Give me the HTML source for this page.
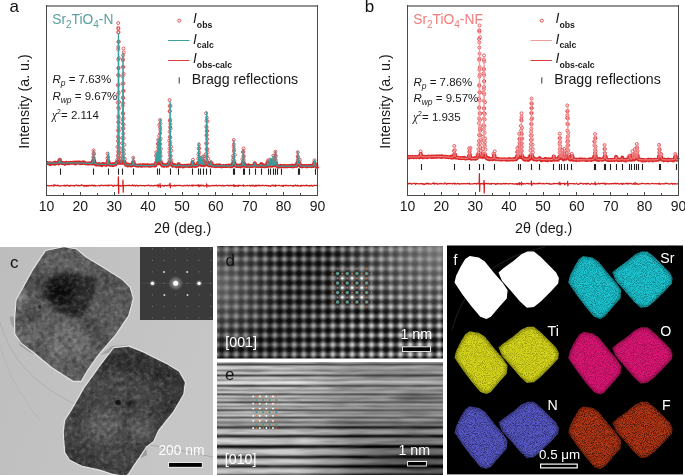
<!DOCTYPE html>
<html><head><meta charset="utf-8"><style>html,body{margin:0;padding:0;background:#fff;}svg{display:block;will-change:transform;}</style></head>
<body><svg width="685" height="475" viewBox="0 0 685 475" font-family="Liberation Sans">
<rect width="685" height="475" fill="#fff"/>
<path d="M46.5,162.98 47.11,163.08 47.72,162.92 48.33,163.44 48.94,163.38 49.55,163.19 50.16,164.08 50.77,163.44 51.38,163.59 51.99,163.32 52.6,163.41 53.21,163.54 53.82,163.03 54.43,162.8 55.04,163.84 55.65,162.73 56.26,162.82 56.87,163.13 57.48,162.99 58.09,163.16 58.69,163.44 58.9,163.05 59,162.03 59.1,162.22 59.2,162.06 59.3,161.36 59.41,160.03 59.51,160.03 59.61,160.54 59.71,160.21 59.81,160.04 59.91,159.8 60.02,160.91 60.12,162.13 60.22,161.75 60.32,162.68 60.42,162.65 60.52,162.45 61.13,162.61 61.74,163.2 62.35,163.07 62.96,162.89 63.57,163.17 64.18,163.22 64.79,163.84 65.4,163.02 66.01,162.82 66.62,162.71 67.23,163.15 67.84,163.23 68.45,162.91 69.06,163.24 69.67,162.97 70.28,162.84 70.89,162.75 71.5,162.9 72.11,162.94 72.72,162.75 73.33,162.53 73.94,162.52 74.55,163.18 75.16,162.65 75.77,163.37 76.38,162.41 76.99,162.79 77.6,162.73 78.21,162.43 78.82,162.3 79.43,162.58 80.04,163.21 80.65,162.6 81.26,162.98 81.87,163.02 82.48,163.11 83.08,162.25 83.69,162.78 84.3,162.39 84.91,163.17 85.52,163.29 86.13,163.44 86.74,163.37 87.35,163.55 87.96,163.54 88.57,163.4 89.18,163.58 89.79,163.09 90.4,163.44 91.01,163.07 91.62,163.16 92.13,163.27 92.23,163.59 92.33,163.06 92.43,163.23 92.54,162.95 92.64,163.19 92.74,162.77 92.84,162.03 92.94,161.87 93.04,160.81 93.15,160.69 93.25,161.25 93.35,160.75 93.45,160.56 93.55,160.11 93.65,160.31 93.76,161.05 93.86,159.79 93.96,161.09 94.06,160.45 94.16,160.7 94.26,162.21 94.37,161.93 94.47,162.61 94.57,162.73 94.67,163.08 94.77,163.61 94.87,163.92 94.98,162.93 95.28,163.28 95.89,164.54 96.5,164.12 97.11,164.58 97.72,164.62 98.33,164.14 98.94,163.93 99.55,164.49 100.16,164.4 100.77,164.79 101.38,164.5 101.99,165.15 102.6,163.95 103.21,163.96 103.82,164.35 104.43,164.18 105.04,164.57 105.65,164.31 106.26,164.87 106.66,164.41 106.76,164.46 106.87,164.11 106.97,164.2 107.07,164 107.17,163.71 107.27,163.9 107.37,162.93 107.47,162.92 107.58,162.1 107.68,162.2 107.78,161.75 107.88,161.31 107.98,161.8 108.08,161.96 108.19,162 108.29,162.13 108.39,162.11 108.49,162.03 108.59,162.3 108.69,161.89 108.8,163.06 108.9,163.51 109,163.91 109.1,164.15 109.2,164.05 109.3,164.18 109.41,164.34 109.51,163.71 109.61,164.55 109.71,164.77 109.81,164.46 109.91,164.43 110.52,164.59 111.13,165.04 111.74,164.56 112.35,165.02 112.96,164.25 113.17,164.49 113.27,165.13 113.37,164.49 113.47,164.21 113.57,164.72 113.67,164.48 113.78,164.59 113.88,164.76 113.98,164.43 114.08,164.7 114.18,164.46 114.28,164.54 114.39,164.42 114.49,164.07 114.59,164.19 114.69,164.22 114.79,164.62 114.89,164.11 115,164.02 115.1,164.33 115.2,164.46 115.3,164.22 115.4,164.04 115.5,163.62 115.6,164.15 115.71,164.27 115.81,163.78 115.91,163.84 116.01,163.42 116.11,163.36 116.21,163.47 116.32,163.23 116.42,163.26 116.52,162.97 116.62,162.54 116.72,162.23 116.82,162.35 116.93,161.83 117.03,162.34 117.13,162.08 117.23,161.78 117.33,161.91 117.43,162.08 117.54,162.94 117.64,162.16 117.74,161.82 117.84,162.49 117.94,161.89 118.04,161.8 118.15,162.32 118.25,162.51 118.35,162.82 118.45,162.33 118.55,161.99 118.65,162.24 118.76,162.64 118.86,162.72 118.96,161.99 119.06,162.75 119.16,162.18 119.26,161.89 119.37,162.45 119.47,162.29 119.57,161.81 119.67,161.96 119.77,162.27 119.87,162.39 119.97,161.92 120.08,162.6 120.18,162 120.28,161.98 120.38,162.48 120.48,162.64 120.58,162.2 120.69,162.3 120.79,162.5 120.89,162.73 120.99,162.23 121.09,162.24 121.19,162.1 121.3,161.78 121.4,162.49 121.5,162.17 121.6,162.59 121.7,162.15 121.8,162.7 121.91,162.37 122.01,162.61 122.11,161.92 122.21,162.1 122.31,162.14 122.41,162.87 122.52,162.44 122.62,162.16 122.72,161.64 122.82,162.02 122.92,162.72 123.02,162.17 123.13,162.5 123.23,161.82 123.33,162.44 123.43,162.64 123.53,162.46 123.63,162.03 123.73,162 123.84,162.51 123.94,162.01 124.04,161.9 124.14,162.38 124.24,162 124.34,161.99 124.45,162.28 124.55,162.3 124.65,162.02 124.75,162.75 124.85,163.37 124.95,163.44 125.06,163.73 125.16,163.88 125.26,163.75 125.36,163.93 125.46,163.67 125.56,163.79 125.67,163.92 125.77,163.88 125.87,164.9 125.97,164.77 126.07,163.96 126.17,164.68 126.28,164.56 126.38,164.71 126.48,164.74 126.58,164.94 126.68,164.34 126.78,164.44 126.89,164.63 126.99,165.06 127.09,164.82 127.19,164.82 127.29,164.79 127.39,165.12 127.5,165.02 127.6,165.35 127.7,165.52 127.8,165.16 127.9,164.72 128,164.63 128.21,164.99 128.82,165.15 129.43,165.15 130.04,165.26 130.65,165.19 131.26,165.56 131.86,165.04 131.97,165.39 132.07,165.03 132.17,164.8 132.27,164.84 132.37,164.51 132.47,164.49 132.58,163.43 132.68,163.51 132.78,162.88 132.88,162.81 132.98,162.26 133.08,162.15 133.19,162.84 133.29,162.06 133.39,162.45 133.49,162.38 133.59,162.56 133.69,163.22 133.8,164.15 133.9,163.68 134,164.47 134.1,164.15 134.2,164.68 134.3,164.51 134.41,164.95 134.91,165.05 135.52,165.38 136.13,165.51 136.74,165.4 137.35,165.6 137.96,165.74 138.57,165.38 139.18,165.43 139.79,165.22 140.4,165.18 141.01,165.67 141.62,165.94 142.23,165.53 142.84,165.04 143.45,165.27 144.06,165.57 144.67,165.54 145.28,165.24 145.89,165.56 146.5,165.55 147.11,165.1 147.72,165.23 148.33,165.7 148.94,165.25 149.55,165.46 150.16,165.88 150.77,165.76 151.38,165.71 151.99,165.12 152.6,165.24 153.21,165.42 153.82,165.35 154.43,165.49 154.53,165.46 154.63,165.53 154.73,165.62 154.83,165.12 154.93,164.81 155.04,165.33 155.14,165.06 155.24,165 155.34,164.72 155.44,164.72 155.54,165.35 155.65,163.93 155.75,164.45 155.85,163.96 155.95,163.48 156.05,162.55 156.15,162.7 156.25,162.56 156.36,162.62 156.46,162.57 156.56,163.2 156.66,163.02 156.76,162.88 156.86,162.84 156.97,162.54 157.07,162.27 157.17,162.81 157.27,162.43 157.37,162.54 157.47,162.43 157.58,162.57 157.68,162.55 157.78,163.1 157.88,163.15 157.98,162.71 158.08,162.88 158.19,162.7 158.29,162.8 158.39,162.58 158.49,162.83 158.59,162.24 158.69,161.97 158.8,163.27 158.9,162.76 159,162.72 159.1,162.88 159.2,162.77 159.3,162.96 159.41,162.39 159.51,162.53 159.61,163.11 159.71,162.8 159.81,162.51 159.91,162.32 160.02,163.26 160.12,163.04 160.22,162.9 160.32,162.29 160.42,162.54 160.52,162.38 160.62,162.15 160.73,162.55 160.83,162.6 160.93,163.36 161.03,162.32 161.13,163.03 161.23,163.3 161.34,163.77 161.44,163.89 161.54,164.37 161.64,164.23 161.74,164.77 161.84,164.77 161.95,164.37 162.05,164.69 162.15,165.38 162.25,165.43 162.35,164.71 162.45,165.13 162.56,165.57 162.66,165.27 162.76,164.96 162.86,165.38 162.96,165.27 163.06,164.74 163.17,165.41 163.27,165.34 163.37,165.5 163.47,165.87 163.57,165.89 163.67,165.83 164.18,165.91 164.79,165.15 165.4,165.12 166.01,165.53 166.42,165.37 166.52,165.5 166.62,165.21 166.72,165.51 166.82,165.8 166.93,165.26 167.03,165.25 167.13,165.09 167.23,164.6 167.33,165.12 167.43,165.09 167.54,165.19 167.64,164.86 167.74,165.44 167.84,165.28 167.94,165.47 168.04,164.01 168.15,164.56 168.25,164.84 168.35,164.65 168.45,164.5 168.55,164.2 168.65,164.33 168.75,163.66 168.86,163.41 168.96,163.84 169.06,162.74 169.16,163.12 169.26,162.87 169.36,163.07 169.47,162.84 169.57,163.12 169.67,163.19 169.77,162.79 169.87,162.68 169.97,162.65 170.08,162.57 170.18,163.29 170.28,163.39 170.38,162.28 170.48,162.6 170.58,162.88 170.69,163.11 170.79,162.48 170.89,162.67 170.99,162.88 171.09,163.1 171.19,162.57 171.3,163.28 171.4,163.12 171.5,164 171.6,163.79 171.7,164.09 171.8,164.62 171.91,164.66 172.01,164.89 172.11,164.73 172.21,164.79 172.31,165.33 172.41,165.6 172.51,165.22 172.62,165.28 172.72,164.97 172.82,165.8 172.92,165.17 173.02,165.44 173.12,165.76 173.23,164.53 173.33,165.3 173.43,165.01 173.94,165.38 174.55,165.59 175.16,165.2 175.77,166.02 176.38,166.41 176.99,165.61 177.6,165.67 178.1,165.89 178.21,165.3 178.31,164.59 178.41,164.81 178.51,164.2 178.61,164.67 178.71,164.19 178.82,165.09 178.92,164.56 179.02,165.14 179.12,164.75 179.43,166.43 180.04,165.77 180.64,165.69 181.25,165.93 181.86,165.86 182.47,165.97 183.08,166.53 183.69,166.33 184.3,165.71 184.91,165.95 185.52,165.82 186.13,166 186.74,165.54 187.35,165.74 187.96,165.38 188.57,166.01 189.18,165.64 189.79,166.19 190.4,165.85 191.01,165.3 191.62,166.01 191.72,164.75 191.82,166.05 191.93,165.38 192.03,164.87 192.13,164.19 192.23,163.32 192.33,162.92 192.43,162.73 192.54,162.99 192.64,162.19 192.74,163.07 192.84,163.33 192.94,164.2 193.04,164.55 193.14,164.61 193.25,165.32 193.35,165.3 193.45,165.39 194.06,165.71 194.67,165.99 195.28,166.12 195.89,165.32 196.5,165.65 196.8,164.92 196.9,165.13 197.01,165.1 197.11,165.32 197.21,165.33 197.31,165.38 197.41,165.22 197.51,165.09 197.62,164.6 197.72,165.03 197.82,164.42 197.92,164.69 198.02,164.09 198.12,164.33 198.23,162.63 198.33,163.09 198.43,163.28 198.53,162.8 198.63,162.85 198.73,163.47 198.84,163.25 198.94,163.06 199.04,162.79 199.14,162.8 199.24,162.47 199.34,163.47 199.45,162.98 199.55,163.16 199.65,163.39 199.75,163.65 199.85,163.77 199.95,164.46 200.06,163.56 200.16,164.49 200.26,164.07 200.36,163.5 200.46,163.19 200.56,163.33 200.67,162.78 200.77,163.08 200.87,162.88 200.97,162.96 201.07,163.25 201.17,162.87 201.27,162.69 201.38,162.91 201.48,163.53 201.58,164.22 201.68,164.53 201.78,165.04 201.88,164.65 201.99,164.57 202.09,164.53 202.19,164.86 202.29,164.78 202.39,164.06 202.49,164.81 202.6,163.7 202.7,162.53 202.8,162.44 202.9,163.05 203,163.03 203.1,162.62 203.21,162.96 203.31,162.95 203.41,162.91 203.51,163.34 203.61,162.56 203.71,163.08 203.82,163.45 203.92,164.31 204.02,164.6 204.12,165.36 204.22,164.48 204.32,164.88 204.43,164.78 204.53,164.85 204.63,164.59 204.73,164.4 204.83,164.51 204.93,164.39 205.03,164.83 205.14,164.36 205.24,164.7 205.34,163.79 205.44,163.27 205.54,163.34 205.64,163 205.75,163.6 205.85,162.62 205.95,163.22 206.05,162.86 206.15,162.77 206.25,163.26 206.36,162.78 206.46,163.55 206.56,163.18 206.66,163.23 206.76,162.92 206.86,163.11 206.97,163.29 207.07,162.76 207.17,162.97 207.27,162.72 207.37,162.89 207.47,163.04 207.58,162.41 207.68,162.99 207.78,162.86 207.88,163.75 207.98,163.49 208.08,164.01 208.19,164.27 208.29,164.87 208.39,164.68 208.49,165.28 208.59,165.18 208.69,164.72 208.8,164.67 208.9,165.07 209,165.38 209.1,165.18 209.2,164.96 209.3,165.45 209.4,165.24 209.51,165.09 209.61,165.43 209.71,165.31 209.81,164.88 209.91,165.32 210.01,165.47 210.12,165.06 210.22,164.8 210.32,165.35 210.42,165.3 210.52,164.63 210.62,164.29 210.73,163.31 210.83,162.96 210.93,162.52 211.03,162.84 211.13,163.01 211.23,162.75 211.34,162.9 211.44,162.97 211.54,164 211.64,164.16 211.74,164.38 211.84,164.88 211.95,165.07 212.05,165.55 212.15,165.87 212.25,165.17 212.35,165.62 212.96,165.87 213.57,165.7 214.18,165.77 214.79,165.59 215.4,166.22 216.01,166.06 216.62,165.56 217.23,165.96 217.84,165.5 218.45,166.02 219.06,166.18 219.67,165.33 220.28,165.81 220.89,165.85 221.5,166.57 222.11,166.11 222.72,166.14 223.33,165.9 223.94,165.99 224.55,166.15 225.16,166 225.77,166.13 226.38,165.91 226.99,165.58 227.6,166.03 228.21,165.96 228.82,165.49 229.42,165.6 230.03,165.71 230.64,166.26 231.25,165.93 231.86,166.07 231.97,164.87 232.07,165.6 232.17,165.89 232.27,165.22 232.37,165.4 232.47,164.88 232.58,165.14 232.68,164.84 232.78,164.2 232.88,164.67 232.98,163.9 233.08,163.28 233.19,162.53 233.29,163.29 233.39,162.86 233.49,163.27 233.59,162.71 233.69,163.41 233.79,162.95 233.9,163.07 234,162.9 234.1,162.55 234.2,162.99 234.3,163.41 234.4,163.43 234.51,162.95 234.61,163.84 234.71,164.04 234.81,164.13 234.91,164.72 235.01,164.97 235.12,165.42 235.22,164.58 235.32,165.69 235.42,165.67 235.52,165.67 235.62,165.13 235.73,165.13 235.83,165.94 236.13,165.64 236.74,166.14 237.35,165.54 237.96,166.12 238.57,166.1 239.18,165.54 239.79,165.84 240.4,166.43 241.01,165.6 241.62,166.01 241.72,165.63 241.82,165.29 241.92,165.35 242.03,165.12 242.13,165.86 242.23,164.73 242.33,164.66 242.43,164.77 242.53,164.65 242.64,163.3 242.74,162.81 242.84,163 242.94,162.97 243.04,163.08 243.14,162.88 243.25,163.06 243.35,163.29 243.45,162.72 243.55,162.59 243.65,162.84 243.75,163.11 243.86,163.86 243.96,163.64 244.06,164.33 244.16,163.77 244.26,164.39 244.36,165.34 244.47,165.12 244.57,165.19 244.67,165.73 244.77,165.92 244.87,165.79 244.97,165.72 245.28,165.23 245.89,165.82 246.5,166.2 247.11,165.91 247.72,165.55 248.33,165.28 248.94,165.91 249.55,166.19 250.16,165.8 250.77,165.97 251.38,166.16 251.99,165.87 252.6,165.98 253.21,165.8 253.81,165.67 254.22,165.67 254.32,165.44 254.42,164.82 254.53,163.95 254.63,163.92 254.73,163.52 254.83,163.31 254.93,163.49 255.03,163.8 255.14,164.31 255.24,165.06 255.34,165.46 255.44,165.72 255.64,165.54 256.25,165.43 256.86,166.13 257.47,166.14 258.08,166.13 258.69,166.2 259.3,165.58 259.91,165.81 260.52,166.04 260.73,165.46 260.83,165.33 260.93,165.5 261.03,164.91 261.13,164.17 261.23,164.17 261.34,163.92 261.44,164.56 261.54,164.42 261.64,164.69 261.74,165.92 261.84,165.97 262.35,165.7 262.96,166.16 263.57,165.32 264.18,166.05 264.79,166.36 265.4,166.22 266.01,165.98 266.62,165.73 266.72,165.75 266.82,166.21 266.92,165.31 267.03,165.28 267.13,165.05 267.23,163.96 267.33,163.82 267.43,162.56 267.53,163.06 267.64,162.99 267.74,163.1 267.84,162.74 267.94,163.01 268.04,163.21 268.14,163.67 268.25,164.84 268.35,164.43 268.45,165.23 268.55,165.91 268.65,165.24 268.75,165.59 268.86,165.49 268.96,165.44 269.06,165.79 269.16,165.19 269.26,165.7 269.36,165.08 269.47,165.33 269.57,165.51 269.67,164.88 269.77,164.7 269.87,164.76 269.97,163.24 270.07,163.21 270.18,163.32 270.28,163.3 270.38,163.12 270.48,163.04 270.58,163.19 270.68,163.23 270.79,163.52 270.89,163.52 270.99,164.52 271.09,165.36 271.19,164.59 271.29,165.18 271.4,165.27 271.5,165.36 271.6,165.85 271.7,165.36 271.8,165.49 271.9,165.9 272.01,164.73 272.11,164.91 272.21,164.82 272.31,164.98 272.41,164.8 272.51,163.85 272.62,163.66 272.72,163.6 272.82,162.89 272.92,162.96 273.02,162.82 273.12,163.31 273.23,162.99 273.33,163.4 273.43,163.46 273.53,163.13 273.63,162.91 273.73,163.24 273.84,164.6 273.94,164.95 274.04,164.97 274.14,164.78 274.24,165.37 274.34,165.01 274.44,165.15 274.55,165.06 274.65,164.89 274.75,164.41 274.85,163.07 274.95,163.24 275.05,163.1 275.16,162.97 275.26,162.86 275.36,162.84 275.46,162.99 275.56,163.04 275.66,163.14 275.77,162.56 275.87,162.86 275.97,163.33 276.07,163.45 276.17,163.87 276.27,164.41 276.38,165.47 276.48,164.84 276.58,165.62 276.68,165.68 276.78,165.63 276.88,165.91 276.99,165.86 277.09,165.66 277.6,166.09 278.2,166.71 278.81,166.07 279.42,166.34 280.03,166.63 280.64,165.8 281.25,166.08 281.86,165.81 282.47,166.14 283.08,165.95 283.69,166.46 284.3,166.03 284.91,166.32 285.52,166.17 286.13,166.25 286.74,165.85 287.35,166.41 287.96,166.09 288.57,166.06 289.18,165.88 289.79,166.26 290.4,165.97 291.01,165.89 291.62,166.1 292.23,165.43 292.84,166.44 293.45,165.94 294.06,166.35 294.67,165.67 295.28,165.37 295.89,165.59 296.29,165.84 296.4,166.05 296.5,166.02 296.6,165.86 296.7,165.2 296.8,165.13 296.9,165.22 297.01,165.06 297.11,164.13 297.21,163.42 297.31,162.75 297.41,163.51 297.51,162.87 297.62,163.24 297.72,163.17 297.82,163.29 297.92,162.69 298.02,163.17 298.12,163.42 298.23,163.33 298.33,163.04 298.43,163.38 298.53,163.32 298.63,163.35 298.73,163.24 298.83,163.83 298.94,163.01 299.04,162.7 299.14,163.36 299.24,163.39 299.34,163.31 299.44,163.12 299.55,163.46 299.65,164.39 299.75,164.95 299.85,164.37 299.95,165.03 300.05,165.55 300.16,164.95 300.26,166.21 300.36,165.98 300.77,165.66 301.38,165.7 301.99,166.4 302.59,165.99 303.2,166.19 303.81,165.8 304.42,165.79 305.03,165.99 305.64,166.14 306.25,166.38 306.86,165.98 307.47,166.37 308.08,166 308.69,165.88 309.3,166.01 309.91,165.99 310.52,165.76 311.13,165.56 311.74,166.26 312.35,166.14 312.96,166.21 313.57,165.24 313.67,165.46 313.77,164.92 313.88,165.34 313.98,164.85 314.08,163.68 314.18,163.59 314.28,162.73 314.38,163.12 314.49,163.23 314.59,163.34 314.69,163.2 314.79,163.39 314.89,164.19 314.99,164.69 315.09,165.6 315.2,165.38 315.3,165.9 315.4,165.96 316.01,165.7 316.62,165.97 317.23,166.75 317.5,166.15" fill="none" stroke="#d92424" stroke-width="3.8" stroke-linejoin="round"/>
<path d="M58.14,160.5a1.5,1.5 0 1,0 3.0,0a1.5,1.5 0 1,0 -3.0,0M91.4,161.07a1.5,1.5 0 1,0 3.0,0a1.5,1.5 0 1,0 -3.0,0M91.85,156.93a1.5,1.5 0 1,0 3.0,0a1.5,1.5 0 1,0 -3.0,0M91.96,153.67a1.5,1.5 0 1,0 3.0,0a1.5,1.5 0 1,0 -3.0,0M92.06,150.45a1.5,1.5 0 1,0 3.0,0a1.5,1.5 0 1,0 -3.0,0M92.71,153.8a1.5,1.5 0 1,0 3.0,0a1.5,1.5 0 1,0 -3.0,0M92.19,158.1a1.5,1.5 0 1,0 3.0,0a1.5,1.5 0 1,0 -3.0,0M106.61,161.95a1.5,1.5 0 1,0 3.0,0a1.5,1.5 0 1,0 -3.0,0M105.9,158.25a1.5,1.5 0 1,0 3.0,0a1.5,1.5 0 1,0 -3.0,0M106.08,153.59a1.5,1.5 0 1,0 3.0,0a1.5,1.5 0 1,0 -3.0,0M106.71,156.89a1.5,1.5 0 1,0 3.0,0a1.5,1.5 0 1,0 -3.0,0M106.79,160.17a1.5,1.5 0 1,0 3.0,0a1.5,1.5 0 1,0 -3.0,0M115.45,162.99a1.5,1.5 0 1,0 3.0,0a1.5,1.5 0 1,0 -3.0,0M115.69,159.7a1.5,1.5 0 1,0 3.0,0a1.5,1.5 0 1,0 -3.0,0M116.26,155.68a1.5,1.5 0 1,0 3.0,0a1.5,1.5 0 1,0 -3.0,0M116.49,151.7a1.5,1.5 0 1,0 3.0,0a1.5,1.5 0 1,0 -3.0,0M115.88,146.93a1.5,1.5 0 1,0 3.0,0a1.5,1.5 0 1,0 -3.0,0M116.45,140.91a1.5,1.5 0 1,0 3.0,0a1.5,1.5 0 1,0 -3.0,0M116.44,136.65a1.5,1.5 0 1,0 3.0,0a1.5,1.5 0 1,0 -3.0,0M116.35,130.44a1.5,1.5 0 1,0 3.0,0a1.5,1.5 0 1,0 -3.0,0M116.74,121.98a1.5,1.5 0 1,0 3.0,0a1.5,1.5 0 1,0 -3.0,0M116.8,116.26a1.5,1.5 0 1,0 3.0,0a1.5,1.5 0 1,0 -3.0,0M116.62,107.73a1.5,1.5 0 1,0 3.0,0a1.5,1.5 0 1,0 -3.0,0M116.1,102.66a1.5,1.5 0 1,0 3.0,0a1.5,1.5 0 1,0 -3.0,0M115.98,94.62a1.5,1.5 0 1,0 3.0,0a1.5,1.5 0 1,0 -3.0,0M116.21,85.26a1.5,1.5 0 1,0 3.0,0a1.5,1.5 0 1,0 -3.0,0M116.57,74.89a1.5,1.5 0 1,0 3.0,0a1.5,1.5 0 1,0 -3.0,0M116.97,68.05a1.5,1.5 0 1,0 3.0,0a1.5,1.5 0 1,0 -3.0,0M116.67,59.51a1.5,1.5 0 1,0 3.0,0a1.5,1.5 0 1,0 -3.0,0M116.65,49.26a1.5,1.5 0 1,0 3.0,0a1.5,1.5 0 1,0 -3.0,0M116.8,41.92a1.5,1.5 0 1,0 3.0,0a1.5,1.5 0 1,0 -3.0,0M116.8,32.19a1.5,1.5 0 1,0 3.0,0a1.5,1.5 0 1,0 -3.0,0M116.77,27.84a1.5,1.5 0 1,0 3.0,0a1.5,1.5 0 1,0 -3.0,0M116.76,23.07a1.5,1.5 0 1,0 3.0,0a1.5,1.5 0 1,0 -3.0,0M116.95,28.81a1.5,1.5 0 1,0 3.0,0a1.5,1.5 0 1,0 -3.0,0M116.91,32.22a1.5,1.5 0 1,0 3.0,0a1.5,1.5 0 1,0 -3.0,0M117.36,41.64a1.5,1.5 0 1,0 3.0,0a1.5,1.5 0 1,0 -3.0,0M116.82,46.94a1.5,1.5 0 1,0 3.0,0a1.5,1.5 0 1,0 -3.0,0M117.32,58.18a1.5,1.5 0 1,0 3.0,0a1.5,1.5 0 1,0 -3.0,0M117,68.04a1.5,1.5 0 1,0 3.0,0a1.5,1.5 0 1,0 -3.0,0M117.43,75.54a1.5,1.5 0 1,0 3.0,0a1.5,1.5 0 1,0 -3.0,0M116.98,84.83a1.5,1.5 0 1,0 3.0,0a1.5,1.5 0 1,0 -3.0,0M117.31,92.67a1.5,1.5 0 1,0 3.0,0a1.5,1.5 0 1,0 -3.0,0M117.63,102.04a1.5,1.5 0 1,0 3.0,0a1.5,1.5 0 1,0 -3.0,0M117.62,108.52a1.5,1.5 0 1,0 3.0,0a1.5,1.5 0 1,0 -3.0,0M117.17,117.87a1.5,1.5 0 1,0 3.0,0a1.5,1.5 0 1,0 -3.0,0M117.27,122.69a1.5,1.5 0 1,0 3.0,0a1.5,1.5 0 1,0 -3.0,0M117.14,127.15a1.5,1.5 0 1,0 3.0,0a1.5,1.5 0 1,0 -3.0,0M117.41,130.74a1.5,1.5 0 1,0 3.0,0a1.5,1.5 0 1,0 -3.0,0M117.09,137.93a1.5,1.5 0 1,0 3.0,0a1.5,1.5 0 1,0 -3.0,0M117.37,143.02a1.5,1.5 0 1,0 3.0,0a1.5,1.5 0 1,0 -3.0,0M117.61,147.48a1.5,1.5 0 1,0 3.0,0a1.5,1.5 0 1,0 -3.0,0M117.75,152.08a1.5,1.5 0 1,0 3.0,0a1.5,1.5 0 1,0 -3.0,0M117,156.05a1.5,1.5 0 1,0 3.0,0a1.5,1.5 0 1,0 -3.0,0M118.48,158.58a1.5,1.5 0 1,0 3.0,0a1.5,1.5 0 1,0 -3.0,0M118.91,161.95a1.5,1.5 0 1,0 3.0,0a1.5,1.5 0 1,0 -3.0,0M120.17,161.48a1.5,1.5 0 1,0 3.0,0a1.5,1.5 0 1,0 -3.0,0M120.65,157.31a1.5,1.5 0 1,0 3.0,0a1.5,1.5 0 1,0 -3.0,0M120.47,153.57a1.5,1.5 0 1,0 3.0,0a1.5,1.5 0 1,0 -3.0,0M120.78,149.02a1.5,1.5 0 1,0 3.0,0a1.5,1.5 0 1,0 -3.0,0M120.8,143.32a1.5,1.5 0 1,0 3.0,0a1.5,1.5 0 1,0 -3.0,0M120.68,137.9a1.5,1.5 0 1,0 3.0,0a1.5,1.5 0 1,0 -3.0,0M121.07,128.64a1.5,1.5 0 1,0 3.0,0a1.5,1.5 0 1,0 -3.0,0M121.33,123.78a1.5,1.5 0 1,0 3.0,0a1.5,1.5 0 1,0 -3.0,0M120.99,119.86a1.5,1.5 0 1,0 3.0,0a1.5,1.5 0 1,0 -3.0,0M121.2,112.91a1.5,1.5 0 1,0 3.0,0a1.5,1.5 0 1,0 -3.0,0M121.22,105.64a1.5,1.5 0 1,0 3.0,0a1.5,1.5 0 1,0 -3.0,0M121.34,97.5a1.5,1.5 0 1,0 3.0,0a1.5,1.5 0 1,0 -3.0,0M121.73,90.67a1.5,1.5 0 1,0 3.0,0a1.5,1.5 0 1,0 -3.0,0M121,83.69a1.5,1.5 0 1,0 3.0,0a1.5,1.5 0 1,0 -3.0,0M121.14,76.28a1.5,1.5 0 1,0 3.0,0a1.5,1.5 0 1,0 -3.0,0M121.38,66.96a1.5,1.5 0 1,0 3.0,0a1.5,1.5 0 1,0 -3.0,0M121.32,60.31a1.5,1.5 0 1,0 3.0,0a1.5,1.5 0 1,0 -3.0,0M121.55,55.49a1.5,1.5 0 1,0 3.0,0a1.5,1.5 0 1,0 -3.0,0M121.98,48.46a1.5,1.5 0 1,0 3.0,0a1.5,1.5 0 1,0 -3.0,0M122.26,52.4a1.5,1.5 0 1,0 3.0,0a1.5,1.5 0 1,0 -3.0,0M121.41,59.28a1.5,1.5 0 1,0 3.0,0a1.5,1.5 0 1,0 -3.0,0M121.83,66.93a1.5,1.5 0 1,0 3.0,0a1.5,1.5 0 1,0 -3.0,0M122.08,73.76a1.5,1.5 0 1,0 3.0,0a1.5,1.5 0 1,0 -3.0,0M122.05,83.57a1.5,1.5 0 1,0 3.0,0a1.5,1.5 0 1,0 -3.0,0M121.91,91.01a1.5,1.5 0 1,0 3.0,0a1.5,1.5 0 1,0 -3.0,0M121.67,98.06a1.5,1.5 0 1,0 3.0,0a1.5,1.5 0 1,0 -3.0,0M121.64,103.2a1.5,1.5 0 1,0 3.0,0a1.5,1.5 0 1,0 -3.0,0M121.64,113.87a1.5,1.5 0 1,0 3.0,0a1.5,1.5 0 1,0 -3.0,0M122.03,118.21a1.5,1.5 0 1,0 3.0,0a1.5,1.5 0 1,0 -3.0,0M122.15,124.73a1.5,1.5 0 1,0 3.0,0a1.5,1.5 0 1,0 -3.0,0M121.95,128.53a1.5,1.5 0 1,0 3.0,0a1.5,1.5 0 1,0 -3.0,0M121.88,133.65a1.5,1.5 0 1,0 3.0,0a1.5,1.5 0 1,0 -3.0,0M122.16,138.19a1.5,1.5 0 1,0 3.0,0a1.5,1.5 0 1,0 -3.0,0M122.89,144.71a1.5,1.5 0 1,0 3.0,0a1.5,1.5 0 1,0 -3.0,0M122.32,150.09a1.5,1.5 0 1,0 3.0,0a1.5,1.5 0 1,0 -3.0,0M122.45,153.94a1.5,1.5 0 1,0 3.0,0a1.5,1.5 0 1,0 -3.0,0M122.04,157.57a1.5,1.5 0 1,0 3.0,0a1.5,1.5 0 1,0 -3.0,0M123.33,159.1a1.5,1.5 0 1,0 3.0,0a1.5,1.5 0 1,0 -3.0,0M122.91,162.58a1.5,1.5 0 1,0 3.0,0a1.5,1.5 0 1,0 -3.0,0M130.69,163.64a1.5,1.5 0 1,0 3.0,0a1.5,1.5 0 1,0 -3.0,0M131.91,162.55a1.5,1.5 0 1,0 3.0,0a1.5,1.5 0 1,0 -3.0,0M131.69,157.74a1.5,1.5 0 1,0 3.0,0a1.5,1.5 0 1,0 -3.0,0M132.15,161.54a1.5,1.5 0 1,0 3.0,0a1.5,1.5 0 1,0 -3.0,0M154.81,163.01a1.5,1.5 0 1,0 3.0,0a1.5,1.5 0 1,0 -3.0,0M155.16,159a1.5,1.5 0 1,0 3.0,0a1.5,1.5 0 1,0 -3.0,0M154.49,155.6a1.5,1.5 0 1,0 3.0,0a1.5,1.5 0 1,0 -3.0,0M154.79,152.15a1.5,1.5 0 1,0 3.0,0a1.5,1.5 0 1,0 -3.0,0M155.12,155.74a1.5,1.5 0 1,0 3.0,0a1.5,1.5 0 1,0 -3.0,0M155.57,159.99a1.5,1.5 0 1,0 3.0,0a1.5,1.5 0 1,0 -3.0,0M156.31,156.66a1.5,1.5 0 1,0 3.0,0a1.5,1.5 0 1,0 -3.0,0M156.43,152.6a1.5,1.5 0 1,0 3.0,0a1.5,1.5 0 1,0 -3.0,0M156.55,147.43a1.5,1.5 0 1,0 3.0,0a1.5,1.5 0 1,0 -3.0,0M156.4,143.75a1.5,1.5 0 1,0 3.0,0a1.5,1.5 0 1,0 -3.0,0M156.8,139.82a1.5,1.5 0 1,0 3.0,0a1.5,1.5 0 1,0 -3.0,0M156.68,144.04a1.5,1.5 0 1,0 3.0,0a1.5,1.5 0 1,0 -3.0,0M157.21,149.27a1.5,1.5 0 1,0 3.0,0a1.5,1.5 0 1,0 -3.0,0M157.1,153.16a1.5,1.5 0 1,0 3.0,0a1.5,1.5 0 1,0 -3.0,0M157.44,157.53a1.5,1.5 0 1,0 3.0,0a1.5,1.5 0 1,0 -3.0,0M157.44,160.82a1.5,1.5 0 1,0 3.0,0a1.5,1.5 0 1,0 -3.0,0M157.97,156.4a1.5,1.5 0 1,0 3.0,0a1.5,1.5 0 1,0 -3.0,0M157.91,152.42a1.5,1.5 0 1,0 3.0,0a1.5,1.5 0 1,0 -3.0,0M157.91,147.44a1.5,1.5 0 1,0 3.0,0a1.5,1.5 0 1,0 -3.0,0M158.01,143.98a1.5,1.5 0 1,0 3.0,0a1.5,1.5 0 1,0 -3.0,0M158.17,140.37a1.5,1.5 0 1,0 3.0,0a1.5,1.5 0 1,0 -3.0,0M157.63,135.79a1.5,1.5 0 1,0 3.0,0a1.5,1.5 0 1,0 -3.0,0M158.83,129.7a1.5,1.5 0 1,0 3.0,0a1.5,1.5 0 1,0 -3.0,0M157.83,125.05a1.5,1.5 0 1,0 3.0,0a1.5,1.5 0 1,0 -3.0,0M158.65,120a1.5,1.5 0 1,0 3.0,0a1.5,1.5 0 1,0 -3.0,0M158.94,123.35a1.5,1.5 0 1,0 3.0,0a1.5,1.5 0 1,0 -3.0,0M158.6,127.44a1.5,1.5 0 1,0 3.0,0a1.5,1.5 0 1,0 -3.0,0M158.74,132.98a1.5,1.5 0 1,0 3.0,0a1.5,1.5 0 1,0 -3.0,0M159.19,138.61a1.5,1.5 0 1,0 3.0,0a1.5,1.5 0 1,0 -3.0,0M158.83,144.05a1.5,1.5 0 1,0 3.0,0a1.5,1.5 0 1,0 -3.0,0M159.3,149.03a1.5,1.5 0 1,0 3.0,0a1.5,1.5 0 1,0 -3.0,0M158.87,152.44a1.5,1.5 0 1,0 3.0,0a1.5,1.5 0 1,0 -3.0,0M159.17,155.98a1.5,1.5 0 1,0 3.0,0a1.5,1.5 0 1,0 -3.0,0M159.15,161.06a1.5,1.5 0 1,0 3.0,0a1.5,1.5 0 1,0 -3.0,0M167.51,163.74a1.5,1.5 0 1,0 3.0,0a1.5,1.5 0 1,0 -3.0,0M167.9,159.81a1.5,1.5 0 1,0 3.0,0a1.5,1.5 0 1,0 -3.0,0M168.5,155.57a1.5,1.5 0 1,0 3.0,0a1.5,1.5 0 1,0 -3.0,0M167.96,152.2a1.5,1.5 0 1,0 3.0,0a1.5,1.5 0 1,0 -3.0,0M168.01,148.56a1.5,1.5 0 1,0 3.0,0a1.5,1.5 0 1,0 -3.0,0M168.33,144.72a1.5,1.5 0 1,0 3.0,0a1.5,1.5 0 1,0 -3.0,0M167.74,140.56a1.5,1.5 0 1,0 3.0,0a1.5,1.5 0 1,0 -3.0,0M168.29,136.71a1.5,1.5 0 1,0 3.0,0a1.5,1.5 0 1,0 -3.0,0M168.15,131.71a1.5,1.5 0 1,0 3.0,0a1.5,1.5 0 1,0 -3.0,0M168.66,127.14a1.5,1.5 0 1,0 3.0,0a1.5,1.5 0 1,0 -3.0,0M168.67,119.81a1.5,1.5 0 1,0 3.0,0a1.5,1.5 0 1,0 -3.0,0M168.13,111.09a1.5,1.5 0 1,0 3.0,0a1.5,1.5 0 1,0 -3.0,0M168.13,106.05a1.5,1.5 0 1,0 3.0,0a1.5,1.5 0 1,0 -3.0,0M168.09,100.06a1.5,1.5 0 1,0 3.0,0a1.5,1.5 0 1,0 -3.0,0M169.01,105.75a1.5,1.5 0 1,0 3.0,0a1.5,1.5 0 1,0 -3.0,0M168.3,111.3a1.5,1.5 0 1,0 3.0,0a1.5,1.5 0 1,0 -3.0,0M168.38,120.86a1.5,1.5 0 1,0 3.0,0a1.5,1.5 0 1,0 -3.0,0M168.9,124.08a1.5,1.5 0 1,0 3.0,0a1.5,1.5 0 1,0 -3.0,0M169.07,128.4a1.5,1.5 0 1,0 3.0,0a1.5,1.5 0 1,0 -3.0,0M168.83,137.37a1.5,1.5 0 1,0 3.0,0a1.5,1.5 0 1,0 -3.0,0M168.88,142.38a1.5,1.5 0 1,0 3.0,0a1.5,1.5 0 1,0 -3.0,0M169.49,146.82a1.5,1.5 0 1,0 3.0,0a1.5,1.5 0 1,0 -3.0,0M169.82,150.45a1.5,1.5 0 1,0 3.0,0a1.5,1.5 0 1,0 -3.0,0M169.27,155.91a1.5,1.5 0 1,0 3.0,0a1.5,1.5 0 1,0 -3.0,0M169.56,159.71a1.5,1.5 0 1,0 3.0,0a1.5,1.5 0 1,0 -3.0,0M169.52,163.09a1.5,1.5 0 1,0 3.0,0a1.5,1.5 0 1,0 -3.0,0M191.33,163.22a1.5,1.5 0 1,0 3.0,0a1.5,1.5 0 1,0 -3.0,0M191.5,159.73a1.5,1.5 0 1,0 3.0,0a1.5,1.5 0 1,0 -3.0,0M191.68,163.61a1.5,1.5 0 1,0 3.0,0a1.5,1.5 0 1,0 -3.0,0M196.49,163.29a1.5,1.5 0 1,0 3.0,0a1.5,1.5 0 1,0 -3.0,0M196.69,158.53a1.5,1.5 0 1,0 3.0,0a1.5,1.5 0 1,0 -3.0,0M196.93,154.38a1.5,1.5 0 1,0 3.0,0a1.5,1.5 0 1,0 -3.0,0M197.11,148.45a1.5,1.5 0 1,0 3.0,0a1.5,1.5 0 1,0 -3.0,0M197.41,144.62a1.5,1.5 0 1,0 3.0,0a1.5,1.5 0 1,0 -3.0,0M197.81,148.31a1.5,1.5 0 1,0 3.0,0a1.5,1.5 0 1,0 -3.0,0M197.7,152.52a1.5,1.5 0 1,0 3.0,0a1.5,1.5 0 1,0 -3.0,0M198.12,157.12a1.5,1.5 0 1,0 3.0,0a1.5,1.5 0 1,0 -3.0,0M198.16,161.37a1.5,1.5 0 1,0 3.0,0a1.5,1.5 0 1,0 -3.0,0M199.51,161.96a1.5,1.5 0 1,0 3.0,0a1.5,1.5 0 1,0 -3.0,0M198.95,158.04a1.5,1.5 0 1,0 3.0,0a1.5,1.5 0 1,0 -3.0,0M200.29,162.38a1.5,1.5 0 1,0 3.0,0a1.5,1.5 0 1,0 -3.0,0M201.57,160.22a1.5,1.5 0 1,0 3.0,0a1.5,1.5 0 1,0 -3.0,0M201.75,156.48a1.5,1.5 0 1,0 3.0,0a1.5,1.5 0 1,0 -3.0,0M201.81,161.44a1.5,1.5 0 1,0 3.0,0a1.5,1.5 0 1,0 -3.0,0M204.26,162.52a1.5,1.5 0 1,0 3.0,0a1.5,1.5 0 1,0 -3.0,0M203.91,158.78a1.5,1.5 0 1,0 3.0,0a1.5,1.5 0 1,0 -3.0,0M204.2,154.3a1.5,1.5 0 1,0 3.0,0a1.5,1.5 0 1,0 -3.0,0M205.03,149.15a1.5,1.5 0 1,0 3.0,0a1.5,1.5 0 1,0 -3.0,0M204.55,143.5a1.5,1.5 0 1,0 3.0,0a1.5,1.5 0 1,0 -3.0,0M204.85,135.82a1.5,1.5 0 1,0 3.0,0a1.5,1.5 0 1,0 -3.0,0M205.23,131.1a1.5,1.5 0 1,0 3.0,0a1.5,1.5 0 1,0 -3.0,0M204.86,126.26a1.5,1.5 0 1,0 3.0,0a1.5,1.5 0 1,0 -3.0,0M204.92,120.78a1.5,1.5 0 1,0 3.0,0a1.5,1.5 0 1,0 -3.0,0M204.55,113.18a1.5,1.5 0 1,0 3.0,0a1.5,1.5 0 1,0 -3.0,0M205.32,117.7a1.5,1.5 0 1,0 3.0,0a1.5,1.5 0 1,0 -3.0,0M206.01,121.37a1.5,1.5 0 1,0 3.0,0a1.5,1.5 0 1,0 -3.0,0M205.14,127.69a1.5,1.5 0 1,0 3.0,0a1.5,1.5 0 1,0 -3.0,0M205.54,131.03a1.5,1.5 0 1,0 3.0,0a1.5,1.5 0 1,0 -3.0,0M205.25,134.79a1.5,1.5 0 1,0 3.0,0a1.5,1.5 0 1,0 -3.0,0M205.6,139.22a1.5,1.5 0 1,0 3.0,0a1.5,1.5 0 1,0 -3.0,0M205.59,143.23a1.5,1.5 0 1,0 3.0,0a1.5,1.5 0 1,0 -3.0,0M205.85,149.15a1.5,1.5 0 1,0 3.0,0a1.5,1.5 0 1,0 -3.0,0M206.09,152.42a1.5,1.5 0 1,0 3.0,0a1.5,1.5 0 1,0 -3.0,0M205.51,156.36a1.5,1.5 0 1,0 3.0,0a1.5,1.5 0 1,0 -3.0,0M206.78,158.72a1.5,1.5 0 1,0 3.0,0a1.5,1.5 0 1,0 -3.0,0M206.18,162.45a1.5,1.5 0 1,0 3.0,0a1.5,1.5 0 1,0 -3.0,0M209.56,162.79a1.5,1.5 0 1,0 3.0,0a1.5,1.5 0 1,0 -3.0,0M231.66,163.39a1.5,1.5 0 1,0 3.0,0a1.5,1.5 0 1,0 -3.0,0M231.53,159.78a1.5,1.5 0 1,0 3.0,0a1.5,1.5 0 1,0 -3.0,0M231.65,155.89a1.5,1.5 0 1,0 3.0,0a1.5,1.5 0 1,0 -3.0,0M232.34,151.22a1.5,1.5 0 1,0 3.0,0a1.5,1.5 0 1,0 -3.0,0M232.17,146.63a1.5,1.5 0 1,0 3.0,0a1.5,1.5 0 1,0 -3.0,0M232.23,139.94a1.5,1.5 0 1,0 3.0,0a1.5,1.5 0 1,0 -3.0,0M232.33,144.25a1.5,1.5 0 1,0 3.0,0a1.5,1.5 0 1,0 -3.0,0M232.64,149.49a1.5,1.5 0 1,0 3.0,0a1.5,1.5 0 1,0 -3.0,0M233.32,154.88a1.5,1.5 0 1,0 3.0,0a1.5,1.5 0 1,0 -3.0,0M232.04,157.59a1.5,1.5 0 1,0 3.0,0a1.5,1.5 0 1,0 -3.0,0M232.94,160.84a1.5,1.5 0 1,0 3.0,0a1.5,1.5 0 1,0 -3.0,0M232.98,164.24a1.5,1.5 0 1,0 3.0,0a1.5,1.5 0 1,0 -3.0,0M241.16,163.02a1.5,1.5 0 1,0 3.0,0a1.5,1.5 0 1,0 -3.0,0M240.86,159.2a1.5,1.5 0 1,0 3.0,0a1.5,1.5 0 1,0 -3.0,0M242.03,155.77a1.5,1.5 0 1,0 3.0,0a1.5,1.5 0 1,0 -3.0,0M241.38,152.04a1.5,1.5 0 1,0 3.0,0a1.5,1.5 0 1,0 -3.0,0M242.07,148.38a1.5,1.5 0 1,0 3.0,0a1.5,1.5 0 1,0 -3.0,0M241.95,151.86a1.5,1.5 0 1,0 3.0,0a1.5,1.5 0 1,0 -3.0,0M242.25,156.85a1.5,1.5 0 1,0 3.0,0a1.5,1.5 0 1,0 -3.0,0M242.21,160.13a1.5,1.5 0 1,0 3.0,0a1.5,1.5 0 1,0 -3.0,0M242.8,163.63a1.5,1.5 0 1,0 3.0,0a1.5,1.5 0 1,0 -3.0,0M253.51,164.17a1.5,1.5 0 1,0 3.0,0a1.5,1.5 0 1,0 -3.0,0M265.69,163.72a1.5,1.5 0 1,0 3.0,0a1.5,1.5 0 1,0 -3.0,0M266.46,160.45a1.5,1.5 0 1,0 3.0,0a1.5,1.5 0 1,0 -3.0,0M266.76,163.77a1.5,1.5 0 1,0 3.0,0a1.5,1.5 0 1,0 -3.0,0M268.06,163.57a1.5,1.5 0 1,0 3.0,0a1.5,1.5 0 1,0 -3.0,0M268.59,159.91a1.5,1.5 0 1,0 3.0,0a1.5,1.5 0 1,0 -3.0,0M269.22,163.46a1.5,1.5 0 1,0 3.0,0a1.5,1.5 0 1,0 -3.0,0M271.16,163.79a1.5,1.5 0 1,0 3.0,0a1.5,1.5 0 1,0 -3.0,0M271.02,159.72a1.5,1.5 0 1,0 3.0,0a1.5,1.5 0 1,0 -3.0,0M271.79,155.59a1.5,1.5 0 1,0 3.0,0a1.5,1.5 0 1,0 -3.0,0M272.48,160.17a1.5,1.5 0 1,0 3.0,0a1.5,1.5 0 1,0 -3.0,0M272.06,163.9a1.5,1.5 0 1,0 3.0,0a1.5,1.5 0 1,0 -3.0,0M273.4,162.34a1.5,1.5 0 1,0 3.0,0a1.5,1.5 0 1,0 -3.0,0M273.43,158.69a1.5,1.5 0 1,0 3.0,0a1.5,1.5 0 1,0 -3.0,0M273.98,155.07a1.5,1.5 0 1,0 3.0,0a1.5,1.5 0 1,0 -3.0,0M273.88,151.74a1.5,1.5 0 1,0 3.0,0a1.5,1.5 0 1,0 -3.0,0M274.27,156.64a1.5,1.5 0 1,0 3.0,0a1.5,1.5 0 1,0 -3.0,0M274.45,160.32a1.5,1.5 0 1,0 3.0,0a1.5,1.5 0 1,0 -3.0,0M274.42,163.82a1.5,1.5 0 1,0 3.0,0a1.5,1.5 0 1,0 -3.0,0M295.89,163.59a1.5,1.5 0 1,0 3.0,0a1.5,1.5 0 1,0 -3.0,0M296.14,160.07a1.5,1.5 0 1,0 3.0,0a1.5,1.5 0 1,0 -3.0,0M296.17,156.21a1.5,1.5 0 1,0 3.0,0a1.5,1.5 0 1,0 -3.0,0M296.25,152.33a1.5,1.5 0 1,0 3.0,0a1.5,1.5 0 1,0 -3.0,0M296.43,157.16a1.5,1.5 0 1,0 3.0,0a1.5,1.5 0 1,0 -3.0,0M296.98,161.62a1.5,1.5 0 1,0 3.0,0a1.5,1.5 0 1,0 -3.0,0M298.35,159.9a1.5,1.5 0 1,0 3.0,0a1.5,1.5 0 1,0 -3.0,0M297.84,164.24a1.5,1.5 0 1,0 3.0,0a1.5,1.5 0 1,0 -3.0,0M313.01,163.68a1.5,1.5 0 1,0 3.0,0a1.5,1.5 0 1,0 -3.0,0M313,160.3a1.5,1.5 0 1,0 3.0,0a1.5,1.5 0 1,0 -3.0,0" fill="none" stroke="#e0393d" stroke-width="0.8"/>
<path d="M46.5,163.09 49.51,163.18 52.53,163.23 55.54,163.23 58.56,163.02 58.97,162.72 59.1,162.4 59.2,162 59.27,161.63 59.34,161.18 59.41,160.64 59.47,160.04 59.51,159.74 59.58,159.18 59.64,158.76 59.85,159.17 59.91,159.73 59.95,160.03 59.98,160.33 60.05,160.9 60.12,161.4 60.19,161.81 60.25,162.14 60.35,162.48 60.52,162.78 61.47,163.08 64.49,163.08 67.5,162.99 70.52,162.9 73.53,162.83 76.55,162.81 79.56,162.84 82.58,162.94 85.59,163.09 88.61,163.28 91.62,163.35 92.43,163.04 92.67,162.72 92.81,162.33 92.87,162.02 92.94,161.57 93.01,160.96 93.04,160.57 93.08,160.13 93.11,159.63 93.15,159.06 93.18,158.42 93.21,157.72 93.25,156.96 93.28,156.14 93.32,155.29 93.35,154.41 93.38,153.53 93.42,152.67 93.45,151.89 93.48,151.21 93.52,150.68 93.55,150.35 93.65,150.69 93.69,151.23 93.72,151.91 93.76,152.7 93.79,153.56 93.82,154.45 93.86,155.33 93.89,156.2 93.92,157.02 93.96,157.78 93.99,158.49 94.03,159.13 94.06,159.71 94.09,160.22 94.13,160.67 94.16,161.06 94.2,161.4 94.26,161.93 94.33,162.32 94.43,162.71 94.57,163.02 94.84,163.34 95.42,163.65 96.94,163.95 99.95,164.25 102.97,164.45 105.98,164.5 107,164.17 107.27,163.81 107.41,163.4 107.47,163.06 107.54,162.59 107.61,161.95 107.64,161.56 107.68,161.11 107.71,160.6 107.75,160.03 107.78,159.41 107.81,158.73 107.85,158.01 107.88,157.24 107.92,156.46 107.95,155.68 107.98,154.92 108.02,154.22 108.05,153.61 108.08,153.14 108.15,152.74 108.22,153.15 108.25,153.62 108.29,154.22 108.32,154.93 108.36,155.69 108.39,156.48 108.42,157.26 108.46,158.03 108.49,158.75 108.53,159.43 108.56,160.06 108.59,160.63 108.63,161.14 108.66,161.59 108.69,161.99 108.73,162.34 108.8,162.89 108.86,163.29 108.97,163.69 109.1,164 109.37,164.3 110.15,164.6 113.17,164.67 114.89,164.37 115.54,164.07 115.94,163.75 116.21,163.43 116.42,163.11 116.59,162.77 116.72,162.42 116.82,162.11 116.93,161.73 117.03,161.28 117.1,160.93 117.16,160.53 117.23,160.06 117.3,159.52 117.33,159.21 117.37,158.88 117.4,158.51 117.43,158.1 117.47,157.64 117.5,157.13 117.54,156.55 117.57,155.89 117.6,155.13 117.64,154.24 117.67,153.2 117.71,151.99 117.74,150.55 117.77,148.85 117.81,146.85 117.84,144.48 117.87,141.7 117.91,138.46 117.94,134.7 117.98,130.37 118.01,125.43 118.04,119.87 118.08,113.66 118.11,106.83 118.15,99.41 118.18,91.48 118.21,83.15 118.25,74.57 118.28,65.99 118.31,57.69 118.35,50.02 118.38,43.4 118.42,38.27 118.45,35 118.48,33.88 118.52,34.99 118.55,38.25 118.59,43.38 118.62,49.99 118.65,57.65 118.69,65.94 118.72,74.52 118.76,83.08 118.79,91.41 118.82,99.33 118.86,106.74 118.89,113.56 118.92,119.76 118.96,125.31 118.99,130.24 119.03,134.56 119.06,138.31 119.09,141.55 119.13,144.32 119.16,146.67 119.2,148.67 119.23,150.36 119.26,151.78 119.3,152.99 119.33,154.02 119.37,154.89 119.4,155.64 119.43,156.3 119.47,156.86 119.5,157.36 119.53,157.81 119.57,158.21 119.6,158.56 119.64,158.89 119.7,159.45 119.77,159.93 119.84,160.33 119.91,160.68 120.01,161.11 120.11,161.45 120.25,161.8 120.42,162.11 121.43,161.78 121.57,161.4 121.67,161.02 121.74,160.71 121.8,160.35 121.87,159.91 121.94,159.4 121.97,159.09 122.01,158.76 122.04,158.38 122.08,157.96 122.11,157.48 122.14,156.93 122.18,156.29 122.21,155.54 122.24,154.67 122.28,153.64 122.31,152.43 122.35,150.99 122.38,149.29 122.41,147.28 122.45,144.91 122.48,142.15 122.52,138.94 122.55,135.25 122.58,131.05 122.62,126.3 122.65,121.01 122.68,115.18 122.72,108.84 122.75,102.07 122.79,94.96 122.82,87.64 122.85,80.31 122.89,73.22 122.92,66.68 122.96,61.03 122.99,56.65 123.02,53.87 123.06,52.92 123.09,53.88 123.13,56.68 123.16,61.07 123.19,66.73 123.23,73.29 123.26,80.39 123.29,87.73 123.33,95.06 123.36,102.19 123.4,108.97 123.43,115.32 123.46,121.16 123.5,126.47 123.53,131.23 123.57,135.45 123.6,139.15 123.63,142.37 123.67,145.15 123.7,147.53 123.73,149.55 123.77,151.27 123.8,152.72 123.84,153.95 123.87,155 123.9,155.88 123.94,156.64 123.97,157.3 124.01,157.87 124.04,158.36 124.07,158.8 124.11,159.2 124.14,159.55 124.18,159.87 124.24,160.42 124.31,160.89 124.38,161.29 124.45,161.64 124.51,161.95 124.62,162.34 124.72,162.66 124.85,163.02 125.02,163.37 125.23,163.69 125.5,164.01 125.87,164.32 126.48,164.63 127.63,164.94 130.65,165.18 132.2,164.87 132.44,164.54 132.54,164.23 132.61,163.92 132.68,163.49 132.75,162.93 132.78,162.59 132.81,162.21 132.85,161.79 132.88,161.34 132.92,160.86 132.95,160.35 132.98,159.83 133.02,159.31 133.05,158.8 133.08,158.33 133.12,157.93 133.15,157.62 133.32,157.94 133.36,158.34 133.39,158.81 133.42,159.32 133.46,159.84 133.49,160.37 133.52,160.88 133.56,161.36 133.59,161.82 133.63,162.24 133.66,162.61 133.69,162.96 133.73,163.26 133.8,163.75 133.86,164.12 133.97,164.5 134.13,164.83 134.57,165.13 137.59,165.42 140.6,165.49 143.62,165.52 146.63,165.55 149.65,165.55 152.66,165.48 154.8,165.18 155.34,164.88 155.61,164.55 155.75,164.25 155.85,163.88 155.92,163.51 155.98,163.02 156.02,162.71 156.05,162.35 156.09,161.94 156.12,161.47 156.15,160.94 156.19,160.36 156.22,159.72 156.25,159.02 156.29,158.27 156.32,157.49 156.36,156.68 156.39,155.87 156.42,155.09 156.46,154.36 156.49,153.73 156.53,153.23 156.56,152.9 156.7,153.53 156.73,154.1 156.76,154.76 156.8,155.47 156.83,156.21 156.86,156.94 156.9,157.65 156.93,158.31 156.97,158.92 157,159.48 157.03,159.97 157.07,160.39 157.1,160.74 157.17,161.25 157.44,160.71 157.47,160.31 157.51,159.82 157.54,159.23 157.58,158.52 157.61,157.7 157.64,156.75 157.68,155.67 157.71,154.46 157.75,153.13 157.78,151.67 157.81,150.11 157.85,148.46 157.88,146.77 157.91,145.07 157.95,143.42 157.98,141.9 158.02,140.59 158.05,139.56 158.08,138.91 158.19,139.53 158.22,140.53 158.25,141.83 158.29,143.33 158.32,144.96 158.36,146.64 158.39,148.32 158.42,149.95 158.46,151.49 158.49,152.93 158.52,154.25 158.56,155.45 158.59,156.51 158.63,157.45 158.66,158.26 158.69,158.96 158.73,159.55 158.76,160.04 158.8,160.44 158.83,160.77 158.9,161.24 159,161.58 159.24,161.18 159.3,160.73 159.34,160.43 159.37,160.06 159.41,159.6 159.44,159.05 159.47,158.39 159.51,157.6 159.54,156.67 159.57,155.56 159.61,154.28 159.64,152.79 159.68,151.09 159.71,149.16 159.74,147.01 159.78,144.64 159.81,142.06 159.85,139.29 159.88,136.39 159.91,133.4 159.95,130.41 159.98,127.51 160.02,124.84 160.05,122.53 160.08,120.74 160.12,119.61 160.15,119.23 160.18,119.64 160.22,120.8 160.25,122.61 160.29,124.95 160.32,127.65 160.35,130.57 160.39,133.6 160.42,136.61 160.46,139.55 160.49,142.34 160.52,144.96 160.56,147.36 160.59,149.55 160.62,151.51 160.66,153.25 160.69,154.77 160.73,156.1 160.76,157.25 160.79,158.23 160.83,159.06 160.86,159.77 160.9,160.37 160.93,160.88 160.96,161.31 161,161.68 161.03,162 161.1,162.51 161.17,162.9 161.23,163.21 161.34,163.57 161.47,163.94 161.64,164.27 161.88,164.59 162.25,164.91 162.96,165.21 165.98,165.41 167.57,165.1 168.08,164.79 168.38,164.46 168.59,164.13 168.75,163.75 168.86,163.44 168.96,163.06 169.03,162.75 169.09,162.37 169.16,161.9 169.23,161.3 169.26,160.93 169.3,160.5 169.33,159.99 169.36,159.4 169.4,158.7 169.43,157.87 169.47,156.89 169.5,155.74 169.53,154.39 169.57,152.8 169.6,150.97 169.64,148.85 169.67,146.44 169.7,143.73 169.74,140.7 169.77,137.36 169.8,133.74 169.84,129.87 169.87,125.8 169.91,121.61 169.94,117.42 169.97,113.36 170.01,109.62 170.04,106.39 170.08,103.89 170.11,102.29 170.14,101.74 170.18,102.29 170.21,103.89 170.25,106.39 170.28,109.63 170.31,113.37 170.35,117.43 170.38,121.62 170.41,125.8 170.45,129.87 170.48,133.75 170.52,137.37 170.55,140.71 170.58,143.74 170.62,146.46 170.65,148.87 170.69,150.98 170.72,152.82 170.75,154.4 170.79,155.76 170.82,156.91 170.86,157.89 170.89,158.72 170.92,159.42 170.96,160.02 170.99,160.52 171.02,160.95 171.06,161.33 171.09,161.65 171.16,162.18 171.23,162.6 171.3,162.95 171.4,163.36 171.5,163.69 171.63,164.03 171.8,164.36 172.04,164.68 172.38,164.98 172.99,165.29 174.62,165.59 177.63,165.66 178.14,165.31 178.31,164.92 178.44,164.54 178.92,164.93 179.05,165.26 179.29,165.57 182.3,165.81 185.32,165.83 188.33,165.83 191.35,165.63 191.76,165.3 191.89,164.96 191.99,164.53 192.06,164.13 192.13,163.63 192.2,163.04 192.23,162.72 192.26,162.4 192.3,162.07 192.33,161.75 192.4,161.21 192.47,160.88 192.6,161.2 192.67,161.75 192.7,162.06 192.74,162.39 192.77,162.72 192.81,163.04 192.84,163.34 192.91,163.88 192.98,164.33 193.04,164.68 193.14,165.05 193.31,165.38 194.03,165.69 197.04,165.43 197.51,165.13 197.79,164.79 197.96,164.42 198.06,164.06 198.12,163.72 198.19,163.25 198.26,162.6 198.29,162.18 198.33,161.69 198.36,161.12 198.4,160.46 198.43,159.69 198.46,158.83 198.5,157.85 198.53,156.75 198.56,155.55 198.6,154.25 198.63,152.85 198.67,151.38 198.7,149.88 198.73,148.37 198.77,146.91 198.8,145.56 198.84,144.39 198.87,143.48 198.9,142.91 199.01,143.46 199.04,144.36 199.07,145.51 199.11,146.85 199.14,148.3 199.17,149.8 199.21,151.3 199.24,152.75 199.28,154.14 199.31,155.43 199.34,156.62 199.38,157.7 199.41,158.67 199.45,159.52 199.48,160.27 199.51,160.92 199.55,161.48 199.58,161.95 199.61,162.35 199.65,162.69 199.72,163.2 199.78,163.55 199.89,163.89 200.36,163.5 200.43,163.07 200.5,162.48 200.53,162.12 200.56,161.71 200.6,161.26 200.63,160.77 200.67,160.24 200.7,159.68 200.73,159.1 200.77,158.52 200.8,157.96 200.83,157.45 200.87,157 200.9,156.66 201.07,157.04 201.11,157.5 201.14,158.03 201.17,158.6 201.21,159.19 201.24,159.78 201.27,160.35 201.31,160.9 201.34,161.41 201.38,161.87 201.41,162.3 201.44,162.68 201.48,163.01 201.55,163.56 201.61,163.96 201.72,164.35 201.88,164.66 202.43,164.29 202.53,163.86 202.6,163.42 202.66,162.81 202.7,162.44 202.73,162.02 202.77,161.55 202.8,161.03 202.83,160.47 202.87,159.87 202.9,159.24 202.93,158.59 202.97,157.93 203,157.3 203.04,156.72 203.07,156.21 203.1,155.82 203.17,155.49 203.24,155.82 203.27,156.21 203.31,156.72 203.34,157.3 203.38,157.93 203.41,158.58 203.44,159.23 203.48,159.87 203.51,160.47 203.54,161.03 203.58,161.55 203.61,162.02 203.65,162.44 203.68,162.81 203.71,163.14 203.78,163.66 203.85,164.04 203.95,164.41 204.12,164.71 205.17,164.39 205.34,164.09 205.48,163.75 205.58,163.42 205.68,162.97 205.75,162.58 205.81,162.07 205.85,161.76 205.88,161.4 205.92,160.98 205.95,160.48 205.98,159.89 206.02,159.19 206.05,158.37 206.09,157.4 206.12,156.26 206.15,154.92 206.19,153.37 206.22,151.59 206.25,149.56 206.29,147.27 206.32,144.72 206.36,141.9 206.39,138.85 206.42,135.58 206.46,132.15 206.49,128.62 206.53,125.08 206.56,121.66 206.59,118.5 206.63,115.78 206.66,113.67 206.69,112.32 206.73,111.86 206.76,112.32 206.8,113.67 206.83,115.79 206.86,118.51 206.9,121.67 206.93,125.1 206.97,128.63 207,132.17 207.03,135.6 207.07,138.87 207.1,141.93 207.14,144.75 207.17,147.3 207.2,149.6 207.24,151.63 207.27,153.41 207.3,154.96 207.34,156.3 207.37,157.45 207.41,158.42 207.44,159.25 207.47,159.95 207.51,160.54 207.54,161.04 207.58,161.47 207.61,161.83 207.64,162.14 207.71,162.65 207.78,163.05 207.85,163.37 207.95,163.75 208.08,164.14 208.25,164.49 208.49,164.82 208.86,165.14 210.52,164.74 210.62,164.28 210.69,163.85 210.76,163.31 210.79,163 210.83,162.67 210.86,162.33 210.9,161.97 210.93,161.61 210.96,161.27 211,160.95 211.06,160.46 211.27,160.97 211.3,161.3 211.34,161.65 211.37,162.01 211.4,162.37 211.44,162.73 211.47,163.06 211.51,163.38 211.57,163.93 211.64,164.37 211.71,164.72 211.81,165.07 211.98,165.39 212.52,165.7 215.54,165.93 218.55,165.97 221.57,165.99 224.58,165.99 227.6,165.98 230.61,165.87 232,165.56 232.44,165.23 232.68,164.89 232.81,164.58 232.91,164.23 232.98,163.91 233.05,163.46 233.12,162.84 233.15,162.44 233.19,161.97 233.22,161.42 233.25,160.78 233.29,160.03 233.32,159.18 233.35,158.2 233.39,157.09 233.42,155.86 233.46,154.51 233.49,153.04 233.52,151.46 233.56,149.81 233.59,148.11 233.63,146.4 233.66,144.76 233.69,143.24 233.73,141.92 233.76,140.91 233.79,140.26 233.9,140.91 233.93,141.92 233.96,143.24 234,144.76 234.03,146.4 234.07,148.11 234.1,149.81 234.13,151.46 234.17,153.04 234.2,154.51 234.24,155.86 234.27,157.09 234.3,158.2 234.34,159.18 234.37,160.03 234.4,160.78 234.44,161.42 234.47,161.98 234.51,162.44 234.54,162.84 234.57,163.18 234.64,163.7 234.71,164.08 234.81,164.48 234.95,164.83 235.15,165.15 235.49,165.46 236.3,165.77 239.32,165.94 241.72,165.63 242.16,165.3 242.37,164.95 242.5,164.52 242.57,164.18 242.64,163.7 242.67,163.39 242.7,163.03 242.74,162.61 242.77,162.12 242.81,161.56 242.84,160.92 242.87,160.2 242.91,159.4 242.94,158.51 242.97,157.55 243.01,156.52 243.04,155.44 243.08,154.33 243.11,153.21 243.14,152.14 243.18,151.14 243.21,150.28 243.25,149.62 243.28,149.2 243.38,149.62 243.42,150.29 243.45,151.14 243.48,152.14 243.52,153.22 243.55,154.33 243.58,155.44 243.62,156.52 243.65,157.55 243.69,158.51 243.72,159.4 243.75,160.21 243.79,160.93 243.82,161.57 243.86,162.13 243.89,162.62 243.92,163.04 243.96,163.4 243.99,163.71 244.06,164.19 244.13,164.53 244.23,164.88 244.4,165.22 244.7,165.53 245.48,165.84 248.5,166.03 251.51,166.04 254.09,165.74 254.29,165.38 254.39,165.04 254.49,164.57 254.56,164.2 254.63,163.81 254.7,163.44 254.8,163.1 254.97,163.44 255.03,163.81 255.1,164.2 255.17,164.57 255.24,164.9 255.34,165.28 255.47,165.6 255.85,165.91 258.86,166.05 260.66,165.72 260.83,165.38 260.93,165.07 261.03,164.69 261.13,164.32 261.5,164.69 261.61,165.07 261.71,165.38 261.88,165.72 262.86,166.02 265.87,165.95 266.79,165.62 266.99,165.3 267.09,164.97 267.16,164.64 267.23,164.22 267.3,163.68 267.33,163.36 267.36,163.02 267.4,162.66 267.43,162.27 267.47,161.88 267.5,161.48 267.53,161.1 267.57,160.75 267.6,160.44 267.67,160.06 267.81,160.43 267.84,160.73 267.87,161.08 267.91,161.46 267.94,161.85 267.97,162.24 268.01,162.62 268.04,162.98 268.08,163.32 268.11,163.63 268.18,164.16 268.25,164.58 268.31,164.89 268.42,165.2 268.65,165.52 269.6,165.22 269.74,164.84 269.8,164.52 269.87,164.1 269.94,163.53 269.97,163.2 270.01,162.82 270.04,162.4 270.07,161.95 270.11,161.46 270.14,160.95 270.18,160.43 270.21,159.91 270.24,159.4 270.28,158.93 270.31,158.53 270.35,158.21 270.52,158.52 270.55,158.92 270.58,159.39 270.62,159.89 270.65,160.41 270.68,160.93 270.72,161.44 270.75,161.92 270.79,162.37 270.82,162.79 270.85,163.16 270.89,163.5 270.96,164.06 271.02,164.48 271.09,164.78 271.23,165.15 271.7,165.45 272.24,165.11 272.38,164.78 272.48,164.32 272.55,163.86 272.62,163.25 272.65,162.87 272.68,162.45 272.72,161.98 272.75,161.45 272.78,160.89 272.82,160.28 272.85,159.65 272.89,158.99 272.92,158.33 272.95,157.7 272.99,157.11 273.02,156.61 273.06,156.21 273.12,155.87 273.19,156.2 273.23,156.59 273.26,157.09 273.29,157.67 273.33,158.3 273.36,158.95 273.39,159.6 273.43,160.23 273.46,160.83 273.5,161.39 273.53,161.91 273.56,162.37 273.6,162.79 273.63,163.16 273.67,163.48 273.73,164 273.8,164.37 273.9,164.72 274.14,165.03 274.61,164.69 274.72,164.36 274.78,164.02 274.85,163.54 274.89,163.23 274.92,162.87 274.95,162.44 274.99,161.96 275.02,161.4 275.05,160.77 275.09,160.06 275.12,159.29 275.16,158.44 275.19,157.54 275.22,156.59 275.26,155.61 275.29,154.64 275.33,153.69 275.36,152.82 275.39,152.06 275.43,151.48 275.46,151.11 275.56,151.49 275.6,152.08 275.63,152.84 275.66,153.73 275.7,154.68 275.73,155.66 275.77,156.65 275.8,157.6 275.83,158.51 275.87,159.37 275.9,160.15 275.94,160.86 275.97,161.5 276,162.07 276.04,162.57 276.07,163 276.1,163.37 276.14,163.69 276.21,164.19 276.27,164.56 276.38,164.92 276.55,165.26 276.85,165.58 277.63,165.88 280.64,166.07 283.66,166.1 286.67,166.11 289.69,166.11 292.7,166.09 295.72,165.91 296.5,165.61 296.8,165.29 296.97,164.94 297.07,164.58 297.14,164.21 297.21,163.71 297.24,163.39 297.28,163.01 297.31,162.58 297.34,162.08 297.38,161.51 297.41,160.87 297.45,160.16 297.48,159.37 297.51,158.52 297.55,157.6 297.58,156.64 297.62,155.66 297.65,154.67 297.68,153.71 297.72,152.83 297.75,152.06 297.78,151.47 297.82,151.09 297.92,151.43 297.95,152.01 297.99,152.75 298.02,153.62 298.06,154.55 298.09,155.52 298.12,156.49 298.16,157.42 298.19,158.31 298.23,159.13 298.26,159.89 298.29,160.57 298.33,161.17 298.36,161.7 298.39,162.14 298.43,162.52 298.46,162.82 298.53,163.24 298.8,162.83 298.87,162.31 298.9,161.99 298.94,161.66 298.97,161.31 299,160.96 299.04,160.61 299.07,160.29 299.14,159.81 299.31,160.16 299.34,160.48 299.38,160.85 299.41,161.24 299.44,161.65 299.48,162.06 299.51,162.45 299.55,162.83 299.58,163.18 299.61,163.5 299.68,164.06 299.75,164.51 299.82,164.84 299.92,165.19 300.09,165.51 300.53,165.81 303.54,166.1 306.56,166.13 309.57,166.13 312.59,166.05 313.54,165.74 313.74,165.42 313.84,165.09 313.91,164.77 313.98,164.34 314.04,163.81 314.08,163.49 314.11,163.15 314.15,162.79 314.18,162.41 314.21,162.02 314.25,161.62 314.28,161.24 314.32,160.89 314.35,160.59 314.42,160.21 314.55,160.59 314.59,160.89 314.62,161.24 314.65,161.62 314.69,162.02 314.72,162.41 314.76,162.79 314.79,163.15 314.82,163.49 314.86,163.81 314.93,164.35 314.99,164.77 315.06,165.09 315.16,165.42 315.37,165.74 316.25,166.04 317.5,166.12" fill="none" stroke="#3aa0a0" stroke-width="1.25" stroke-linejoin="round"/>
<path d="M46.5,185.55 47.01,185.23 47.52,185.52 48.02,185.79 48.53,185.86 49.04,185.39 49.55,185.92 50.06,185.76 50.56,185.7 51.07,185.88 51.58,185.45 52.09,185.32 52.6,185.8 53.11,186.05 53.61,186.07 54.12,184.54 54.63,185.67 55.14,185.45 55.65,185.13 56.15,185.59 56.66,185.59 57.17,185.84 57.68,184.98 58.19,185.23 58.69,185.46 59.2,186.09 59.71,186.06 60.22,185.91 60.73,185.95 61.24,185.5 61.74,185.65 62.25,185.72 62.76,185.59 63.27,185.37 63.78,185.89 64.28,186.02 64.79,185.12 65.3,185.59 65.81,186.26 66.32,185.38 66.82,185.41 67.33,185.39 67.84,185.1 68.35,186.1 68.86,185.97 69.37,185.65 69.87,186.36 70.38,185.14 70.89,185.62 71.4,185.71 71.91,185.45 72.41,185.66 72.92,185.68 73.43,185.46 73.94,185.9 74.45,186.08 74.95,185.39 75.46,185.51 75.97,185.34 76.48,184.91 76.99,185.38 77.5,185.53 78,186.01 78.51,185.37 79.02,185.38 79.53,185.97 80.04,185.42 80.54,185.76 81.05,185.39 81.56,184.73 82.07,185.27 82.58,185.23 83.08,185.68 83.59,185.57 84.1,186.5 84.61,185.26 85.12,185.45 85.63,185.6 86.13,186.42 86.64,185.25 87.15,186.22 87.66,185.26 88.17,185.43 88.67,186.1 89.18,185.3 89.69,185.27 90.2,185.55 90.71,185.84 91.21,185.26 91.72,185.71 92.23,185.33 92.74,185.12 93.25,185.61 93.45,185.73 93.52,185.42 93.72,185.75 93.76,185.73 93.79,186.18 94.26,185.79 94.77,185.25 95.28,186.01 95.79,185.54 96.3,185.78 96.8,185.9 97.31,185.97 97.82,185.72 98.33,185.55 98.84,185.35 99.34,185.62 99.85,186.1 100.36,185.33 100.87,185.26 101.38,185.02 101.89,185.72 102.39,185.49 102.9,185.22 103.41,185.79 103.92,185.67 104.43,185.58 104.93,185.27 105.44,185.66 105.95,185.12 106.46,185.45 106.97,185.81 107.47,185.69 107.98,185.05 108.02,185.03 108.08,185 108.29,185.69 108.36,185.85 108.49,185.48 109,185.31 109.51,185.64 110.02,185.09 110.52,185.22 111.03,185.28 111.54,185.37 112.05,185.02 112.56,185.87 113.06,186.12 113.57,186.37 114.08,185.17 114.59,185.53 115.1,185.4 115.6,185.52 116.11,185.86 116.62,185.54 117.13,185.15 117.64,185.61 118.15,185.81 118.18,184.8 118.25,183.26 118.31,179.34 118.38,176.8 118.45,178.58 118.52,183.45 118.59,190.76 118.65,193.52 118.72,191.52 118.79,189 118.86,186.62 119.16,185.8 119.67,185.68 120.18,185.37 120.69,186.18 121.19,186.15 121.7,185.68 122.21,185.94 122.72,185.64 122.79,184.57 122.85,183.48 122.92,181.15 122.99,180.11 123.06,182.65 123.13,188.09 123.19,191.91 123.23,192.27 123.26,191.81 123.33,189.29 123.4,187.11 123.46,186.38 123.73,185.85 124.24,185.49 124.75,185.41 125.26,185.85 125.77,185.36 126.28,185.72 126.78,185.7 127.29,185.33 127.8,185.53 128.31,185.62 128.82,185.35 129.32,185.15 129.83,185.54 130.34,185.5 130.85,185.8 131.36,185.6 131.86,185.71 132.37,184.87 132.88,185.2 133.39,185.97 133.9,185.78 134.41,185.13 134.91,185.51 135.42,185.99 135.93,185.21 136.44,185.08 136.95,185.53 137.45,186.06 137.96,185.67 138.47,185.76 138.98,185.91 139.49,185.46 139.99,185.6 140.5,185.32 141.01,185.67 141.52,185.63 142.03,185.67 142.54,185.49 143.04,185.81 143.55,185.39 144.06,185.76 144.57,186.03 145.08,185.46 145.58,185.7 146.09,185.29 146.6,185.47 147.11,185.82 147.62,185.3 148.12,185.39 148.63,185.04 149.14,185.32 149.65,185.85 150.16,185.89 150.67,185.8 151.17,185.26 151.68,185.53 152.19,185.85 152.7,185.79 153.21,185.68 153.71,185.9 154.22,185.3 154.73,185.71 155.24,185.75 155.75,185.3 156.25,185.41 156.46,185.63 156.53,185.33 156.73,185.64 156.76,185.99 156.8,185.97 157.27,185.54 157.78,185.83 157.88,185.57 157.95,185.38 158.02,184.36 158.08,185.12 158.22,185.95 158.29,186.83 158.36,186.57 158.42,186.48 158.8,185.87 159.3,185.59 159.81,185.66 159.91,185.35 159.98,183.95 160.05,183.67 160.12,184.34 160.25,186.9 160.32,187.47 160.39,186.6 160.46,186.66 160.83,185.61 161.34,185.77 161.84,185.75 162.35,185.43 162.86,185.3 163.37,186.18 163.88,185.64 164.38,186.13 164.89,185.27 165.4,185.41 165.91,185.36 166.42,185.91 166.93,185.58 167.43,185.34 167.94,185.85 168.45,185.3 168.96,185.1 169.47,185.34 169.87,184.87 169.94,184.15 169.97,183.8 170.01,183.1 170.08,183.33 170.14,184.17 170.21,186.4 170.28,187.78 170.35,187.78 170.41,186.78 170.48,186.08 170.99,185.39 171.5,185.52 172.01,185.84 172.51,185.91 173.02,185.99 173.53,185.63 174.04,185.91 174.55,185.1 175.06,186.04 175.56,185.88 176.07,185.33 176.58,185.63 177.09,185.68 177.6,185.47 178.1,185.42 178.61,185.38 179.12,185.57 179.63,185.46 180.14,185.28 180.64,185.71 181.15,185.76 181.66,185.67 182.17,185.75 182.68,186.17 183.19,185.79 183.69,185.56 184.2,185.39 184.71,185.68 185.22,185.9 185.73,185.36 186.23,185.75 186.74,185.36 187.25,185.12 187.76,185.43 188.27,186.04 188.77,185.61 189.28,185.23 189.79,185.7 190.3,185.76 190.81,185.72 191.32,185.23 191.82,185.86 192.33,185.25 192.84,186.21 193.35,185.09 193.86,185.32 194.36,185.49 194.87,185.21 195.38,185.54 195.89,185.25 196.4,185.25 196.9,185.72 197.41,185.05 197.92,185.82 198.43,185.56 198.73,184.65 198.8,185.09 198.87,185.19 198.94,185.06 199.07,186.82 199.14,186.47 199.21,186.15 199.45,185.89 199.95,185.3 200.46,185.77 200.9,185.11 200.97,185.46 201.17,185.94 201.48,185.21 201.99,185.59 202.49,185.36 203,185.37 203.07,185.25 203.34,185.59 203.51,185.4 204.02,186.07 204.53,186.1 205.03,185.55 205.54,185.7 206.05,185.73 206.46,184.89 206.53,184.93 206.56,184.27 206.59,183.81 206.66,184.07 206.73,184.7 206.8,185.76 206.86,187.2 206.93,187.25 207,186.48 207.07,185.85 207.58,185.38 208.08,185.39 208.59,186.09 209.1,185.64 209.61,185.84 210.12,185.89 210.62,186.07 211.13,185.56 211.64,185.62 212.15,185.71 212.66,185.24 213.16,185.42 213.67,185.97 214.18,185.81 214.69,185.55 215.2,185.43 215.71,185.73 216.21,185.09 216.72,185.3 217.23,186.12 217.74,185.72 218.25,185.65 218.75,185.4 219.26,185.55 219.77,185.34 220.28,185.72 220.79,185.7 221.29,185.58 221.8,186.07 222.31,185.8 222.82,185.17 223.33,185.82 223.84,186.18 224.34,185.61 224.85,185.98 225.36,185.73 225.87,185.39 226.38,185.43 226.88,185.48 227.39,185.19 227.9,185.59 228.41,185.37 228.92,186.1 229.42,185.63 229.93,185.26 230.44,185.21 230.95,185.98 231.46,185.58 231.97,185.23 232.47,185.42 232.98,185.67 233.49,185.58 233.63,185.75 233.69,184.9 233.76,184.54 233.83,184.53 233.96,186.62 234,186.67 234.03,186.46 234.1,186.45 234.51,185.63 235.01,185.69 235.52,186.26 236.03,185.27 236.54,185.89 237.05,185.91 237.55,185.42 238.06,186.44 238.57,185.14 239.08,185.76 239.59,185.29 240.1,185.26 240.6,185.63 241.11,185.51 241.62,185.76 242.13,185.6 242.64,185.46 243.11,185.18 243.14,184.92 243.18,185.14 243.25,185.34 243.31,185.24 243.45,186.1 243.52,186.23 243.58,185.44 243.65,185.19 244.16,185.5 244.67,185.9 245.18,186.02 245.68,185.93 246.19,185.64 246.7,185.48 247.21,185.62 247.72,185.44 248.23,185.6 248.73,185.73 249.24,185.53 249.75,185.1 250.26,186.05 250.77,186.32 251.27,185.36 251.78,185.3 252.29,185.96 252.8,185.16 253.31,185.31 253.81,185.77 254.32,186.34 254.83,185.88 255.34,185.23 255.85,186.24 256.36,185.36 256.86,185.79 257.37,185.15 257.88,185.77 258.39,185.74 258.9,185.21 259.4,185.22 259.91,185.89 260.42,185.82 260.93,185.34 261.44,185.66 261.94,185.74 262.45,185.31 262.96,185.09 263.47,185.61 263.98,185.6 264.49,185.75 264.99,185.36 265.5,185.36 266.01,185.38 266.52,185.59 267.03,185.99 267.53,185.49 268.04,185.46 268.55,186.02 269.06,185.53 269.57,185.87 270.07,186.08 270.58,186.44 271.09,185.41 271.6,185.32 272.11,185.33 272.62,185.66 272.99,185.61 273.06,184.88 273.12,185.28 273.26,185.84 273.33,185.76 273.63,185.76 274.14,186.13 274.65,185.47 275.16,185.4 275.36,184.89 275.43,184.99 275.63,186.31 275.66,185.98 275.7,186.49 275.77,185.89 276.17,185.27 276.68,185.51 277.19,185.75 277.7,185.55 278.2,185.26 278.71,185.71 279.22,185.33 279.73,185.45 280.24,185.81 280.75,185.82 281.25,185.72 281.76,185.37 282.27,186.04 282.78,185.48 283.29,186.41 283.79,185.37 284.3,185.32 284.81,185.53 285.32,185.87 285.83,185.25 286.33,185.68 286.84,185.28 287.35,185.57 287.86,185.88 288.37,185.88 288.88,185.36 289.38,185.65 289.89,185.73 290.4,185.42 290.91,185.45 291.42,185.58 291.92,185.68 292.43,185.64 292.94,186.48 293.45,185.44 293.96,185.53 294.46,185.93 294.97,185.74 295.48,184.9 295.99,185.54 296.5,185.9 297.01,185.61 297.51,185.38 297.72,185.17 297.78,185.47 297.99,186.21 298.02,185.92 298.06,185.82 298.12,185.52 298.53,185.71 299.04,185.8 299.55,185.81 300.05,186.03 300.56,185.49 301.07,186.15 301.58,185.21 302.09,185.93 302.59,185.56 303.1,185.54 303.61,185.33 304.12,185.47 304.63,185.83 305.14,185.38 305.64,185.7 306.15,185.4 306.66,185.07 307.17,185.8 307.68,185.42 308.18,185.58 308.69,186.06 309.2,186.07 309.71,185.35 310.22,185.61 310.72,185.92 311.23,185.53 311.74,185.18 312.25,185.96 312.76,186.23 313.27,185.8 313.77,185.47 314.28,185.14 314.79,185.45 315.3,185.48 315.81,185.49 316.31,185.32 316.82,185.39 317.33,185.83 317.5,185.53" fill="none" stroke="#d41f1f" stroke-width="1.2" stroke-linejoin="round"/>
<path d="M60.5,168.5V174.8M93.5,168.5V174.8M108.5,168.5V174.8M118.5,168.5V174.8M122.5,168.5V174.8M133.5,168.5V174.8M157.5,168.5V174.8M159.5,168.5V174.8M170.5,168.5V174.8M178.5,168.5V174.8M192.5,168.5V174.8M198.5,168.5V174.8M200.5,168.5V174.8M203.5,168.5V174.8M206.5,168.5V174.8M210.5,168.5V174.8M233.5,168.5V174.8M234.5,168.5V174.8M243.5,168.5V174.8M244.5,168.5V174.8M249.5,168.5V174.8M255.5,168.5V174.8M261.5,168.5V174.8M268.5,168.5V174.8M270.5,168.5V174.8M273.5,168.5V174.8M275.5,168.5V174.8M277.5,168.5V174.8M281.5,168.5V174.8M298.5,168.5V174.8M299.5,168.5V174.8M315.5,168.5V174.8" stroke="#222" stroke-width="1.1"/>
<rect x="46" y="5" width="272" height="2" fill="#939393"/>
<rect x="46" y="5" width="1" height="191" fill="#4a4a4a"/>
<rect x="317" y="5" width="1" height="191" fill="#4a4a4a"/>
<rect x="46" y="195" width="272" height="1" fill="#4a4a4a"/>
<path d="M46.5,195V192M63.5,195V193M80.5,195V192M97.5,195V193M114.5,195V192M131.5,195V193M148.5,195V192M165.5,195V193M182.5,195V192M198.5,195V193M215.5,195V192M232.5,195V193M249.5,195V192M266.5,195V193M283.5,195V192M300.5,195V193M317.5,195V192" stroke="#4a4a4a" stroke-width="1"/>
<text x="46.5" y="211" font-size="14" text-anchor="middle" fill="#1a1a1a">10</text>
<text x="80.38" y="211" font-size="14" text-anchor="middle" fill="#1a1a1a">20</text>
<text x="114.25" y="211" font-size="14" text-anchor="middle" fill="#1a1a1a">30</text>
<text x="148.12" y="211" font-size="14" text-anchor="middle" fill="#1a1a1a">40</text>
<text x="182" y="211" font-size="14" text-anchor="middle" fill="#1a1a1a">50</text>
<text x="215.88" y="211" font-size="14" text-anchor="middle" fill="#1a1a1a">60</text>
<text x="249.75" y="211" font-size="14" text-anchor="middle" fill="#1a1a1a">70</text>
<text x="283.62" y="211" font-size="14" text-anchor="middle" fill="#1a1a1a">80</text>
<text x="317.5" y="211" font-size="14" text-anchor="middle" fill="#1a1a1a">90</text>
<text x="182.7" y="232.8" font-size="14.3" text-anchor="middle" fill="#1a1a1a">2θ (deg.)</text>
<text transform="translate(28.7,101.5) rotate(-90)" font-size="14.3" text-anchor="middle" fill="#1a1a1a">Intensity (a. u.)</text>
<text x="52.2" y="24.3" font-size="13.8" fill="#5a9fa0">Sr<tspan font-size="10" dy="4">2</tspan><tspan dy="-4">TiO</tspan><tspan font-size="10" dy="4">4</tspan><tspan dy="-4">-N</tspan></text>
<text x="52.4" y="83.3" font-size="11.5" fill="#1a1a1a"><tspan font-style="italic">R</tspan><tspan font-size="8.5" dy="3" font-style="italic">p</tspan><tspan dy="-3"> = 7.63%</tspan></text>
<text x="52.4" y="99.8" font-size="11.5" fill="#1a1a1a"><tspan font-style="italic">R</tspan><tspan font-size="8.5" dy="3" font-style="italic">wp</tspan><tspan dy="-3"> = 9.67%</tspan></text>
<text x="52" y="118.7" font-size="11.5" fill="#1a1a1a"><tspan font-family="Liberation Serif" font-style="italic">χ</tspan><tspan font-size="7" dy="-5">2</tspan><tspan dy="5">= 2.114</tspan></text>
<circle cx="179.2" cy="20.7" r="1.5" fill="none" stroke="#e0393d" stroke-width="0.85"/>
<rect x="168" y="40" width="21.5" height="1" fill="#3aa0a0"/>
<rect x="168" y="60" width="21.5" height="1" fill="#dc3c3c"/>
<rect x="178.7" y="77.4" width="1" height="6.1" fill="#333"/>
<text x="193" y="23.2" font-size="13.8" fill="#1a1a1a"><tspan font-style="italic">I</tspan><tspan font-size="8.7" font-weight="bold" dy="4.8">obs</tspan></text>
<text x="193" y="43.5" font-size="13.8" fill="#1a1a1a"><tspan font-style="italic">I</tspan><tspan font-size="8.7" font-weight="bold" dy="4.8">calc</tspan></text>
<text x="193" y="63.4" font-size="13.8" fill="#1a1a1a"><tspan font-style="italic">I</tspan><tspan font-size="8.7" font-weight="bold" dy="4.8">obs-calc</tspan></text>
<text x="191.7" y="83.5" font-size="14.2" fill="#1a1a1a">Bragg reflections</text>
<path d="M407.5,156.66 408.11,156.84 408.72,157.18 409.33,157.53 409.94,156.84 410.55,156.93 411.16,157.08 411.77,157.21 412.38,156.78 412.99,157.08 413.6,157.38 414.21,157.07 414.82,156.99 415.43,156.85 416.04,157.3 416.65,157.04 417.26,156.94 417.87,156.8 418.48,156.82 419.09,157.3 419.69,157.35 420,155.87 420.1,156 420.2,155.76 420.3,154.81 420.41,155.07 420.51,154.08 420.61,154.16 420.71,154.09 420.81,154.37 420.91,153.96 421.02,154.71 421.12,155.57 421.22,155.86 421.32,156.43 421.42,156.67 421.52,156.74 422.13,156.81 422.74,157.34 423.35,156.7 423.96,157.25 424.57,156.77 425.18,156.78 425.79,156.75 426.4,157.07 427.01,157.31 427.62,156.97 428.23,156.35 428.84,156.79 429.45,156.62 430.06,156.56 430.67,156.7 431.28,156.97 431.89,156.4 432.5,157.08 433.11,156.41 433.72,156.48 434.33,156.71 434.94,156.98 435.55,156.77 436.16,156.24 436.77,156.87 437.38,156.39 437.99,156.76 438.6,156.71 439.21,156.3 439.82,156.69 440.43,156.85 441.04,156.98 441.65,156.15 442.26,156.95 442.87,156.51 443.48,156.6 444.08,156.63 444.69,157.07 445.3,156.64 445.91,156.82 446.52,156.98 447.13,156.79 447.74,157.08 448.35,157.31 448.96,157.17 449.57,157.04 450.18,156.9 450.79,157.42 451.4,156.56 452.01,157.51 452.62,157.22 453.23,156.63 453.33,156.95 453.43,157.52 453.54,157.19 453.64,157.04 453.74,156.28 453.84,156.3 453.94,155.97 454.04,154.88 454.15,154.73 454.25,154.49 454.35,154.76 454.45,154.11 454.55,154.36 454.65,154.97 454.76,154.47 454.86,155.01 454.96,154.7 455.06,154.69 455.16,155.13 455.26,156.11 455.37,156.62 455.47,156.86 455.57,156.67 455.67,157.2 455.77,157.66 455.87,157.03 456.28,157.54 456.89,157.51 457.5,157.66 458.11,157.73 458.72,158.08 459.33,158.12 459.94,158.08 460.55,157.98 461.16,158.3 461.77,158.11 462.38,157.96 462.99,157.9 463.6,158.02 464.21,157.63 464.82,158.46 465.43,158.6 466.04,158.42 466.65,158.42 467.26,158.08 467.87,158.22 468.07,158.04 468.17,158.11 468.27,158.15 468.37,157.94 468.47,157.8 468.58,157.24 468.68,157.3 468.78,157.57 468.88,156.22 468.98,155.77 469.08,155.62 469.19,155.91 469.29,155.96 469.39,155.9 469.49,155.67 469.59,155.57 469.69,155.65 469.8,156.22 469.9,155.34 470,155.75 470.1,156.98 470.2,157.6 470.3,157.77 470.41,157.7 470.51,158.38 470.61,158.29 470.71,158.13 470.81,157.58 470.91,157.98 471.02,158.4 471.12,158.82 471.52,158.42 472.13,158.51 472.74,158.29 473.35,158.52 473.96,158.32 474.47,158.58 474.57,158.54 474.67,158.57 474.78,158.48 474.88,158.41 474.98,158.42 475.08,158.28 475.18,158.41 475.28,158.82 475.39,158.3 475.49,157.92 475.59,158.28 475.69,158.34 475.79,158.08 475.89,158.39 476,158.63 476.1,158.38 476.2,157.72 476.3,158.29 476.4,158.08 476.5,158.37 476.6,157.84 476.71,157.9 476.81,157.78 476.91,158.01 477.01,157.56 477.11,157.55 477.21,157.42 477.32,157.31 477.42,157.19 477.52,156.42 477.62,156.53 477.72,156.19 477.82,155.91 477.93,156.04 478.03,155.97 478.13,155.63 478.23,156.42 478.33,156.27 478.43,155.94 478.54,155.82 478.64,156.25 478.74,156.11 478.84,155.79 478.94,156.42 479.04,155.86 479.15,155.89 479.25,156.23 479.35,156.36 479.45,155.95 479.55,155.71 479.65,155.91 479.76,156.48 479.86,156.11 479.96,156.02 480.06,156.07 480.16,156.36 480.26,156.38 480.37,155.51 480.47,155.91 480.57,156.53 480.67,155.91 480.77,156.46 480.87,156.35 480.97,156.26 481.08,156.24 481.18,155.88 481.28,156.03 481.38,155.87 481.48,156.05 481.58,156.74 481.69,156.54 481.79,156.54 481.89,156.2 481.99,156.4 482.09,156.55 482.19,156.03 482.3,156.42 482.4,156.39 482.5,155.93 482.6,156.17 482.7,155.84 482.8,156.02 482.91,155.23 483.01,156.22 483.11,155.98 483.21,156.39 483.31,156 483.41,155.58 483.52,156.5 483.62,156.46 483.72,156.19 483.82,156.46 483.92,155.72 484.02,156.42 484.13,155.89 484.23,155.92 484.33,156.75 484.43,155.92 484.53,155.95 484.63,156.63 484.73,155.49 484.84,156.34 484.94,156.57 485.04,155.83 485.14,155.86 485.24,156.27 485.34,156.31 485.45,155.61 485.55,156.14 485.65,156.4 485.75,156.37 485.85,157.3 485.95,156.78 486.06,157.64 486.16,157.41 486.26,157.47 486.36,157.83 486.46,157.37 486.56,158.2 486.67,157.67 486.77,158.41 486.87,158.36 486.97,157.76 487.07,158.33 487.17,158.19 487.28,158.68 487.38,158.2 487.48,158.62 487.58,158.73 487.68,158.49 487.78,157.95 487.89,158.64 487.99,158.75 488.09,158.75 488.19,158.51 488.29,158.63 488.39,158.48 488.5,158.11 488.6,159.28 488.7,158.8 489.21,158.74 489.82,159.28 490.43,158.97 491.04,159.21 491.65,158.88 492.26,159.33 492.86,158.78 493.07,158.5 493.17,158.87 493.27,158.4 493.37,159.1 493.47,158.31 493.58,158.45 493.68,157.89 493.78,156.78 493.88,155.99 493.98,156.32 494.08,156.04 494.19,156.75 494.29,156.95 494.39,156.97 494.49,156.41 494.59,155.69 494.69,156.98 494.8,158.26 494.9,157.98 495,158.41 495.1,158.35 495.2,158.65 495.3,158.89 495.91,159.23 496.52,158.83 497.13,158.86 497.74,158.75 498.35,159.33 498.96,159.28 499.57,159.32 500.18,159.48 500.79,159.13 501.4,159.54 502.01,159.64 502.62,159.3 503.23,159.25 503.84,159.43 504.45,159.23 505.06,159.44 505.67,159.52 506.28,159.77 506.89,159.83 507.5,159.14 508.11,159.67 508.72,159.59 509.33,159.02 509.94,159.47 510.55,159.17 511.16,159.5 511.77,159.34 512.38,159.39 512.99,159.62 513.6,159.02 514.21,159.05 514.82,159.44 515.43,159.03 515.73,158.87 515.83,158.3 515.93,159.37 516.04,159.06 516.14,158.9 516.24,158.97 516.34,158.42 516.44,159.29 516.54,158.62 516.65,158.56 516.75,158.52 516.85,158.52 516.95,157.2 517.05,156.17 517.15,156.51 517.25,156.26 517.36,156.75 517.46,156.59 517.56,156.58 517.66,156.41 517.76,156.27 517.86,156.16 517.97,156.48 518.07,156.92 518.17,155.55 518.27,156.56 518.37,156.61 518.47,157.14 518.58,156.63 518.68,156.36 518.78,156.49 518.88,157.32 518.98,156.53 519.08,156.39 519.19,156.42 519.29,156.66 519.39,156.55 519.49,157.09 519.59,156.28 519.69,156.5 519.8,156.49 519.9,156.59 520,156.41 520.1,156.19 520.2,156.53 520.3,156.55 520.41,156.32 520.51,156.53 520.61,156.68 520.71,156.92 520.81,156.48 520.91,156.9 521.02,156.48 521.12,156.8 521.22,156.23 521.32,155.8 521.42,156.69 521.52,157.06 521.62,156.66 521.73,156.43 521.83,156.31 521.93,156.43 522.03,156.43 522.13,156.75 522.23,156.67 522.34,157.21 522.44,156.66 522.54,156.56 522.64,157.23 522.74,157.84 522.84,158.08 522.95,157.06 523.05,158.61 523.15,157.81 523.25,158.27 523.35,158.18 523.45,158.17 523.56,158.28 523.66,158.32 523.76,159.18 523.86,158.53 523.96,158.65 524.06,159.04 524.17,159.11 524.27,159.01 524.37,159.02 524.47,159.18 524.57,158.95 524.67,158.4 524.78,159.53 524.88,159.75 524.98,159.5 525.18,158.59 525.79,159.3 526.4,159.55 527.01,159.01 527.62,159.61 527.82,159.36 527.93,158.64 528.03,158.52 528.13,160.08 528.23,158.95 528.33,159.45 528.43,159.06 528.54,158.63 528.64,159.04 528.74,159.04 528.84,159.5 528.94,158.5 529.04,158.73 529.15,159.07 529.25,159.01 529.35,158.98 529.45,159.21 529.55,158.4 529.65,158.28 529.75,158.3 529.86,158.33 529.96,157.82 530.06,157.35 530.16,157.31 530.26,158.04 530.36,157.16 530.47,156.74 530.57,156.16 530.67,156.64 530.77,156.46 530.87,156.32 530.97,156.29 531.08,156.37 531.18,156.47 531.28,156.66 531.38,156.51 531.48,156.77 531.58,156.25 531.69,157.07 531.79,156.67 531.89,156.51 531.99,156.66 532.09,155.97 532.19,156.94 532.3,156.12 532.4,156.54 532.5,156.55 532.6,157.47 532.7,157.18 532.8,157.46 532.91,158.74 533.01,157.93 533.11,157.94 533.21,158.21 533.31,158.37 533.41,158.36 533.51,158.31 533.62,159.01 533.72,159.3 533.82,159.14 533.92,158.87 534.02,159.28 534.12,158.62 534.23,158.55 534.33,159.13 534.43,159.53 534.53,158.9 534.63,158.75 534.73,159.18 534.94,159.33 535.55,159.3 536.16,159.45 536.77,159.72 537.38,159.18 537.99,159.31 538.6,159.22 539.1,158.96 539.21,158.78 539.31,158.75 539.41,158.66 539.51,158.16 539.61,158.36 539.71,157.99 539.82,158.84 539.92,158.68 540.02,159.23 540.12,159.25 540.43,158.92 541.04,160.17 541.64,159.51 542.25,159.94 542.86,160.02 543.47,159.62 544.08,159.64 544.69,159.06 545.3,159.96 545.91,158.98 546.52,159.95 547.13,159.44 547.74,160.33 548.35,159.37 548.96,159.16 549.57,159.52 550.18,159.32 550.79,159.45 551.4,160.11 552.01,159.91 552.62,159.63 553.03,159.37 553.13,159.28 553.23,159.12 553.33,158.59 553.43,158.02 553.54,156.87 553.64,156.86 553.74,156.52 553.84,156.63 553.94,156.93 554.04,156.52 554.14,157.32 554.25,157.72 554.35,158.85 554.45,158.52 554.55,158.86 554.65,159.15 554.75,159.81 555.06,159.44 555.67,159.61 556.28,159.22 556.89,159.22 557.5,159.53 557.6,159.18 557.7,159.15 557.8,159.25 557.9,159.78 558.01,159.26 558.11,159.23 558.21,159.29 558.31,159.24 558.41,159.22 558.51,158.99 558.62,158.42 558.72,158.17 558.82,158.57 558.92,158.12 559.02,157.91 559.12,156.87 559.23,156.71 559.33,157.13 559.43,156.99 559.53,156.36 559.63,156.75 559.73,156.92 559.84,156.87 559.94,156.87 560.04,156.41 560.14,156.47 560.24,156.48 560.34,156.81 560.45,156.29 560.55,157.11 560.65,157.09 560.75,156.84 560.85,157.13 560.95,156.53 561.06,158.02 561.16,158.09 561.26,157.81 561.36,156.81 561.46,156.24 561.56,157.12 561.67,157.01 561.77,156.51 561.87,156.95 561.97,156.63 562.07,156.61 562.17,156.42 562.27,156.63 562.38,156.67 562.48,157 562.58,157.26 562.68,158.47 562.78,158.52 562.88,158.27 562.99,158.78 563.09,159.09 563.19,158.79 563.29,159.21 563.39,159.43 563.49,158.32 563.6,157.97 563.7,157.36 563.8,156.29 563.9,156.68 564,156.83 564.1,157.01 564.21,156.63 564.31,156.57 564.41,156.57 564.51,157 564.61,156.87 564.71,156.9 564.82,156.99 564.92,157.54 565.02,157.38 565.12,158.35 565.22,158.35 565.32,158.16 565.43,158.08 565.53,158.71 565.63,158.48 565.73,158.23 565.83,158.75 565.93,158.55 566.03,158.79 566.14,158.15 566.24,157.3 566.34,157.24 566.44,157.55 566.54,157.47 566.64,156.37 566.75,156.42 566.85,156.3 566.95,156.79 567.05,157.06 567.15,156.71 567.25,156.62 567.36,156.57 567.46,156.83 567.56,156.35 567.66,156.8 567.76,157.13 567.86,156.9 567.97,156.42 568.07,157.05 568.17,156.59 568.27,156.77 568.37,156.78 568.47,156.77 568.58,156.71 568.68,156.7 568.78,157.43 568.88,157.05 568.98,157.7 569.08,157.52 569.19,158.11 569.29,158.27 569.39,158.65 569.49,158.45 569.59,159.12 569.69,158.79 569.8,159.1 569.9,158.65 570,158.79 570.1,159.7 570.2,158.72 570.3,159.46 570.4,159.6 570.51,159.51 570.61,159.5 570.71,158.9 570.81,159.26 570.91,159.45 571.01,159.28 571.12,158.88 571.22,158.78 571.32,159.11 571.42,159.15 571.52,158.52 571.62,158.01 571.73,157.59 571.83,156.25 571.93,156.83 572.03,157.65 572.13,156.3 572.23,157.24 572.34,156.84 572.44,156.21 572.54,157.5 572.64,158.36 572.74,158.44 572.84,158.79 572.95,158.9 573.05,159.51 573.15,159.71 573.35,159.86 573.96,159.94 574.57,159.44 575.18,159.7 575.79,159.58 576.4,160.18 577.01,159.48 577.62,159.89 578.23,159.65 578.84,159.8 579.45,160.03 580.06,159.26 580.67,159.57 581.28,159.66 581.89,159.76 582.5,159.48 583.11,159.57 583.72,159.64 584.33,159.41 584.94,159.7 585.55,160.03 586.16,159.83 586.77,160.13 587.38,160.14 587.99,159.83 588.6,159.68 589.21,159.62 589.82,159.27 590.42,159.85 591.03,160.12 591.64,159.26 592.25,159.51 592.86,159.5 593.17,159.14 593.27,159.24 593.37,158.93 593.47,159.38 593.58,159.31 593.68,159.03 593.78,159.13 593.88,159.01 593.98,158.68 594.08,157.97 594.19,157.92 594.29,157.91 594.39,157.05 594.49,156.73 594.59,157.05 594.69,156.94 594.79,156.8 594.9,156.69 595,157.15 595.1,156.6 595.2,156.89 595.3,156.6 595.4,156.88 595.51,156.77 595.61,157.03 595.71,156.69 595.81,156.13 595.91,157.64 596.01,158.06 596.12,158.06 596.22,158.5 596.32,158.84 596.42,159.4 596.52,158.85 596.62,158.57 596.73,158.63 596.83,159.23 596.93,159.23 597.03,159.92 597.13,159.3 597.74,159.4 598.35,159.44 598.96,159.92 599.57,158.95 600.18,159.66 600.79,159.6 601.4,159.69 602.01,159.82 602.62,159.16 603.23,159.65 603.33,159.05 603.43,159.2 603.53,158.69 603.64,159.09 603.74,159.01 603.84,158.88 603.94,159.02 604.04,158.35 604.14,158.05 604.25,157.47 604.35,157.22 604.45,157.04 604.55,157.39 604.65,156.53 604.75,156.57 604.86,156.85 604.96,157.49 605.06,157.11 605.16,157.08 605.26,156.52 605.36,156.51 605.47,156.63 605.57,156.51 605.67,157.52 605.77,157.95 605.87,158.49 605.97,158.2 606.08,158.66 606.18,158.66 606.28,158.64 606.38,159.7 606.48,158.58 606.58,159.41 606.89,159.31 607.5,159.48 608.11,160.15 608.72,160.23 609.33,159.83 609.94,160.08 610.55,160 611.16,160.04 611.77,160 612.38,159.68 612.99,159.92 613.6,159.83 614.21,160.24 614.81,159.43 615.42,159.57 615.53,159.52 615.63,158.82 615.73,158.11 615.83,157.85 615.93,158.24 616.03,157.09 616.14,156.78 616.24,157.1 616.34,157.28 616.44,157.72 616.54,158.83 616.64,159.25 616.75,158.88 616.85,159.18 617.25,159.31 617.86,160.14 618.47,159.54 619.08,159.72 619.69,160.03 620.3,159.88 620.91,159.78 621.52,160.02 621.73,159.15 621.83,159.06 621.93,159.03 622.03,158.29 622.13,157.96 622.23,157.98 622.34,157.55 622.44,157.82 622.54,158.82 622.64,158.96 622.74,159.15 622.84,159.23 623.35,159.41 623.96,159.78 624.57,160.3 625.18,159.8 625.79,160.52 626.4,159.71 627.01,159.69 627.62,159.5 628.23,159.35 628.84,159.78 628.94,159.09 629.04,158.81 629.14,159.2 629.25,157.92 629.35,157.18 629.45,157.34 629.55,156.99 629.65,156.88 629.75,156.72 629.86,157.36 629.96,156.56 630.06,157.02 630.16,158.24 630.26,158.83 630.36,159.29 630.47,159.24 630.57,159.22 630.67,159.52 630.77,159.57 630.87,159.5 630.97,159.06 631.07,158.8 631.18,159.4 631.28,159.36 631.38,159.7 631.48,159.85 631.58,159.24 631.68,159.28 631.79,159.45 631.89,159.4 631.99,158.62 632.09,158.72 632.19,158.16 632.29,157.01 632.4,157.02 632.5,156.41 632.6,156.91 632.7,156.9 632.8,157.11 632.9,157.16 633.01,157.08 633.11,156.97 633.21,156.84 633.31,157.4 633.41,157.83 633.51,158.49 633.62,159.16 633.72,158.96 633.82,158.97 633.92,159.02 634.02,159.67 634.12,158.82 634.23,158.65 634.33,158.45 634.43,158.67 634.53,157.67 634.63,156.66 634.73,157.18 634.84,157.09 634.94,157.06 635.04,156.96 635.14,156.76 635.24,156.91 635.34,157.06 635.44,156.79 635.55,157.14 635.65,157.18 635.75,158.18 635.85,158.45 635.95,158.13 636.05,158.42 636.16,158.6 636.26,158.1 636.36,157.89 636.46,157.86 636.56,157.29 636.66,157.24 636.77,157.19 636.87,157.36 636.97,156.88 637.07,157.13 637.17,156.94 637.27,157.76 637.38,156.78 637.48,157.65 637.58,156.71 637.68,157.08 637.78,156.44 637.88,158.12 637.99,157.8 638.09,159.13 638.19,159.28 638.29,158.96 638.39,159.25 638.49,158.97 638.6,159.14 638.7,159.55 638.8,159.79 639.2,159.73 639.81,159.6 640.42,159.8 641.03,159.48 641.64,159.93 642.25,160.51 642.86,159.92 643.47,159.83 644.08,160.08 644.69,160.54 645.3,160.39 645.91,160.23 646.52,160.04 647.13,159.97 647.74,159.92 648.35,159.42 648.96,160.39 649.57,160.31 650.18,159.89 650.79,159.66 651.4,159.71 652.01,159.81 652.62,160.49 653.23,160.21 653.84,160.01 654.45,159.64 655.06,159.65 655.67,160.13 656.28,159.9 656.89,159.72 657.5,159.55 657.9,159.78 658.01,159.67 658.11,159.77 658.21,159.37 658.31,158.71 658.41,159.06 658.51,159.64 658.62,159 658.72,158.36 658.82,157.96 658.92,156.16 659.02,157.47 659.12,156.66 659.23,157.26 659.33,157.64 659.43,156.81 659.53,157.16 659.63,157.03 659.73,156.81 659.83,156.59 659.94,156.93 660.04,157.53 660.14,156.65 660.24,157.47 660.34,157.19 660.44,157.18 660.55,157.19 660.65,156.96 660.75,157.13 660.85,156.55 660.95,157.05 661.05,156.98 661.16,157.41 661.26,157 661.36,157.58 661.46,158.55 661.56,159.17 661.66,158.74 661.77,159.19 661.87,159.52 661.97,158.99 662.07,159.55 662.38,159.32 662.99,159.37 663.59,160.45 664.2,159.45 664.81,160.05 665.42,159.98 666.03,159.9 666.64,160.15 667.25,159.7 667.86,160.37 668.47,159.54 669.08,160.16 669.69,159.85 670.3,159.96 670.91,159.89 671.52,160.02 672.13,160.22 672.74,160.22 673.35,160.46 673.96,159.85 674.57,159.36 674.67,159.11 674.77,159.07 674.88,158.81 674.98,158.08 675.08,156.86 675.18,156.59 675.28,157.05 675.38,156.71 675.49,157.6 675.59,156.74 675.69,156.73 675.79,156.24 675.89,157.6 675.99,158.35 676.09,159.06 676.2,159.72 676.3,159.67 676.4,159.49 677.01,159.82 677.62,159.45 678.23,159.69 678.5,159.98" fill="none" stroke="#dc2a2a" stroke-width="3.8" stroke-linejoin="round"/>
<path d="M418.64,155.78a1.5,1.5 0 1,0 3.0,0a1.5,1.5 0 1,0 -3.0,0M419.1,151.38a1.5,1.5 0 1,0 3.0,0a1.5,1.5 0 1,0 -3.0,0M419.4,154.77a1.5,1.5 0 1,0 3.0,0a1.5,1.5 0 1,0 -3.0,0M452.68,155.03a1.5,1.5 0 1,0 3.0,0a1.5,1.5 0 1,0 -3.0,0M452.35,150.74a1.5,1.5 0 1,0 3.0,0a1.5,1.5 0 1,0 -3.0,0M452.81,145.9a1.5,1.5 0 1,0 3.0,0a1.5,1.5 0 1,0 -3.0,0M453.38,150.16a1.5,1.5 0 1,0 3.0,0a1.5,1.5 0 1,0 -3.0,0M453.38,153.9a1.5,1.5 0 1,0 3.0,0a1.5,1.5 0 1,0 -3.0,0M467.73,156.88a1.5,1.5 0 1,0 3.0,0a1.5,1.5 0 1,0 -3.0,0M467.78,151.96a1.5,1.5 0 1,0 3.0,0a1.5,1.5 0 1,0 -3.0,0M467.6,148.51a1.5,1.5 0 1,0 3.0,0a1.5,1.5 0 1,0 -3.0,0M468.94,148a1.5,1.5 0 1,0 3.0,0a1.5,1.5 0 1,0 -3.0,0M468.19,151.26a1.5,1.5 0 1,0 3.0,0a1.5,1.5 0 1,0 -3.0,0M468.78,154.47a1.5,1.5 0 1,0 3.0,0a1.5,1.5 0 1,0 -3.0,0M476.02,156.93a1.5,1.5 0 1,0 3.0,0a1.5,1.5 0 1,0 -3.0,0M477.27,155.73a1.5,1.5 0 1,0 3.0,0a1.5,1.5 0 1,0 -3.0,0M476.01,154.49a1.5,1.5 0 1,0 3.0,0a1.5,1.5 0 1,0 -3.0,0M477.27,152.63a1.5,1.5 0 1,0 3.0,0a1.5,1.5 0 1,0 -3.0,0M476.98,149.15a1.5,1.5 0 1,0 3.0,0a1.5,1.5 0 1,0 -3.0,0M477.13,144.85a1.5,1.5 0 1,0 3.0,0a1.5,1.5 0 1,0 -3.0,0M477.46,141.14a1.5,1.5 0 1,0 3.0,0a1.5,1.5 0 1,0 -3.0,0M477.54,135.15a1.5,1.5 0 1,0 3.0,0a1.5,1.5 0 1,0 -3.0,0M478.3,128.97a1.5,1.5 0 1,0 3.0,0a1.5,1.5 0 1,0 -3.0,0M477.4,123.27a1.5,1.5 0 1,0 3.0,0a1.5,1.5 0 1,0 -3.0,0M477.49,118.48a1.5,1.5 0 1,0 3.0,0a1.5,1.5 0 1,0 -3.0,0M478.14,113.34a1.5,1.5 0 1,0 3.0,0a1.5,1.5 0 1,0 -3.0,0M477.65,107.62a1.5,1.5 0 1,0 3.0,0a1.5,1.5 0 1,0 -3.0,0M477.54,98.6a1.5,1.5 0 1,0 3.0,0a1.5,1.5 0 1,0 -3.0,0M477.97,92.15a1.5,1.5 0 1,0 3.0,0a1.5,1.5 0 1,0 -3.0,0M477.79,85.65a1.5,1.5 0 1,0 3.0,0a1.5,1.5 0 1,0 -3.0,0M477.83,76.47a1.5,1.5 0 1,0 3.0,0a1.5,1.5 0 1,0 -3.0,0M477.85,69.84a1.5,1.5 0 1,0 3.0,0a1.5,1.5 0 1,0 -3.0,0M477.67,59.82a1.5,1.5 0 1,0 3.0,0a1.5,1.5 0 1,0 -3.0,0M477.85,47.56a1.5,1.5 0 1,0 3.0,0a1.5,1.5 0 1,0 -3.0,0M477.49,39.01a1.5,1.5 0 1,0 3.0,0a1.5,1.5 0 1,0 -3.0,0M477.81,30.31a1.5,1.5 0 1,0 3.0,0a1.5,1.5 0 1,0 -3.0,0M478.1,25.44a1.5,1.5 0 1,0 3.0,0a1.5,1.5 0 1,0 -3.0,0M477.88,31.71a1.5,1.5 0 1,0 3.0,0a1.5,1.5 0 1,0 -3.0,0M478.47,37.35a1.5,1.5 0 1,0 3.0,0a1.5,1.5 0 1,0 -3.0,0M477.79,42.41a1.5,1.5 0 1,0 3.0,0a1.5,1.5 0 1,0 -3.0,0M478.07,53.75a1.5,1.5 0 1,0 3.0,0a1.5,1.5 0 1,0 -3.0,0M478.06,58.56a1.5,1.5 0 1,0 3.0,0a1.5,1.5 0 1,0 -3.0,0M478.31,67.13a1.5,1.5 0 1,0 3.0,0a1.5,1.5 0 1,0 -3.0,0M478.43,74.41a1.5,1.5 0 1,0 3.0,0a1.5,1.5 0 1,0 -3.0,0M477.8,85.13a1.5,1.5 0 1,0 3.0,0a1.5,1.5 0 1,0 -3.0,0M478.45,92.5a1.5,1.5 0 1,0 3.0,0a1.5,1.5 0 1,0 -3.0,0M478.17,100.54a1.5,1.5 0 1,0 3.0,0a1.5,1.5 0 1,0 -3.0,0M477.86,107.62a1.5,1.5 0 1,0 3.0,0a1.5,1.5 0 1,0 -3.0,0M478.86,113.51a1.5,1.5 0 1,0 3.0,0a1.5,1.5 0 1,0 -3.0,0M478.54,119.92a1.5,1.5 0 1,0 3.0,0a1.5,1.5 0 1,0 -3.0,0M478.7,126.68a1.5,1.5 0 1,0 3.0,0a1.5,1.5 0 1,0 -3.0,0M478.64,130.85a1.5,1.5 0 1,0 3.0,0a1.5,1.5 0 1,0 -3.0,0M478.69,135.14a1.5,1.5 0 1,0 3.0,0a1.5,1.5 0 1,0 -3.0,0M479.02,139.98a1.5,1.5 0 1,0 3.0,0a1.5,1.5 0 1,0 -3.0,0M478.58,143.18a1.5,1.5 0 1,0 3.0,0a1.5,1.5 0 1,0 -3.0,0M478.68,146.94a1.5,1.5 0 1,0 3.0,0a1.5,1.5 0 1,0 -3.0,0M479.13,150.91a1.5,1.5 0 1,0 3.0,0a1.5,1.5 0 1,0 -3.0,0M478.6,154.22a1.5,1.5 0 1,0 3.0,0a1.5,1.5 0 1,0 -3.0,0M479.86,153.97a1.5,1.5 0 1,0 3.0,0a1.5,1.5 0 1,0 -3.0,0M480.78,157.29a1.5,1.5 0 1,0 3.0,0a1.5,1.5 0 1,0 -3.0,0M481.41,153.46a1.5,1.5 0 1,0 3.0,0a1.5,1.5 0 1,0 -3.0,0M481.51,148.97a1.5,1.5 0 1,0 3.0,0a1.5,1.5 0 1,0 -3.0,0M482.71,144.5a1.5,1.5 0 1,0 3.0,0a1.5,1.5 0 1,0 -3.0,0M482.23,140.57a1.5,1.5 0 1,0 3.0,0a1.5,1.5 0 1,0 -3.0,0M481.78,136.76a1.5,1.5 0 1,0 3.0,0a1.5,1.5 0 1,0 -3.0,0M482.27,129.26a1.5,1.5 0 1,0 3.0,0a1.5,1.5 0 1,0 -3.0,0M482.06,125.07a1.5,1.5 0 1,0 3.0,0a1.5,1.5 0 1,0 -3.0,0M482.39,118.44a1.5,1.5 0 1,0 3.0,0a1.5,1.5 0 1,0 -3.0,0M482.43,113a1.5,1.5 0 1,0 3.0,0a1.5,1.5 0 1,0 -3.0,0M482.42,108.47a1.5,1.5 0 1,0 3.0,0a1.5,1.5 0 1,0 -3.0,0M482.34,100.73a1.5,1.5 0 1,0 3.0,0a1.5,1.5 0 1,0 -3.0,0M482.05,92.79a1.5,1.5 0 1,0 3.0,0a1.5,1.5 0 1,0 -3.0,0M482.32,89.37a1.5,1.5 0 1,0 3.0,0a1.5,1.5 0 1,0 -3.0,0M482.68,81.02a1.5,1.5 0 1,0 3.0,0a1.5,1.5 0 1,0 -3.0,0M482.14,73.35a1.5,1.5 0 1,0 3.0,0a1.5,1.5 0 1,0 -3.0,0M482.33,68.71a1.5,1.5 0 1,0 3.0,0a1.5,1.5 0 1,0 -3.0,0M482.36,59.79a1.5,1.5 0 1,0 3.0,0a1.5,1.5 0 1,0 -3.0,0M482.54,55.41a1.5,1.5 0 1,0 3.0,0a1.5,1.5 0 1,0 -3.0,0M482.76,61.38a1.5,1.5 0 1,0 3.0,0a1.5,1.5 0 1,0 -3.0,0M482.45,69.61a1.5,1.5 0 1,0 3.0,0a1.5,1.5 0 1,0 -3.0,0M482.61,75.26a1.5,1.5 0 1,0 3.0,0a1.5,1.5 0 1,0 -3.0,0M482.61,81.49a1.5,1.5 0 1,0 3.0,0a1.5,1.5 0 1,0 -3.0,0M482.56,87.04a1.5,1.5 0 1,0 3.0,0a1.5,1.5 0 1,0 -3.0,0M482.79,94.42a1.5,1.5 0 1,0 3.0,0a1.5,1.5 0 1,0 -3.0,0M483.45,102.31a1.5,1.5 0 1,0 3.0,0a1.5,1.5 0 1,0 -3.0,0M482.83,108.16a1.5,1.5 0 1,0 3.0,0a1.5,1.5 0 1,0 -3.0,0M483.3,113.9a1.5,1.5 0 1,0 3.0,0a1.5,1.5 0 1,0 -3.0,0M483.17,119.62a1.5,1.5 0 1,0 3.0,0a1.5,1.5 0 1,0 -3.0,0M482.95,126.19a1.5,1.5 0 1,0 3.0,0a1.5,1.5 0 1,0 -3.0,0M483.17,132.78a1.5,1.5 0 1,0 3.0,0a1.5,1.5 0 1,0 -3.0,0M483.58,138.58a1.5,1.5 0 1,0 3.0,0a1.5,1.5 0 1,0 -3.0,0M483.43,142.26a1.5,1.5 0 1,0 3.0,0a1.5,1.5 0 1,0 -3.0,0M483.28,146.06a1.5,1.5 0 1,0 3.0,0a1.5,1.5 0 1,0 -3.0,0M483.98,149.56a1.5,1.5 0 1,0 3.0,0a1.5,1.5 0 1,0 -3.0,0M483.58,153.99a1.5,1.5 0 1,0 3.0,0a1.5,1.5 0 1,0 -3.0,0M484.34,157.24a1.5,1.5 0 1,0 3.0,0a1.5,1.5 0 1,0 -3.0,0M492.57,157.03a1.5,1.5 0 1,0 3.0,0a1.5,1.5 0 1,0 -3.0,0M491.98,153.64a1.5,1.5 0 1,0 3.0,0a1.5,1.5 0 1,0 -3.0,0M493.23,151.4a1.5,1.5 0 1,0 3.0,0a1.5,1.5 0 1,0 -3.0,0M492.6,154.93a1.5,1.5 0 1,0 3.0,0a1.5,1.5 0 1,0 -3.0,0M515.32,156.26a1.5,1.5 0 1,0 3.0,0a1.5,1.5 0 1,0 -3.0,0M515.54,151.95a1.5,1.5 0 1,0 3.0,0a1.5,1.5 0 1,0 -3.0,0M515.9,148.07a1.5,1.5 0 1,0 3.0,0a1.5,1.5 0 1,0 -3.0,0M516.26,151.81a1.5,1.5 0 1,0 3.0,0a1.5,1.5 0 1,0 -3.0,0M516.22,156.18a1.5,1.5 0 1,0 3.0,0a1.5,1.5 0 1,0 -3.0,0M517.48,153.96a1.5,1.5 0 1,0 3.0,0a1.5,1.5 0 1,0 -3.0,0M517.15,150.68a1.5,1.5 0 1,0 3.0,0a1.5,1.5 0 1,0 -3.0,0M517.8,146.05a1.5,1.5 0 1,0 3.0,0a1.5,1.5 0 1,0 -3.0,0M517.99,142.66a1.5,1.5 0 1,0 3.0,0a1.5,1.5 0 1,0 -3.0,0M517.84,138.83a1.5,1.5 0 1,0 3.0,0a1.5,1.5 0 1,0 -3.0,0M517.72,133.85a1.5,1.5 0 1,0 3.0,0a1.5,1.5 0 1,0 -3.0,0M518.28,138.99a1.5,1.5 0 1,0 3.0,0a1.5,1.5 0 1,0 -3.0,0M518.52,143.6a1.5,1.5 0 1,0 3.0,0a1.5,1.5 0 1,0 -3.0,0M517.9,147.29a1.5,1.5 0 1,0 3.0,0a1.5,1.5 0 1,0 -3.0,0M519.09,150.67a1.5,1.5 0 1,0 3.0,0a1.5,1.5 0 1,0 -3.0,0M518.69,153.88a1.5,1.5 0 1,0 3.0,0a1.5,1.5 0 1,0 -3.0,0M519.8,150.42a1.5,1.5 0 1,0 3.0,0a1.5,1.5 0 1,0 -3.0,0M519.29,146.67a1.5,1.5 0 1,0 3.0,0a1.5,1.5 0 1,0 -3.0,0M519.64,143.46a1.5,1.5 0 1,0 3.0,0a1.5,1.5 0 1,0 -3.0,0M519.78,138.91a1.5,1.5 0 1,0 3.0,0a1.5,1.5 0 1,0 -3.0,0M520.03,133.78a1.5,1.5 0 1,0 3.0,0a1.5,1.5 0 1,0 -3.0,0M519.58,130.48a1.5,1.5 0 1,0 3.0,0a1.5,1.5 0 1,0 -3.0,0M519.38,125.83a1.5,1.5 0 1,0 3.0,0a1.5,1.5 0 1,0 -3.0,0M519.76,119.65a1.5,1.5 0 1,0 3.0,0a1.5,1.5 0 1,0 -3.0,0M520.03,113.29a1.5,1.5 0 1,0 3.0,0a1.5,1.5 0 1,0 -3.0,0M520.03,116.83a1.5,1.5 0 1,0 3.0,0a1.5,1.5 0 1,0 -3.0,0M520.05,120.59a1.5,1.5 0 1,0 3.0,0a1.5,1.5 0 1,0 -3.0,0M520.57,127.84a1.5,1.5 0 1,0 3.0,0a1.5,1.5 0 1,0 -3.0,0M520.28,133.91a1.5,1.5 0 1,0 3.0,0a1.5,1.5 0 1,0 -3.0,0M520.81,138.54a1.5,1.5 0 1,0 3.0,0a1.5,1.5 0 1,0 -3.0,0M520.33,143.38a1.5,1.5 0 1,0 3.0,0a1.5,1.5 0 1,0 -3.0,0M520.26,146.87a1.5,1.5 0 1,0 3.0,0a1.5,1.5 0 1,0 -3.0,0M520.26,151.12a1.5,1.5 0 1,0 3.0,0a1.5,1.5 0 1,0 -3.0,0M520.43,154.95a1.5,1.5 0 1,0 3.0,0a1.5,1.5 0 1,0 -3.0,0M528.27,156.04a1.5,1.5 0 1,0 3.0,0a1.5,1.5 0 1,0 -3.0,0M529.71,154.43a1.5,1.5 0 1,0 3.0,0a1.5,1.5 0 1,0 -3.0,0M528.97,150.55a1.5,1.5 0 1,0 3.0,0a1.5,1.5 0 1,0 -3.0,0M529.35,147.22a1.5,1.5 0 1,0 3.0,0a1.5,1.5 0 1,0 -3.0,0M529.45,143.98a1.5,1.5 0 1,0 3.0,0a1.5,1.5 0 1,0 -3.0,0M529.28,140.02a1.5,1.5 0 1,0 3.0,0a1.5,1.5 0 1,0 -3.0,0M529.15,135.52a1.5,1.5 0 1,0 3.0,0a1.5,1.5 0 1,0 -3.0,0M529.59,131.69a1.5,1.5 0 1,0 3.0,0a1.5,1.5 0 1,0 -3.0,0M529.52,123.76a1.5,1.5 0 1,0 3.0,0a1.5,1.5 0 1,0 -3.0,0M529.96,119.36a1.5,1.5 0 1,0 3.0,0a1.5,1.5 0 1,0 -3.0,0M529.82,113.09a1.5,1.5 0 1,0 3.0,0a1.5,1.5 0 1,0 -3.0,0M530.24,108.12a1.5,1.5 0 1,0 3.0,0a1.5,1.5 0 1,0 -3.0,0M529.92,103.18a1.5,1.5 0 1,0 3.0,0a1.5,1.5 0 1,0 -3.0,0M530.03,98.55a1.5,1.5 0 1,0 3.0,0a1.5,1.5 0 1,0 -3.0,0M530.31,103.8a1.5,1.5 0 1,0 3.0,0a1.5,1.5 0 1,0 -3.0,0M529.99,108.1a1.5,1.5 0 1,0 3.0,0a1.5,1.5 0 1,0 -3.0,0M530.09,113.11a1.5,1.5 0 1,0 3.0,0a1.5,1.5 0 1,0 -3.0,0M530.54,118.18a1.5,1.5 0 1,0 3.0,0a1.5,1.5 0 1,0 -3.0,0M530.12,124.47a1.5,1.5 0 1,0 3.0,0a1.5,1.5 0 1,0 -3.0,0M529.83,128.8a1.5,1.5 0 1,0 3.0,0a1.5,1.5 0 1,0 -3.0,0M530.29,135.31a1.5,1.5 0 1,0 3.0,0a1.5,1.5 0 1,0 -3.0,0M530.53,139.47a1.5,1.5 0 1,0 3.0,0a1.5,1.5 0 1,0 -3.0,0M530.99,144.66a1.5,1.5 0 1,0 3.0,0a1.5,1.5 0 1,0 -3.0,0M531.2,149.07a1.5,1.5 0 1,0 3.0,0a1.5,1.5 0 1,0 -3.0,0M531.42,152.53a1.5,1.5 0 1,0 3.0,0a1.5,1.5 0 1,0 -3.0,0M530.84,155.98a1.5,1.5 0 1,0 3.0,0a1.5,1.5 0 1,0 -3.0,0M552.12,157.05a1.5,1.5 0 1,0 3.0,0a1.5,1.5 0 1,0 -3.0,0M557.81,156.84a1.5,1.5 0 1,0 3.0,0a1.5,1.5 0 1,0 -3.0,0M558.08,152.57a1.5,1.5 0 1,0 3.0,0a1.5,1.5 0 1,0 -3.0,0M558.28,149.08a1.5,1.5 0 1,0 3.0,0a1.5,1.5 0 1,0 -3.0,0M558.06,143.47a1.5,1.5 0 1,0 3.0,0a1.5,1.5 0 1,0 -3.0,0M558.09,138.19a1.5,1.5 0 1,0 3.0,0a1.5,1.5 0 1,0 -3.0,0M558.22,133.68a1.5,1.5 0 1,0 3.0,0a1.5,1.5 0 1,0 -3.0,0M558.43,137.95a1.5,1.5 0 1,0 3.0,0a1.5,1.5 0 1,0 -3.0,0M558.63,141.61a1.5,1.5 0 1,0 3.0,0a1.5,1.5 0 1,0 -3.0,0M558.76,146.24a1.5,1.5 0 1,0 3.0,0a1.5,1.5 0 1,0 -3.0,0M559.32,152.36a1.5,1.5 0 1,0 3.0,0a1.5,1.5 0 1,0 -3.0,0M558.77,156.07a1.5,1.5 0 1,0 3.0,0a1.5,1.5 0 1,0 -3.0,0M560.01,157.89a1.5,1.5 0 1,0 3.0,0a1.5,1.5 0 1,0 -3.0,0M560.1,154.45a1.5,1.5 0 1,0 3.0,0a1.5,1.5 0 1,0 -3.0,0M560.64,149.86a1.5,1.5 0 1,0 3.0,0a1.5,1.5 0 1,0 -3.0,0M560.91,153.15a1.5,1.5 0 1,0 3.0,0a1.5,1.5 0 1,0 -3.0,0M561.36,156.58a1.5,1.5 0 1,0 3.0,0a1.5,1.5 0 1,0 -3.0,0M562.6,157.13a1.5,1.5 0 1,0 3.0,0a1.5,1.5 0 1,0 -3.0,0M563.24,152.6a1.5,1.5 0 1,0 3.0,0a1.5,1.5 0 1,0 -3.0,0M562.75,148.91a1.5,1.5 0 1,0 3.0,0a1.5,1.5 0 1,0 -3.0,0M562.61,153.52a1.5,1.5 0 1,0 3.0,0a1.5,1.5 0 1,0 -3.0,0M563.1,156.95a1.5,1.5 0 1,0 3.0,0a1.5,1.5 0 1,0 -3.0,0M565.25,157.11a1.5,1.5 0 1,0 3.0,0a1.5,1.5 0 1,0 -3.0,0M565.3,153.1a1.5,1.5 0 1,0 3.0,0a1.5,1.5 0 1,0 -3.0,0M565.92,149.62a1.5,1.5 0 1,0 3.0,0a1.5,1.5 0 1,0 -3.0,0M565.91,146.02a1.5,1.5 0 1,0 3.0,0a1.5,1.5 0 1,0 -3.0,0M565.73,141.83a1.5,1.5 0 1,0 3.0,0a1.5,1.5 0 1,0 -3.0,0M566,138.26a1.5,1.5 0 1,0 3.0,0a1.5,1.5 0 1,0 -3.0,0M565.86,130.59a1.5,1.5 0 1,0 3.0,0a1.5,1.5 0 1,0 -3.0,0M565.79,123.66a1.5,1.5 0 1,0 3.0,0a1.5,1.5 0 1,0 -3.0,0M565.57,117.89a1.5,1.5 0 1,0 3.0,0a1.5,1.5 0 1,0 -3.0,0M565.83,111.53a1.5,1.5 0 1,0 3.0,0a1.5,1.5 0 1,0 -3.0,0M565.77,105.42a1.5,1.5 0 1,0 3.0,0a1.5,1.5 0 1,0 -3.0,0M566.08,110.98a1.5,1.5 0 1,0 3.0,0a1.5,1.5 0 1,0 -3.0,0M565.92,115.23a1.5,1.5 0 1,0 3.0,0a1.5,1.5 0 1,0 -3.0,0M566.57,118.47a1.5,1.5 0 1,0 3.0,0a1.5,1.5 0 1,0 -3.0,0M566.57,124.59a1.5,1.5 0 1,0 3.0,0a1.5,1.5 0 1,0 -3.0,0M566.82,132.67a1.5,1.5 0 1,0 3.0,0a1.5,1.5 0 1,0 -3.0,0M566.54,136.07a1.5,1.5 0 1,0 3.0,0a1.5,1.5 0 1,0 -3.0,0M566.58,141.04a1.5,1.5 0 1,0 3.0,0a1.5,1.5 0 1,0 -3.0,0M566.8,145.05a1.5,1.5 0 1,0 3.0,0a1.5,1.5 0 1,0 -3.0,0M566.68,150.63a1.5,1.5 0 1,0 3.0,0a1.5,1.5 0 1,0 -3.0,0M567.39,154.63a1.5,1.5 0 1,0 3.0,0a1.5,1.5 0 1,0 -3.0,0M567.59,157.94a1.5,1.5 0 1,0 3.0,0a1.5,1.5 0 1,0 -3.0,0M570.7,157.18a1.5,1.5 0 1,0 3.0,0a1.5,1.5 0 1,0 -3.0,0M570.27,153.82a1.5,1.5 0 1,0 3.0,0a1.5,1.5 0 1,0 -3.0,0M571.13,157.66a1.5,1.5 0 1,0 3.0,0a1.5,1.5 0 1,0 -3.0,0M592.42,156.49a1.5,1.5 0 1,0 3.0,0a1.5,1.5 0 1,0 -3.0,0M593.3,153.08a1.5,1.5 0 1,0 3.0,0a1.5,1.5 0 1,0 -3.0,0M593.6,149.66a1.5,1.5 0 1,0 3.0,0a1.5,1.5 0 1,0 -3.0,0M592.95,145.3a1.5,1.5 0 1,0 3.0,0a1.5,1.5 0 1,0 -3.0,0M592.71,141.38a1.5,1.5 0 1,0 3.0,0a1.5,1.5 0 1,0 -3.0,0M593.95,138.23a1.5,1.5 0 1,0 3.0,0a1.5,1.5 0 1,0 -3.0,0M593.53,134.07a1.5,1.5 0 1,0 3.0,0a1.5,1.5 0 1,0 -3.0,0M593.77,137.9a1.5,1.5 0 1,0 3.0,0a1.5,1.5 0 1,0 -3.0,0M593.26,141.91a1.5,1.5 0 1,0 3.0,0a1.5,1.5 0 1,0 -3.0,0M594.04,146.57a1.5,1.5 0 1,0 3.0,0a1.5,1.5 0 1,0 -3.0,0M594.14,151.27a1.5,1.5 0 1,0 3.0,0a1.5,1.5 0 1,0 -3.0,0M594.14,154.54a1.5,1.5 0 1,0 3.0,0a1.5,1.5 0 1,0 -3.0,0M603.16,157.78a1.5,1.5 0 1,0 3.0,0a1.5,1.5 0 1,0 -3.0,0M603.2,152.96a1.5,1.5 0 1,0 3.0,0a1.5,1.5 0 1,0 -3.0,0M602.98,149a1.5,1.5 0 1,0 3.0,0a1.5,1.5 0 1,0 -3.0,0M603.02,145.1a1.5,1.5 0 1,0 3.0,0a1.5,1.5 0 1,0 -3.0,0M603.43,148.89a1.5,1.5 0 1,0 3.0,0a1.5,1.5 0 1,0 -3.0,0M603.47,153.53a1.5,1.5 0 1,0 3.0,0a1.5,1.5 0 1,0 -3.0,0M604.23,157.15a1.5,1.5 0 1,0 3.0,0a1.5,1.5 0 1,0 -3.0,0M614.61,157.87a1.5,1.5 0 1,0 3.0,0a1.5,1.5 0 1,0 -3.0,0M627.09,156.9a1.5,1.5 0 1,0 3.0,0a1.5,1.5 0 1,0 -3.0,0M628.39,155.54a1.5,1.5 0 1,0 3.0,0a1.5,1.5 0 1,0 -3.0,0M630.75,158.38a1.5,1.5 0 1,0 3.0,0a1.5,1.5 0 1,0 -3.0,0M631.01,154.86a1.5,1.5 0 1,0 3.0,0a1.5,1.5 0 1,0 -3.0,0M631.02,151.21a1.5,1.5 0 1,0 3.0,0a1.5,1.5 0 1,0 -3.0,0M631.13,154.95a1.5,1.5 0 1,0 3.0,0a1.5,1.5 0 1,0 -3.0,0M633.08,157.46a1.5,1.5 0 1,0 3.0,0a1.5,1.5 0 1,0 -3.0,0M632.88,154.15a1.5,1.5 0 1,0 3.0,0a1.5,1.5 0 1,0 -3.0,0M633.26,149.31a1.5,1.5 0 1,0 3.0,0a1.5,1.5 0 1,0 -3.0,0M634.37,152.89a1.5,1.5 0 1,0 3.0,0a1.5,1.5 0 1,0 -3.0,0M633.87,156.5a1.5,1.5 0 1,0 3.0,0a1.5,1.5 0 1,0 -3.0,0M635.56,156a1.5,1.5 0 1,0 3.0,0a1.5,1.5 0 1,0 -3.0,0M635.48,152.62a1.5,1.5 0 1,0 3.0,0a1.5,1.5 0 1,0 -3.0,0M635.37,148.31a1.5,1.5 0 1,0 3.0,0a1.5,1.5 0 1,0 -3.0,0M635.38,144a1.5,1.5 0 1,0 3.0,0a1.5,1.5 0 1,0 -3.0,0M635.51,147.23a1.5,1.5 0 1,0 3.0,0a1.5,1.5 0 1,0 -3.0,0M636.07,150.8a1.5,1.5 0 1,0 3.0,0a1.5,1.5 0 1,0 -3.0,0M636.1,155.11a1.5,1.5 0 1,0 3.0,0a1.5,1.5 0 1,0 -3.0,0M657.5,156.59a1.5,1.5 0 1,0 3.0,0a1.5,1.5 0 1,0 -3.0,0M657.6,152.38a1.5,1.5 0 1,0 3.0,0a1.5,1.5 0 1,0 -3.0,0M657.68,149.15a1.5,1.5 0 1,0 3.0,0a1.5,1.5 0 1,0 -3.0,0M657.56,144.91a1.5,1.5 0 1,0 3.0,0a1.5,1.5 0 1,0 -3.0,0M658.35,149.53a1.5,1.5 0 1,0 3.0,0a1.5,1.5 0 1,0 -3.0,0M658.34,153.23a1.5,1.5 0 1,0 3.0,0a1.5,1.5 0 1,0 -3.0,0M658.44,156.44a1.5,1.5 0 1,0 3.0,0a1.5,1.5 0 1,0 -3.0,0M659.76,154.07a1.5,1.5 0 1,0 3.0,0a1.5,1.5 0 1,0 -3.0,0M659.52,157.41a1.5,1.5 0 1,0 3.0,0a1.5,1.5 0 1,0 -3.0,0M673.45,157.64a1.5,1.5 0 1,0 3.0,0a1.5,1.5 0 1,0 -3.0,0M673.79,153.97a1.5,1.5 0 1,0 3.0,0a1.5,1.5 0 1,0 -3.0,0M674.55,157.37a1.5,1.5 0 1,0 3.0,0a1.5,1.5 0 1,0 -3.0,0" fill="none" stroke="#e0393d" stroke-width="0.8"/>
<path d="M407.5,156.89 410.51,156.98 413.53,157.03 416.54,157.03 419.56,156.84 420,156.5 420.14,156.17 420.24,155.75 420.3,155.37 420.37,154.91 420.44,154.39 420.51,153.84 420.58,153.33 420.64,152.95 420.85,153.32 420.91,153.83 420.98,154.38 421.05,154.9 421.12,155.36 421.19,155.73 421.29,156.15 421.42,156.48 421.8,156.78 424.81,156.9 427.82,156.81 430.84,156.72 433.85,156.65 436.87,156.61 439.88,156.63 442.9,156.71 445.91,156.86 448.93,157.05 451.94,157.21 453.47,156.91 453.71,156.6 453.84,156.21 453.91,155.89 453.98,155.45 454.04,154.84 454.08,154.46 454.11,154.03 454.15,153.55 454.18,153 454.21,152.41 454.25,151.76 454.28,151.07 454.32,150.34 454.35,149.59 454.38,148.84 454.42,148.11 454.45,147.44 454.48,146.87 454.52,146.42 454.59,146.04 454.65,146.43 454.69,146.88 454.72,147.47 454.76,148.14 454.79,148.87 454.82,149.63 454.86,150.39 454.89,151.12 454.92,151.82 454.96,152.47 454.99,153.08 455.03,153.62 455.06,154.11 455.09,154.55 455.13,154.93 455.16,155.27 455.23,155.8 455.3,156.19 455.4,156.58 455.53,156.88 455.81,157.19 456.45,157.5 458.24,157.8 461.26,158.08 464.27,158.28 467.29,158.34 468.37,158.01 468.61,157.71 468.75,157.33 468.81,157.02 468.88,156.59 468.95,156.01 468.98,155.65 469.02,155.23 469.05,154.77 469.08,154.25 469.12,153.67 469.15,153.05 469.19,152.39 469.22,151.69 469.25,150.97 469.29,150.25 469.32,149.56 469.36,148.91 469.39,148.36 469.42,147.93 469.49,147.56 469.56,147.93 469.59,148.37 469.63,148.92 469.66,149.57 469.69,150.26 469.73,150.99 469.76,151.71 469.8,152.41 469.83,153.07 469.86,153.7 469.9,154.27 469.93,154.79 469.97,155.26 470,155.68 470.03,156.04 470.07,156.36 470.13,156.86 470.2,157.23 470.3,157.6 470.47,157.93 470.85,158.24 473.86,158.52 475.93,158.22 476.6,157.92 477.01,157.6 477.28,157.29 477.49,156.97 477.66,156.62 477.79,156.27 477.89,155.95 477.99,155.56 478.06,155.26 478.13,154.91 478.2,154.52 478.26,154.06 478.33,153.52 478.37,153.21 478.4,152.87 478.43,152.5 478.47,152.08 478.5,151.61 478.54,151.08 478.57,150.47 478.6,149.77 478.64,148.96 478.67,148.01 478.71,146.9 478.74,145.58 478.77,144.03 478.81,142.19 478.84,140.02 478.87,137.48 478.91,134.51 478.94,131.06 478.98,127.09 479.01,122.57 479.04,117.48 479.08,111.79 479.11,105.54 479.15,98.74 479.18,91.47 479.21,83.84 479.25,75.99 479.28,68.12 479.31,60.52 479.35,53.49 479.38,47.43 479.42,42.73 479.45,39.74 479.48,38.71 479.52,39.73 479.55,42.72 479.59,47.41 479.62,53.47 479.65,60.48 479.69,68.08 479.72,75.94 479.76,83.78 479.79,91.41 479.82,98.67 479.86,105.46 479.89,111.7 479.92,117.38 479.96,122.47 479.99,126.98 480.03,130.94 480.06,134.38 480.09,137.34 480.13,139.88 480.16,142.04 480.2,143.86 480.23,145.41 480.26,146.72 480.3,147.82 480.33,148.76 480.37,149.56 480.4,150.25 480.43,150.85 480.47,151.37 480.5,151.83 480.53,152.24 480.57,152.6 480.6,152.93 480.67,153.5 480.74,153.97 480.81,154.37 480.87,154.71 480.97,155.14 481.08,155.48 481.21,155.83 481.38,156.13 481.75,156.44 482.3,156.13 482.47,155.81 482.6,155.43 482.7,155.06 482.77,154.76 482.84,154.4 482.91,153.97 482.97,153.45 483.01,153.14 483.04,152.8 483.08,152.41 483.11,151.98 483.14,151.47 483.18,150.89 483.21,150.21 483.24,149.42 483.28,148.48 483.31,147.38 483.35,146.07 483.38,144.51 483.41,142.68 483.45,140.53 483.48,138.02 483.52,135.1 483.55,131.74 483.58,127.9 483.62,123.58 483.65,118.76 483.68,113.45 483.72,107.68 483.75,101.52 483.79,95.04 483.82,88.37 483.85,81.7 483.89,75.24 483.92,69.28 483.96,64.14 483.99,60.15 484.02,57.62 484.06,56.75 484.09,57.63 484.13,60.17 484.16,64.18 484.19,69.33 484.23,75.3 484.26,81.77 484.29,88.46 484.33,95.13 484.36,101.62 484.4,107.8 484.43,113.58 484.46,118.9 484.5,123.74 484.53,128.07 484.57,131.92 484.6,135.29 484.63,138.22 484.67,140.75 484.7,142.92 484.73,144.76 484.77,146.32 484.8,147.65 484.84,148.77 484.87,149.72 484.9,150.53 484.94,151.22 484.97,151.81 485.01,152.33 485.04,152.79 485.07,153.19 485.11,153.54 485.14,153.86 485.21,154.42 485.28,154.88 485.34,155.28 485.41,155.62 485.51,156.05 485.62,156.4 485.75,156.79 485.89,157.1 486.06,157.4 486.29,157.72 486.63,158.05 487.14,158.36 488.05,158.67 490.49,158.97 493.34,158.65 493.51,158.34 493.61,157.99 493.68,157.65 493.75,157.19 493.81,156.61 493.85,156.27 493.88,155.9 493.92,155.51 493.95,155.1 493.98,154.67 494.02,154.25 494.05,153.84 494.08,153.46 494.12,153.13 494.19,152.72 494.32,153.14 494.36,153.47 494.39,153.85 494.42,154.26 494.46,154.69 494.49,155.11 494.52,155.53 494.56,155.92 494.59,156.29 494.63,156.63 494.66,156.94 494.73,157.46 494.8,157.87 494.86,158.17 494.97,158.47 495.17,158.77 495.95,159.07 498.96,159.24 501.98,159.3 504.99,159.33 508.01,159.35 511.02,159.36 514.04,159.29 516,158.99 516.51,158.66 516.75,158.29 516.85,157.99 516.95,157.5 517.02,157.02 517.09,156.39 517.12,156 517.15,155.56 517.19,155.08 517.22,154.55 517.25,153.97 517.29,153.35 517.32,152.7 517.36,152.03 517.39,151.36 517.42,150.71 517.46,150.11 517.49,149.59 517.53,149.18 517.59,148.81 517.7,149.47 517.73,149.95 517.76,150.51 517.8,151.12 517.83,151.75 517.86,152.37 517.9,152.98 517.93,153.55 517.97,154.08 518,154.57 518.03,155 518.07,155.38 518.1,155.72 518.17,156.24 518.24,156.58 518.64,156.19 518.71,155.68 518.75,155.35 518.78,154.95 518.81,154.48 518.85,153.91 518.88,153.25 518.91,152.49 518.95,151.6 518.98,150.59 519.02,149.44 519.05,148.16 519.08,146.76 519.12,145.22 519.15,143.59 519.19,141.86 519.22,140.09 519.25,138.32 519.29,136.6 519.32,135.01 519.36,133.64 519.39,132.57 519.42,131.88 519.52,132.5 519.56,133.54 519.59,134.89 519.63,136.44 519.66,138.13 519.69,139.87 519.73,141.61 519.76,143.3 519.8,144.9 519.83,146.4 519.86,147.77 519.9,149.01 519.93,150.11 519.96,151.08 520,151.93 520.03,152.65 520.07,153.26 520.1,153.78 520.13,154.2 520.17,154.54 520.24,155.04 520.34,155.4 520.57,155.04 520.64,154.61 520.71,153.95 520.74,153.51 520.78,152.98 520.81,152.33 520.85,151.56 520.88,150.65 520.91,149.57 520.95,148.31 520.98,146.86 521.02,145.19 521.05,143.31 521.08,141.21 521.12,138.89 521.15,136.36 521.18,133.66 521.22,130.82 521.25,127.9 521.29,124.97 521.32,122.14 521.35,119.52 521.39,117.27 521.42,115.52 521.46,114.41 521.49,114.04 521.52,114.44 521.56,115.57 521.59,117.35 521.62,119.63 521.66,122.27 521.69,125.14 521.73,128.09 521.76,131.05 521.79,133.92 521.83,136.65 521.86,139.21 521.9,141.56 521.93,143.7 521.96,145.62 522,147.32 522.03,148.81 522.07,150.11 522.1,151.23 522.13,152.19 522.17,153.01 522.2,153.7 522.23,154.29 522.27,154.79 522.3,155.21 522.34,155.57 522.37,155.88 522.44,156.38 522.51,156.76 522.57,157.07 522.67,157.42 522.81,157.78 522.98,158.11 523.22,158.42 523.59,158.73 524.33,159.04 527.35,159.23 528.94,158.92 529.45,158.61 529.75,158.28 529.96,157.94 530.09,157.64 530.23,157.24 530.33,156.85 530.4,156.52 530.47,156.12 530.53,155.62 530.57,155.31 530.6,154.96 530.64,154.55 530.67,154.07 530.7,153.5 530.74,152.83 530.77,152.05 530.8,151.11 530.84,150.01 530.87,148.72 530.91,147.21 530.94,145.46 530.97,143.45 531.01,141.15 531.04,138.56 531.08,135.68 531.11,132.5 531.14,129.04 531.18,125.35 531.21,121.47 531.25,117.48 531.28,113.49 531.31,109.62 531.35,106.06 531.38,102.98 531.41,100.59 531.45,99.07 531.48,98.55 531.52,99.07 531.55,100.59 531.58,102.98 531.62,106.06 531.65,109.63 531.69,113.49 531.72,117.49 531.75,121.48 531.79,125.36 531.82,129.05 531.86,132.51 531.89,135.69 531.92,138.57 531.96,141.17 531.99,143.46 532.02,145.48 532.06,147.23 532.09,148.74 532.13,150.03 532.16,151.13 532.19,152.07 532.23,152.86 532.26,153.52 532.3,154.09 532.33,154.57 532.36,154.98 532.4,155.34 532.43,155.65 532.5,156.15 532.57,156.55 532.63,156.88 532.74,157.28 532.84,157.59 532.97,157.92 533.14,158.23 533.38,158.53 533.75,158.84 534.46,159.15 536.73,159.45 539.14,159.1 539.31,158.72 539.44,158.33 539.88,158.64 540.02,158.99 540.22,159.31 543.24,159.61 546.25,159.63 549.27,159.64 552.28,159.54 553.06,159.2 553.23,158.84 553.33,158.45 553.4,158.09 553.47,157.64 553.54,157.11 553.6,156.53 553.67,155.95 553.74,155.46 553.84,155.13 553.94,155.46 554.01,155.95 554.08,156.53 554.14,157.11 554.21,157.63 554.28,158.08 554.35,158.44 554.45,158.82 554.59,159.12 555.06,159.43 558.07,159.17 558.51,158.85 558.75,158.52 558.92,158.14 559.02,157.79 559.09,157.46 559.16,157.01 559.23,156.39 559.26,155.99 559.29,155.52 559.33,154.96 559.36,154.32 559.4,153.57 559.43,152.71 559.46,151.72 559.5,150.62 559.53,149.38 559.56,148.03 559.6,146.55 559.63,144.97 559.67,143.32 559.7,141.61 559.73,139.9 559.77,138.25 559.8,136.73 559.84,135.41 559.87,134.39 559.9,133.74 560.01,134.37 560.04,135.38 560.07,136.69 560.11,138.2 560.14,139.84 560.17,141.54 560.21,143.23 560.24,144.88 560.28,146.44 560.31,147.91 560.34,149.25 560.38,150.47 560.41,151.57 560.45,152.54 560.48,153.38 560.51,154.12 560.55,154.75 560.58,155.29 560.61,155.74 560.65,156.12 560.68,156.44 560.75,156.93 560.82,157.27 560.92,157.58 561.36,157.22 561.43,156.8 561.5,156.22 561.53,155.86 561.56,155.45 561.6,155 561.63,154.51 561.67,153.99 561.7,153.43 561.73,152.86 561.77,152.28 561.8,151.73 561.83,151.21 561.87,150.77 561.9,150.43 562.07,150.82 562.11,151.28 562.14,151.81 562.17,152.39 562.21,152.98 562.24,153.57 562.27,154.15 562.31,154.69 562.34,155.2 562.38,155.67 562.41,156.1 562.44,156.48 562.48,156.82 562.55,157.37 562.61,157.78 562.72,158.18 562.88,158.51 563.6,158.12 563.7,157.68 563.77,157.23 563.83,156.62 563.87,156.25 563.9,155.83 563.93,155.36 563.97,154.84 564,154.27 564.04,153.67 564.07,153.04 564.1,152.38 564.14,151.73 564.17,151.09 564.21,150.51 564.24,150 564.27,149.61 564.34,149.27 564.41,149.6 564.44,149.99 564.48,150.5 564.51,151.08 564.54,151.71 564.58,152.36 564.61,153.01 564.65,153.64 564.68,154.24 564.71,154.8 564.75,155.32 564.78,155.79 564.82,156.2 564.85,156.57 564.88,156.9 564.95,157.42 565.02,157.79 565.12,158.15 565.32,158.47 566.17,158.16 566.37,157.79 566.51,157.43 566.61,157.06 566.68,156.75 566.75,156.36 566.81,155.86 566.85,155.55 566.88,155.19 566.92,154.76 566.95,154.27 566.98,153.68 567.02,152.98 567.05,152.16 567.09,151.19 567.12,150.05 567.15,148.71 567.19,147.16 567.22,145.38 567.25,143.35 567.29,141.06 567.32,138.51 567.36,135.69 567.39,132.64 567.42,129.37 567.46,125.94 567.49,122.41 567.53,118.87 567.56,115.45 567.59,112.3 567.63,109.57 567.66,107.46 567.69,106.12 567.73,105.66 567.76,106.12 567.8,107.47 567.83,109.58 567.86,112.31 567.9,115.47 567.93,118.89 567.97,122.43 568,125.96 568.03,129.4 568.07,132.67 568.1,135.73 568.14,138.54 568.17,141.1 568.2,143.39 568.24,145.43 568.27,147.21 568.3,148.76 568.34,150.1 568.37,151.24 568.41,152.22 568.44,153.04 568.47,153.74 568.51,154.34 568.54,154.84 568.58,155.26 568.61,155.63 568.64,155.94 568.71,156.45 568.78,156.85 568.85,157.17 568.95,157.55 569.08,157.94 569.25,158.29 569.49,158.62 569.86,158.94 571.52,158.63 571.62,158.21 571.69,157.82 571.76,157.33 571.83,156.75 571.86,156.44 571.9,156.11 571.93,155.79 571.96,155.48 572.03,154.94 572.1,154.62 572.23,154.96 572.3,155.51 572.34,155.83 572.37,156.16 572.4,156.49 572.44,156.81 572.47,157.11 572.54,157.66 572.61,158.11 572.67,158.47 572.78,158.85 572.95,159.19 573.45,159.5 576.47,159.73 579.48,159.77 582.5,159.79 585.51,159.79 588.53,159.79 591.54,159.71 593.27,159.4 593.74,159.08 593.98,158.78 594.15,158.41 594.25,158.07 594.32,157.75 594.39,157.31 594.46,156.7 594.49,156.31 594.52,155.85 594.56,155.31 594.59,154.68 594.63,153.95 594.66,153.11 594.69,152.15 594.73,151.07 594.76,149.86 594.79,148.53 594.83,147.09 594.86,145.54 594.9,143.92 594.93,142.25 594.96,140.58 595,138.97 595.03,137.48 595.07,136.19 595.1,135.19 595.13,134.56 595.24,135.19 595.27,136.19 595.3,137.48 595.34,138.97 595.37,140.58 595.4,142.25 595.44,143.92 595.47,145.54 595.51,147.09 595.54,148.53 595.57,149.86 595.61,151.07 595.64,152.15 595.68,153.11 595.71,153.95 595.74,154.68 595.78,155.31 595.81,155.86 595.84,156.32 595.88,156.71 595.91,157.04 595.98,157.55 596.05,157.92 596.15,158.31 596.29,158.65 596.49,158.97 596.83,159.28 597.64,159.58 600.66,159.75 603.4,159.44 603.84,159.1 604.04,158.76 604.18,158.32 604.25,157.98 604.31,157.5 604.35,157.2 604.38,156.84 604.42,156.41 604.45,155.93 604.48,155.37 604.52,154.73 604.55,154 604.58,153.2 604.62,152.31 604.65,151.35 604.69,150.32 604.72,149.24 604.75,148.13 604.79,147.02 604.82,145.94 604.86,144.95 604.89,144.09 604.92,143.42 604.96,143 605.06,143.42 605.09,144.09 605.13,144.95 605.16,145.94 605.19,147.02 605.23,148.13 605.26,149.24 605.3,150.33 605.33,151.36 605.36,152.32 605.4,153.2 605.43,154.01 605.47,154.73 605.5,155.37 605.53,155.93 605.57,156.42 605.6,156.84 605.63,157.2 605.67,157.51 605.74,157.99 605.8,158.33 605.91,158.68 606.08,159.02 606.38,159.33 607.16,159.64 610.17,159.83 613.19,159.84 615.42,159.54 615.63,159.18 615.73,158.84 615.83,158.37 615.9,158 615.97,157.61 616.03,157.24 616.14,156.9 616.31,157.24 616.37,157.61 616.44,158 616.51,158.37 616.58,158.7 616.68,159.08 616.81,159.41 617.19,159.71 620.2,159.84 621.66,159.52 621.83,159.19 621.93,158.88 622.03,158.5 622.13,158.12 622.5,158.5 622.61,158.88 622.71,159.19 622.88,159.52 623.79,159.82 626.81,159.83 628.77,159.52 629.04,159.15 629.14,158.83 629.21,158.52 629.28,158.11 629.35,157.61 629.42,157.03 629.45,156.71 629.48,156.38 629.52,156.05 629.55,155.73 629.62,155.18 629.69,154.86 629.82,155.17 629.89,155.72 629.92,156.03 629.96,156.36 629.99,156.68 630.02,157 630.06,157.3 630.13,157.84 630.19,158.28 630.26,158.63 630.36,158.99 630.53,159.31 631.99,158.96 632.09,158.64 632.16,158.33 632.23,157.9 632.29,157.33 632.33,156.99 632.36,156.61 632.4,156.19 632.43,155.74 632.46,155.25 632.5,154.74 632.53,154.21 632.57,153.69 632.6,153.18 632.63,152.71 632.67,152.3 632.7,151.99 632.9,152.68 632.94,153.14 632.97,153.65 633.01,154.17 633.04,154.68 633.07,155.19 633.11,155.67 633.14,156.11 633.18,156.52 633.21,156.9 633.24,157.23 633.31,157.78 633.38,158.19 633.48,158.6 633.65,158.92 634.33,158.6 634.43,158.25 634.5,157.89 634.56,157.39 634.6,157.08 634.63,156.71 634.67,156.3 634.7,155.83 634.73,155.31 634.77,154.74 634.8,154.12 634.84,153.45 634.87,152.75 634.9,152.03 634.94,151.31 634.97,150.61 635,149.96 635.04,149.4 635.07,148.97 635.14,148.59 635.21,148.95 635.24,149.37 635.28,149.92 635.31,150.56 635.34,151.25 635.38,151.96 635.41,152.67 635.44,153.36 635.48,154.01 635.51,154.63 635.55,155.19 635.58,155.7 635.61,156.15 635.65,156.55 635.68,156.9 635.75,157.45 635.82,157.84 635.92,158.19 636.43,157.78 636.49,157.38 636.56,156.81 636.6,156.44 636.63,156.01 636.66,155.51 636.7,154.94 636.73,154.29 636.77,153.57 636.8,152.77 636.83,151.9 636.87,150.97 636.9,150 636.94,148.99 636.97,147.98 637,147.01 637.04,146.11 637.07,145.33 637.1,144.73 637.14,144.35 637.24,144.76 637.27,145.37 637.31,146.16 637.34,147.07 637.38,148.05 637.41,149.07 637.44,150.09 637.48,151.08 637.51,152.02 637.55,152.91 637.58,153.72 637.61,154.45 637.65,155.12 637.68,155.7 637.71,156.22 637.75,156.66 637.78,157.05 637.82,157.38 637.88,157.9 637.95,158.28 638.05,158.66 638.19,158.96 638.46,159.29 639.04,159.59 642.05,159.86 645.07,159.9 648.08,159.91 651.1,159.91 654.11,159.89 657.12,159.74 658.11,159.42 658.45,159.09 658.62,158.76 658.72,158.43 658.78,158.1 658.85,157.64 658.92,157.01 658.95,156.61 658.99,156.15 659.02,155.62 659.06,155.01 659.09,154.33 659.12,153.57 659.16,152.73 659.19,151.82 659.23,150.84 659.26,149.82 659.29,148.77 659.33,147.71 659.36,146.69 659.39,145.75 659.43,144.94 659.46,144.3 659.5,143.89 659.6,144.26 659.63,144.88 659.67,145.68 659.7,146.6 659.73,147.6 659.77,148.63 659.8,149.66 659.83,150.66 659.87,151.61 659.9,152.49 659.94,153.3 659.97,154.03 660,154.67 660.04,155.23 660.07,155.71 660.11,156.12 660.14,156.45 660.21,156.91 660.48,156.57 660.55,156.05 660.58,155.74 660.61,155.41 660.65,155.06 660.68,154.71 660.72,154.37 660.75,154.05 660.82,153.58 660.99,153.93 661.02,154.25 661.05,154.62 661.09,155.02 661.12,155.43 661.16,155.83 661.19,156.23 661.22,156.61 661.26,156.96 661.29,157.28 661.36,157.84 661.43,158.29 661.49,158.63 661.6,158.98 661.77,159.3 662.21,159.6 665.22,159.9 668.24,159.93 671.25,159.92 674.27,159.68 674.64,159.37 674.77,159.05 674.88,158.64 674.94,158.24 675.01,157.72 675.04,157.41 675.08,157.07 675.11,156.7 675.15,156.31 675.18,155.9 675.21,155.47 675.25,155.05 675.28,154.63 675.32,154.25 675.35,153.93 675.42,153.51 675.55,153.93 675.59,154.25 675.62,154.63 675.65,155.05 675.69,155.47 675.72,155.9 675.76,156.31 675.79,156.7 675.82,157.07 675.86,157.41 675.89,157.72 675.96,158.24 676.03,158.64 676.13,159.06 676.26,159.37 676.64,159.68 678.5,159.91" fill="none" stroke="#f39a9a" stroke-width="0.9" stroke-linejoin="round"/>
<path d="M407.5,183.43 408.01,183.71 408.52,183.96 409.02,183.13 409.53,183.73 410.04,183.37 410.55,183.64 411.06,183.61 411.56,184.14 412.07,183.91 412.58,183.77 413.09,183.67 413.6,183.58 414.11,183.31 414.61,183.22 415.12,183.75 415.63,184.51 416.14,183.51 416.65,183.39 417.15,183.56 417.66,183.73 418.17,183.71 418.68,183.97 419.19,183.85 419.69,183.91 420.2,183.51 420.71,183.67 421.22,183.55 421.73,183.69 422.24,184.23 422.74,183.68 423.25,183.72 423.76,184.52 424.27,184.03 424.78,184.43 425.28,183.53 425.79,183.86 426.3,183.94 426.81,183.01 427.32,183.68 427.82,183.55 428.33,184.05 428.84,183.22 429.35,183.79 429.86,183.98 430.37,184.2 430.87,183.87 431.38,184.03 431.89,183.89 432.4,183.38 432.91,183.45 433.41,182.81 433.92,183.82 434.43,184.23 434.94,183.19 435.45,183.64 435.95,183.97 436.46,183.38 436.97,183.31 437.48,184.08 437.99,184.19 438.5,184.03 439,183.73 439.51,183.57 440.02,183.87 440.53,183.29 441.04,183.71 441.54,183.79 442.05,183.55 442.56,183.73 443.07,183.86 443.58,183.8 444.08,184.05 444.59,183.07 445.1,182.92 445.61,183.17 446.12,183.69 446.63,184.27 447.13,183.81 447.64,183.58 448.15,183.37 448.66,183.71 449.17,183.43 449.67,183.39 450.18,183.68 450.69,183.68 451.2,183.62 451.71,183.55 452.21,183.94 452.72,183.81 453.23,183.23 453.74,183.37 454.25,183.74 454.45,183.31 454.52,183.04 454.72,184.12 454.76,183.86 454.79,183.83 455.26,183.4 455.77,183.97 456.28,183.97 456.79,183.96 457.3,183.62 457.8,183.28 458.31,183.99 458.82,183.53 459.33,183.88 459.84,184.13 460.34,183.84 460.85,183.87 461.36,183.69 461.87,183.36 462.38,183.99 462.89,183.85 463.39,183.65 463.9,183.68 464.41,183.86 464.92,183.46 465.43,183.77 465.93,183.87 466.44,183.93 466.95,183.27 467.46,183.26 467.97,183.73 468.47,183.67 468.98,183.9 469.36,183.15 469.42,183.34 469.49,183.68 469.63,183.89 469.69,184.2 470,184.12 470.51,183.94 471.02,183.74 471.52,183.97 472.03,183.84 472.54,184.04 473.05,183.86 473.56,183.68 474.06,183.45 474.57,183.69 475.08,183.39 475.59,183.5 476.1,183.7 476.6,184.19 477.11,183.39 477.62,183.6 478.13,183.32 478.64,183.95 479.15,183.26 479.18,183.03 479.25,180.74 479.31,176.76 479.38,173.57 479.45,175.07 479.52,181.06 479.59,187.5 479.65,191.49 479.72,189.88 479.79,186.28 479.86,185.18 480.16,183.6 480.67,183.84 481.18,183.47 481.69,183.83 482.19,183.55 482.7,183.55 483.21,184.43 483.72,183.35 483.79,182.8 483.85,182.6 483.92,180.34 483.99,181.16 484.06,184.63 484.13,189.72 484.19,192.8 484.23,193.02 484.26,192.65 484.33,189.38 484.4,185.67 484.46,184.06 484.73,183.33 485.24,183.52 485.75,183.72 486.26,183.23 486.77,183.55 487.28,183.55 487.78,183.92 488.29,183.32 488.8,183.66 489.31,184.19 489.82,183.75 490.32,183.85 490.83,183.48 491.34,184.24 491.85,183.42 492.36,183.59 492.86,183.68 493.37,183.78 493.88,183.64 494.39,183.66 494.9,183.76 495.41,184.52 495.91,183.58 496.42,183.95 496.93,184.26 497.44,183.29 497.95,183.43 498.45,183.75 498.96,184.04 499.47,183.68 499.98,183.82 500.49,183.56 500.99,184.15 501.5,183.71 502.01,184.1 502.52,183.96 503.03,183.39 503.54,183.6 504.04,183.46 504.55,183.5 505.06,184.03 505.57,183.47 506.08,183.76 506.58,183.33 507.09,183.72 507.6,183.74 508.11,184.13 508.62,183.93 509.12,183.49 509.63,183.48 510.14,183.62 510.65,183.47 511.16,183.62 511.67,183.73 512.17,183.86 512.68,183.62 513.19,183.74 513.7,184.05 514.21,184.13 514.71,183.76 515.22,183.67 515.73,184.15 516.24,183.75 516.75,184.29 517.25,183.56 517.46,183.72 517.53,183.6 517.73,184.66 517.76,183.6 517.8,184.04 518.27,183.33 518.78,183.91 519.22,183.29 519.29,183.05 519.36,182.63 519.42,182.87 519.56,183.9 519.63,184.73 519.69,184.7 519.76,184.15 519.8,184.09 520.3,183.67 520.81,183.58 521.25,184.02 521.32,182.61 521.39,182.08 521.46,182.53 521.59,185.11 521.66,184.93 521.73,185.05 521.79,184.73 521.83,184.32 522.34,183.3 522.84,183.49 523.35,184.01 523.86,183.65 524.37,183.68 524.88,183.82 525.38,183.86 525.89,183.89 526.4,183.4 526.91,183.52 527.42,183.57 527.93,183.16 528.43,183.65 528.94,183.89 529.45,183.74 529.96,184.04 530.47,183.64 530.97,183.34 531.21,183.09 531.28,183.03 531.35,182.04 531.41,181.08 531.48,182.2 531.55,185.21 531.62,185.27 531.69,185.55 531.75,185.18 531.82,183.93 531.99,183.66 532.5,184.2 533.01,183.63 533.51,183.24 534.02,183.75 534.53,183.4 535.04,183.96 535.55,183.91 536.06,183.48 536.56,183.79 537.07,183.81 537.58,183.37 538.09,183.78 538.6,183.22 539.1,183.7 539.61,183.24 540.12,183.11 540.63,183.68 541.14,183.6 541.64,183.76 542.15,183.9 542.66,183.72 543.17,183.3 543.68,183.67 544.19,183.98 544.69,183.72 545.2,183.72 545.71,183.62 546.22,183.55 546.73,183.22 547.23,183.24 547.74,183.65 548.25,183.57 548.76,183.89 549.27,183.45 549.77,184.21 550.28,184.1 550.79,183.95 551.3,184.11 551.81,183.85 552.32,184.02 552.82,183.9 553.33,183.49 553.84,183.93 554.35,183.36 554.86,183.73 555.36,183.69 555.87,183.54 556.38,183.41 556.89,183.71 557.4,183.84 557.9,183.41 558.41,183.14 558.92,184.13 559.43,183.36 559.73,183.42 559.8,182.18 559.87,182.52 559.94,183.1 560.07,184.99 560.14,184.77 560.21,184.06 560.45,183.53 560.95,183.73 561.46,183.85 561.9,183.25 561.97,183.71 562.17,183.5 562.48,183.75 562.99,183.51 563.49,183.52 564,183.75 564.21,183.17 564.27,183.2 564.48,184.26 564.51,184.3 564.54,184.54 565.02,183.39 565.53,184.12 566.03,183.75 566.54,183.6 567.05,183.52 567.46,183.85 567.53,182.97 567.56,182.63 567.59,182.51 567.66,181.46 567.73,182.96 567.8,184.43 567.86,185.87 567.93,185.49 568,185.14 568.07,184.18 568.58,184.09 569.08,183.8 569.59,183.54 570.1,183.77 570.61,183.69 571.12,183.69 571.62,183.5 572.13,183.72 572.64,183.68 573.15,183.78 573.66,183.96 574.16,183.55 574.67,183.99 575.18,183.77 575.69,183.96 576.2,183.71 576.71,183.15 577.21,183.87 577.72,184.28 578.23,184.32 578.74,184.06 579.25,184.07 579.75,183.76 580.26,183.12 580.77,183.44 581.28,183.4 581.79,183.32 582.29,183.59 582.8,184.06 583.31,184.03 583.82,183.49 584.33,183.51 584.84,183.64 585.34,183.96 585.85,183.5 586.36,184.3 586.87,183.64 587.38,183.2 587.88,183.76 588.39,183.46 588.9,183.55 589.41,184.16 589.92,184.1 590.42,184.3 590.93,183.91 591.44,183.35 591.95,183.53 592.46,183.98 592.97,183.96 593.47,183.73 593.98,184.14 594.49,183.56 594.96,183.46 595,183.12 595.03,181.98 595.1,182.49 595.17,182.91 595.3,184.73 595.37,185 595.44,184.47 595.51,184.81 596.01,183.85 596.52,184.03 597.03,183.81 597.54,184.08 598.05,183.61 598.55,183.15 599.06,183.7 599.57,184.07 600.08,183.5 600.59,183.66 601.1,183.38 601.6,183.46 602.11,183.38 602.62,183.31 603.13,183.82 603.64,183.21 604.14,183.73 604.65,183.38 604.79,183.46 604.86,183.32 604.92,183.12 604.99,184 605.13,184.24 605.16,184.54 605.19,184.25 605.26,183.97 605.67,183.81 606.18,184.02 606.68,183.37 607.19,183.71 607.7,183.91 608.21,183.73 608.72,184.02 609.23,183.72 609.73,183.85 610.24,183.61 610.75,183.8 611.26,183.66 611.77,183.87 612.27,183.44 612.78,183.66 613.29,183.68 613.8,183.85 614.31,183.34 614.81,183.09 615.32,183.8 615.83,183.35 616.34,183.93 616.85,183.43 617.36,183.65 617.86,183.22 618.37,183.74 618.88,184.11 619.39,184.25 619.9,183.58 620.4,183.76 620.91,183.58 621.42,184.16 621.93,183.24 622.44,184.19 622.94,184.35 623.45,183.26 623.96,183.57 624.47,183.82 624.98,184.07 625.49,183.55 625.99,183.34 626.5,183.2 627.01,183.92 627.52,183.48 628.03,184.07 628.53,183.29 629.04,183.63 629.55,183.41 630.06,183.72 630.57,183.52 631.07,183.25 631.58,183.85 632.09,183.87 632.6,184.11 633.11,183.94 633.62,183.27 634.12,184.22 634.63,183.76 635,183.42 635.07,182.38 635.14,183.95 635.28,184.27 635.34,183.61 635.65,184.03 636.16,183.96 636.66,183.54 637.04,183.47 637.1,183.21 637.17,183.88 637.31,184.22 637.38,184.22 637.44,184.06 637.68,183.95 638.19,184.15 638.7,184.37 639.2,183.94 639.71,183.96 640.22,183.72 640.73,183.88 641.24,183.77 641.75,183.18 642.25,183.09 642.76,183.57 643.27,183.54 643.78,183.7 644.29,183.52 644.79,183.71 645.3,183.98 645.81,183.72 646.32,183.48 646.83,183.94 647.33,183.44 647.84,183.62 648.35,183.82 648.86,183.61 649.37,184 649.88,183.77 650.38,183.73 650.89,183.85 651.4,183.76 651.91,183.36 652.42,183.35 652.92,183.57 653.43,183.58 653.94,183.72 654.45,183.8 654.96,183.7 655.46,183.5 655.97,183.65 656.48,183.82 656.99,183.72 657.5,183.53 658.01,183.67 658.51,184.14 659.02,183.51 659.39,183.14 659.46,183.41 659.53,183.28 659.67,183.91 659.73,184.24 659.8,183.79 660.04,183.9 660.55,184.21 661.05,183.85 661.56,183.78 662.07,183.57 662.58,183.87 663.09,183.95 663.59,183.69 664.1,184.01 664.61,183.85 665.12,183.2 665.63,183.32 666.14,183.75 666.64,183.29 667.15,183.34 667.66,183.71 668.17,183.67 668.68,183.93 669.18,183.74 669.69,184.17 670.2,183.73 670.71,183.87 671.22,183.69 671.72,183.2 672.23,183.62 672.74,184.26 673.25,183.47 673.76,183.62 674.27,183.55 674.77,184.22 675.28,183.68 675.79,183.86 676.3,183.88 676.81,183.98 677.31,183.86 677.82,183.97 678.33,183.52 678.5,183.12" fill="none" stroke="#d41f1f" stroke-width="1.2" stroke-linejoin="round"/>
<path d="M421.5,164V170M454.5,164V170M469.5,164V170M479.5,164V170M483.5,164V170M494.5,164V170M518.5,164V170M520.5,164V170M531.5,164V170M539.5,164V170M553.5,164V170M559.5,164V170M561.5,164V170M564.5,164V170M567.5,164V170M571.5,164V170M594.5,164V170M595.5,164V170M604.5,164V170M605.5,164V170M610.5,164V170M616.5,164V170M622.5,164V170M629.5,164V170M631.5,164V170M634.5,164V170M636.5,164V170M638.5,164V170M642.5,164V170M659.5,164V170M660.5,164V170M676.5,164V170" stroke="#222" stroke-width="1.1"/>
<rect x="407" y="5" width="272" height="2" fill="#939393"/>
<rect x="407" y="5" width="1" height="191" fill="#4a4a4a"/>
<rect x="678" y="5" width="1" height="191" fill="#4a4a4a"/>
<rect x="407" y="195" width="272" height="1" fill="#4a4a4a"/>
<path d="M407.5,195V192M424.5,195V193M441.5,195V192M458.5,195V193M475.5,195V192M492.5,195V193M509.5,195V192M526.5,195V193M543.5,195V192M559.5,195V193M576.5,195V192M593.5,195V193M610.5,195V192M627.5,195V193M644.5,195V192M661.5,195V193M678.5,195V192" stroke="#4a4a4a" stroke-width="1"/>
<text x="407.5" y="211" font-size="14" text-anchor="middle" fill="#1a1a1a">10</text>
<text x="441.38" y="211" font-size="14" text-anchor="middle" fill="#1a1a1a">20</text>
<text x="475.25" y="211" font-size="14" text-anchor="middle" fill="#1a1a1a">30</text>
<text x="509.12" y="211" font-size="14" text-anchor="middle" fill="#1a1a1a">40</text>
<text x="543" y="211" font-size="14" text-anchor="middle" fill="#1a1a1a">50</text>
<text x="576.88" y="211" font-size="14" text-anchor="middle" fill="#1a1a1a">60</text>
<text x="610.75" y="211" font-size="14" text-anchor="middle" fill="#1a1a1a">70</text>
<text x="644.62" y="211" font-size="14" text-anchor="middle" fill="#1a1a1a">80</text>
<text x="678.5" y="211" font-size="14" text-anchor="middle" fill="#1a1a1a">90</text>
<text x="543.7" y="232.8" font-size="14.3" text-anchor="middle" fill="#1a1a1a">2θ (deg.)</text>
<text transform="translate(389.7,101.5) rotate(-90)" font-size="14.3" text-anchor="middle" fill="#1a1a1a">Intensity (a. u.)</text>
<text x="413.2" y="24.3" font-size="13.8" fill="#f47b7b">Sr<tspan font-size="10" dy="4">2</tspan><tspan dy="-4">TiO</tspan><tspan font-size="10" dy="4">4</tspan><tspan dy="-4">-NF</tspan></text>
<text x="413.4" y="85.7" font-size="11.5" fill="#1a1a1a"><tspan font-style="italic">R</tspan><tspan font-size="8.5" dy="3" font-style="italic">p</tspan><tspan dy="-3"> = 7.86%</tspan></text>
<text x="413.4" y="102.2" font-size="11.5" fill="#1a1a1a"><tspan font-style="italic">R</tspan><tspan font-size="8.5" dy="3" font-style="italic">wp</tspan><tspan dy="-3"> = 9.57%</tspan></text>
<text x="413" y="121.1" font-size="11.5" fill="#1a1a1a"><tspan font-family="Liberation Serif" font-style="italic">χ</tspan><tspan font-size="7" dy="-5">2</tspan><tspan dy="5">= 1.935</tspan></text>
<circle cx="541.8000000000001" cy="20.7" r="1.5" fill="none" stroke="#e0393d" stroke-width="0.85"/>
<rect x="530.6" y="40" width="21.5" height="1" fill="#f39a9a"/>
<rect x="530.6" y="60" width="21.5" height="1" fill="#dc3c3c"/>
<rect x="541.3000000000001" y="77.4" width="1" height="6.1" fill="#333"/>
<text x="555.6" y="23.2" font-size="13.8" fill="#1a1a1a"><tspan font-style="italic">I</tspan><tspan font-size="8.7" font-weight="bold" dy="4.8">obs</tspan></text>
<text x="555.6" y="43.5" font-size="13.8" fill="#1a1a1a"><tspan font-style="italic">I</tspan><tspan font-size="8.7" font-weight="bold" dy="4.8">calc</tspan></text>
<text x="555.6" y="63.4" font-size="13.8" fill="#1a1a1a"><tspan font-style="italic">I</tspan><tspan font-size="8.7" font-weight="bold" dy="4.8">obs-calc</tspan></text>
<text x="554.3000000000001" y="83.5" font-size="14.2" fill="#1a1a1a">Bragg reflections</text>
<text x="9.6" y="11.8" font-size="17" fill="#111">a</text>
<text x="364.8" y="12.3" font-size="17" fill="#111">b</text>

<defs>
<filter id="tn" x="0" y="0" width="100%" height="100%"><feTurbulence type="fractalNoise" baseFrequency="0.22" numOctaves="3" seed="4"/><feColorMatrix type="matrix" values="0 0 0 0 0  0 0 0 0 0  0 0 0 0 0  1.1 0 0 0 -0.42"/></filter>
<filter id="tnw" x="0" y="0" width="100%" height="100%"><feTurbulence type="fractalNoise" baseFrequency="0.22" numOctaves="3" seed="11"/><feColorMatrix type="matrix" values="0 0 0 0 1  0 0 0 0 1  0 0 0 0 1  1.1 0 0 0 -0.45"/></filter>
<filter id="tn2" x="0" y="0" width="100%" height="100%"><feTurbulence type="fractalNoise" baseFrequency="0.04" numOctaves="3" seed="9"/><feColorMatrix type="matrix" values="0 0 0 0 0  0 0 0 0 0  0 0 0 0 0  1.0 0 0 0 -0.4"/></filter>
<filter id="bl07"><feGaussianBlur stdDeviation="0.7"/></filter>
<filter id="bl15"><feGaussianBlur stdDeviation="1.5"/></filter>
<filter id="bl2" x="-20%" y="-20%" width="140%" height="140%"><feGaussianBlur stdDeviation="2"/></filter>
<filter id="bl3" x="-50%" y="-50%" width="200%" height="200%"><feGaussianBlur stdDeviation="3"/></filter>
<filter id="bl5" x="-50%" y="-50%" width="200%" height="200%"><feGaussianBlur stdDeviation="5"/></filter>
<clipPath id="cc"><rect x="0" y="247" width="213" height="228"/></clipPath>
<clipPath id="cp1"><polygon points="45.8,251.1 64.1,247.2 76.3,249.6 85.5,257.2 100.7,266.4 122.1,280.1 129.7,287.7 132.8,298.4 128.2,315.2 116,333.5 97.7,354.9 87,370.2 80.9,380.8 73.3,380.8 51.9,367.1 33.6,351.8 21.4,342.7 15.3,333.5 15.3,318.3 16.8,299.9 24.4,286.2 33.6,269.4"/></clipPath>
<clipPath id="cp2"><polygon points="113.9,348.3 128.7,346.8 143.4,352.7 167,364.5 178.8,371.8 184.7,382.2 183.2,393.9 172.9,411.6 158.2,430 153.1,441.2 146,446.4 140.9,454.5 133.7,464.7 128.6,472.9 125.5,476 112,473.5 100,469.5 82,465.5 70,459.4 65.3,452 63.8,432.3 65.3,420.5 72.7,408.7 84.5,388 99.2,367.4"/></clipPath>
<linearGradient id="cbg" x1="0" y1="0" x2="1" y2="0.4"><stop offset="0" stop-color="#bdbdbd"/><stop offset="1" stop-color="#c6c6c6"/></linearGradient>
</defs>
<g clip-path="url(#cc)">
<rect x="0" y="247" width="213" height="228" fill="url(#cbg)"/>
<path d="M0,322 C10,360 40,392 90,410" fill="none" stroke="#b0b0b0" stroke-width="1"/>
<path d="M0,345 C8,375 22,398 40,420" fill="none" stroke="#b6b6b6" stroke-width="1"/>
<path d="M150,445 Q180,450 213,457" fill="none" stroke="#a8a8a8" stroke-width="1"/>
<polygon points="15,329 20,346 31,353 43,358 55,366 48,358 36,350 26,343" fill="#9a9a9a" opacity="0.8" filter="url(#bl07)"/>
<polygon points="9.5,317 13,316 15,322 14.7,329 11,324" fill="#9a9a9a" opacity="0.8" filter="url(#bl07)"/>
<polygon points="100,355 112,346 128,345 126,350 112,352" fill="#9a9a9a" opacity="0.8" filter="url(#bl07)"/>
<polygon points="139,452 146,447 147,455 141,458" fill="#9a9a9a" filter="url(#bl07)"/>
<polygon points="45.8,251.1 64.1,247.2 76.3,249.6 85.5,257.2 100.7,266.4 122.1,280.1 129.7,287.7 132.8,298.4 128.2,315.2 116,333.5 97.7,354.9 87,370.2 80.9,380.8 73.3,380.8 51.9,367.1 33.6,351.8 21.4,342.7 15.3,333.5 15.3,318.3 16.8,299.9 24.4,286.2 33.6,269.4" fill="none" stroke="#e2e2e2" stroke-width="2.4" filter="url(#bl07)"/>
<polygon points="113.9,348.3 128.7,346.8 143.4,352.7 167,364.5 178.8,371.8 184.7,382.2 183.2,393.9 172.9,411.6 158.2,430 153.1,441.2 146,446.4 140.9,454.5 133.7,464.7 128.6,472.9 125.5,476 112,473.5 100,469.5 82,465.5 70,459.4 65.3,452 63.8,432.3 65.3,420.5 72.7,408.7 84.5,388 99.2,367.4" fill="none" stroke="#e2e2e2" stroke-width="2.4" filter="url(#bl07)"/>
<g filter="url(#bl07)">
<polygon points="45.8,251.1 64.1,247.2 76.3,249.6 85.5,257.2 100.7,266.4 122.1,280.1 129.7,287.7 132.8,298.4 128.2,315.2 116,333.5 97.7,354.9 87,370.2 80.9,380.8 73.3,380.8 51.9,367.1 33.6,351.8 21.4,342.7 15.3,333.5 15.3,318.3 16.8,299.9 24.4,286.2 33.6,269.4" fill="#646464"/>
<polygon points="113.9,348.3 128.7,346.8 143.4,352.7 167,364.5 178.8,371.8 184.7,382.2 183.2,393.9 172.9,411.6 158.2,430 153.1,441.2 146,446.4 140.9,454.5 133.7,464.7 128.6,472.9 125.5,476 112,473.5 100,469.5 82,465.5 70,459.4 65.3,452 63.8,432.3 65.3,420.5 72.7,408.7 84.5,388 99.2,367.4" fill="#484848"/>
</g>
<g clip-path="url(#cp1)">
  <polygon points="43.3,279.1 66.8,271.8 97.7,277.7 94.8,293.9 86,311.5 74.2,318.9 52.1,308.6 41.8,293.9" fill="#2a2a2a" filter="url(#bl2)"/>
  <ellipse cx="60" cy="291" rx="14" ry="11" fill="#0e0e0e" filter="url(#bl3)"/>
  <circle cx="39.6" cy="307" r="2" fill="#222" filter="url(#bl07)"/>
  <ellipse cx="86" cy="334" rx="16" ry="13" fill="#464646" filter="url(#bl5)"/>
  <ellipse cx="36" cy="283" rx="11" ry="16" fill="#4a4a4a" opacity="0.8" filter="url(#bl5)"/>
  <ellipse cx="108" cy="283" rx="12" ry="10" fill="#4c4c4c" opacity="0.7" filter="url(#bl5)"/>
  <ellipse cx="30" cy="316" rx="12" ry="8" fill="#3e3e3e" opacity="0.7" filter="url(#bl5)"/>
  <ellipse cx="28" cy="338" rx="12" ry="10" fill="#828282" filter="url(#bl5)"/><ellipse cx="68" cy="340" rx="24" ry="16" fill="#7c7c7c" filter="url(#bl5)"/>
  <ellipse cx="20" cy="300" rx="6" ry="14" fill="#888" filter="url(#bl3)"/>
  <rect x="0" y="247" width="213" height="228" filter="url(#tn2)" opacity="0.5"/>
  <rect x="0" y="247" width="213" height="228" filter="url(#tn)" opacity="0.6"/>
  <rect x="0" y="247" width="213" height="228" filter="url(#tnw)" opacity="0.35"/>
</g>
<g clip-path="url(#cp2)">
  <polygon points="103,358 130,349 170,366 182,378 178,392 150,380 120,368 98,372" fill="#303030" filter="url(#bl3)"/>
  <ellipse cx="172" cy="400" rx="8" ry="18" fill="#383838" filter="url(#bl5)"/>
  <ellipse cx="80" cy="460" rx="16" ry="14" fill="#383838" filter="url(#bl5)"/>
  <ellipse cx="102" cy="425" rx="20" ry="16" fill="#686868" filter="url(#bl5)"/>
  <ellipse cx="140" cy="430" rx="14" ry="12" fill="#5e5e5e" filter="url(#bl5)"/>
  <ellipse cx="118" cy="402.5" rx="3" ry="2.5" fill="#151515" filter="url(#bl07)"/>
  <ellipse cx="130" cy="404" rx="5" ry="3" fill="#222" filter="url(#bl15)"/>
  <rect x="0" y="247" width="213" height="228" filter="url(#tn2)" opacity="0.5"/>
  <rect x="0" y="247" width="213" height="228" filter="url(#tn)" opacity="0.6"/>
  <rect x="0" y="247" width="213" height="228" filter="url(#tnw)" opacity="0.35"/>
</g>
<rect x="140" y="247" width="73" height="73" fill="#3a3a3a"/>
<radialGradient id="glow"><stop offset="0" stop-color="#fff" stop-opacity="0.6"/><stop offset="1" stop-color="#fff" stop-opacity="0"/></radialGradient><circle cx="175.7" cy="283.3" r="7.5" fill="url(#glow)"/><circle cx="152.5" cy="283.3" r="3.5" fill="url(#glow)"/><circle cx="199.1" cy="283.3" r="3.5" fill="url(#glow)"/><rect x="140" y="282.8" width="73" height="1" fill="#fff" opacity="0.06"/>
<g fill="#fff">
 <circle cx="175.7" cy="283.3" r="2.5"/>
 <circle cx="152.5" cy="283.3" r="1.6"/><circle cx="199.1" cy="283.3" r="1.6"/>
 <circle cx="164" cy="272" r="1" opacity="0.8"/><circle cx="187.2" cy="272" r="1" opacity="0.8"/>
 <circle cx="164.4" cy="295" r="1" opacity="0.8"/><circle cx="187.5" cy="295" r="1" opacity="0.8"/>
</g>
<g fill="#777">
<circle cx="152.4" cy="248.8" r="0.65"/><circle cx="152.4" cy="260.3" r="0.65"/><circle cx="152.4" cy="271.8" r="0.65"/><circle cx="152.4" cy="294.8" r="0.65"/><circle cx="152.4" cy="306.3" r="0.65"/><circle cx="152.4" cy="317.8" r="0.65"/><circle cx="164.05" cy="248.8" r="0.65"/><circle cx="164.05" cy="260.3" r="0.65"/><circle cx="164.05" cy="283.3" r="0.65"/><circle cx="164.05" cy="306.3" r="0.65"/><circle cx="164.05" cy="317.8" r="0.65"/><circle cx="175.7" cy="248.8" r="0.65"/><circle cx="175.7" cy="260.3" r="0.65"/><circle cx="175.7" cy="271.8" r="0.65"/><circle cx="175.7" cy="294.8" r="0.65"/><circle cx="175.7" cy="306.3" r="0.65"/><circle cx="175.7" cy="317.8" r="0.65"/><circle cx="187.35" cy="248.8" r="0.65"/><circle cx="187.35" cy="260.3" r="0.65"/><circle cx="187.35" cy="283.3" r="0.65"/><circle cx="187.35" cy="306.3" r="0.65"/><circle cx="187.35" cy="317.8" r="0.65"/><circle cx="199" cy="248.8" r="0.65"/><circle cx="199" cy="260.3" r="0.65"/><circle cx="199" cy="271.8" r="0.65"/><circle cx="199" cy="294.8" r="0.65"/><circle cx="199" cy="306.3" r="0.65"/><circle cx="199" cy="317.8" r="0.65"/><circle cx="210.65" cy="248.8" r="0.65"/><circle cx="210.65" cy="260.3" r="0.65"/><circle cx="210.65" cy="271.8" r="0.65"/><circle cx="210.65" cy="283.3" r="0.65"/><circle cx="210.65" cy="294.8" r="0.65"/><circle cx="210.65" cy="306.3" r="0.65"/><circle cx="210.65" cy="317.8" r="0.65"/></g>
<text x="10" y="267.5" font-size="17" fill="#111">c</text>
<text x="158.4" y="454.6" font-size="13.8" fill="#fff">200 nm</text>
<rect x="168.6" y="462.4" width="33.7" height="4.9" fill="#000" stroke="#fff" stroke-width="0.9"/>
</g>


<defs>
<clipPath id="cd"><rect x="217" y="246" width="226" height="112.5"/></clipPath>
<radialGradient id="dot"><stop offset="0" stop-color="#fff" stop-opacity="0.9"/><stop offset="0.3" stop-color="#fff" stop-opacity="0.72"/><stop offset="0.65" stop-color="#fff" stop-opacity="0.3"/><stop offset="1" stop-color="#fff" stop-opacity="0"/></radialGradient>
<radialGradient id="dot2"><stop offset="0" stop-color="#fff" stop-opacity="0.3"/><stop offset="1" stop-color="#fff" stop-opacity="0"/></radialGradient><radialGradient id="dot3"><stop offset="0" stop-color="#fff" stop-opacity="0.22"/><stop offset="1" stop-color="#fff" stop-opacity="0"/></radialGradient>
<pattern id="lat" x="221.6" y="244.7" width="9.67" height="9.53" patternUnits="userSpaceOnUse">
 <ellipse cx="4.83" cy="4.76" rx="5.0" ry="4.9" fill="url(#dot)"/>
 <ellipse cx="0" cy="4.76" rx="3.2" ry="3.4" fill="url(#dot2)"/>
 <ellipse cx="9.67" cy="4.76" rx="3.2" ry="3.4" fill="url(#dot2)"/>
 <ellipse cx="4.83" cy="0" rx="3.2" ry="3" fill="url(#dot3)"/>
 <ellipse cx="4.83" cy="9.53" rx="3.2" ry="3" fill="url(#dot3)"/>
</pattern>
<linearGradient id="dmask" x1="0" y1="0" x2="1" y2="0.25"><stop offset="0" stop-color="#b0b0b0"/><stop offset="0.45" stop-color="#a8a8a8"/><stop offset="0.75" stop-color="#f0f0f0"/><stop offset="1" stop-color="#fff"/></linearGradient>
<mask id="dm"><rect x="217" y="246" width="226" height="113" fill="url(#dmask)"/></mask>
<radialGradient id="wash1" cx="0" cy="0.35" r="0.3" gradientTransform="translate(0,0.35) scale(1,2) translate(0,-0.35)"><stop offset="0" stop-color="#8a8a8a" stop-opacity="0.7"/><stop offset="1" stop-color="#8a8a8a" stop-opacity="0"/></radialGradient>
<radialGradient id="wash2" cx="1" cy="0" r="0.5" gradientTransform="translate(1,0) scale(1,1.6) translate(-1,0)"><stop offset="0" stop-color="#8a8a8a" stop-opacity="0.85"/><stop offset="0.5" stop-color="#8a8a8a" stop-opacity="0.45"/><stop offset="1" stop-color="#8a8a8a" stop-opacity="0"/></radialGradient>
</defs>
<g clip-path="url(#cd)">
<rect x="217" y="246" width="226" height="113" fill="#0c0c0c"/>
<rect x="217" y="246" width="226" height="113" fill="url(#lat)" mask="url(#dm)"/>
<rect x="217" y="246" width="226" height="113" fill="url(#wash1)"/>
<rect x="217" y="246" width="226" height="113" fill="url(#wash2)"/>
</g>
<circle cx="337.6" cy="273.5" r="1.75" fill="#5f9a90" stroke="#3d6a62" stroke-width="0.4"/><circle cx="337.6" cy="273.5" r="0.55" fill="#c87a40"/><circle cx="337.6" cy="283.03" r="1.75" fill="#5f9a90" stroke="#3d6a62" stroke-width="0.4"/><circle cx="337.6" cy="283.03" r="0.55" fill="#c87a40"/><circle cx="337.6" cy="292.56" r="1.75" fill="#5f9a90" stroke="#3d6a62" stroke-width="0.4"/><circle cx="337.6" cy="292.56" r="0.55" fill="#c87a40"/><circle cx="337.6" cy="302.09" r="1.75" fill="#5f9a90" stroke="#3d6a62" stroke-width="0.4"/><circle cx="337.6" cy="302.09" r="0.55" fill="#c87a40"/><circle cx="347.27" cy="273.5" r="1.75" fill="#5f9a90" stroke="#3d6a62" stroke-width="0.4"/><circle cx="347.27" cy="273.5" r="0.55" fill="#c87a40"/><circle cx="347.27" cy="283.03" r="1.75" fill="#5f9a90" stroke="#3d6a62" stroke-width="0.4"/><circle cx="347.27" cy="283.03" r="0.55" fill="#c87a40"/><circle cx="347.27" cy="292.56" r="1.75" fill="#5f9a90" stroke="#3d6a62" stroke-width="0.4"/><circle cx="347.27" cy="292.56" r="0.55" fill="#c87a40"/><circle cx="347.27" cy="302.09" r="1.75" fill="#5f9a90" stroke="#3d6a62" stroke-width="0.4"/><circle cx="347.27" cy="302.09" r="0.55" fill="#c87a40"/><circle cx="356.94" cy="273.5" r="1.75" fill="#5f9a90" stroke="#3d6a62" stroke-width="0.4"/><circle cx="356.94" cy="273.5" r="0.55" fill="#c87a40"/><circle cx="356.94" cy="283.03" r="1.75" fill="#5f9a90" stroke="#3d6a62" stroke-width="0.4"/><circle cx="356.94" cy="283.03" r="0.55" fill="#c87a40"/><circle cx="356.94" cy="292.56" r="1.75" fill="#5f9a90" stroke="#3d6a62" stroke-width="0.4"/><circle cx="356.94" cy="292.56" r="0.55" fill="#c87a40"/><circle cx="356.94" cy="302.09" r="1.75" fill="#5f9a90" stroke="#3d6a62" stroke-width="0.4"/><circle cx="356.94" cy="302.09" r="0.55" fill="#c87a40"/><circle cx="366.61" cy="273.5" r="1.75" fill="#5f9a90" stroke="#3d6a62" stroke-width="0.4"/><circle cx="366.61" cy="273.5" r="0.55" fill="#c87a40"/><circle cx="366.61" cy="283.03" r="1.75" fill="#5f9a90" stroke="#3d6a62" stroke-width="0.4"/><circle cx="366.61" cy="283.03" r="0.55" fill="#c87a40"/><circle cx="366.61" cy="292.56" r="1.75" fill="#5f9a90" stroke="#3d6a62" stroke-width="0.4"/><circle cx="366.61" cy="292.56" r="0.55" fill="#c87a40"/><circle cx="366.61" cy="302.09" r="1.75" fill="#5f9a90" stroke="#3d6a62" stroke-width="0.4"/><circle cx="366.61" cy="302.09" r="0.55" fill="#c87a40"/><circle cx="332.76" cy="273.5" r="0.7" fill="#e0804a"/><circle cx="332.76" cy="283.03" r="0.7" fill="#e0804a"/><circle cx="332.76" cy="292.56" r="0.7" fill="#e0804a"/><circle cx="332.76" cy="302.09" r="0.7" fill="#e0804a"/><circle cx="342.43" cy="273.5" r="0.7" fill="#e0804a"/><circle cx="342.43" cy="283.03" r="0.7" fill="#e0804a"/><circle cx="342.43" cy="292.56" r="0.7" fill="#e0804a"/><circle cx="342.43" cy="302.09" r="0.7" fill="#e0804a"/><circle cx="352.1" cy="273.5" r="0.7" fill="#e0804a"/><circle cx="352.1" cy="283.03" r="0.7" fill="#e0804a"/><circle cx="352.1" cy="292.56" r="0.7" fill="#e0804a"/><circle cx="352.1" cy="302.09" r="0.7" fill="#e0804a"/><circle cx="361.77" cy="273.5" r="0.7" fill="#e0804a"/><circle cx="361.77" cy="283.03" r="0.7" fill="#e0804a"/><circle cx="361.77" cy="292.56" r="0.7" fill="#e0804a"/><circle cx="361.77" cy="302.09" r="0.7" fill="#e0804a"/><circle cx="371.44" cy="273.5" r="0.7" fill="#e0804a"/><circle cx="371.44" cy="283.03" r="0.7" fill="#e0804a"/><circle cx="371.44" cy="292.56" r="0.7" fill="#e0804a"/><circle cx="371.44" cy="302.09" r="0.7" fill="#e0804a"/><circle cx="337.6" cy="268.74" r="0.7" fill="#e0804a"/><circle cx="337.6" cy="278.27" r="0.7" fill="#e0804a"/><circle cx="337.6" cy="287.8" r="0.7" fill="#e0804a"/><circle cx="337.6" cy="297.33" r="0.7" fill="#e0804a"/><circle cx="337.6" cy="306.86" r="0.7" fill="#e0804a"/><circle cx="347.27" cy="268.74" r="0.7" fill="#e0804a"/><circle cx="347.27" cy="278.27" r="0.7" fill="#e0804a"/><circle cx="347.27" cy="287.8" r="0.7" fill="#e0804a"/><circle cx="347.27" cy="297.33" r="0.7" fill="#e0804a"/><circle cx="347.27" cy="306.86" r="0.7" fill="#e0804a"/><circle cx="356.94" cy="268.74" r="0.7" fill="#e0804a"/><circle cx="356.94" cy="278.27" r="0.7" fill="#e0804a"/><circle cx="356.94" cy="287.8" r="0.7" fill="#e0804a"/><circle cx="356.94" cy="297.33" r="0.7" fill="#e0804a"/><circle cx="356.94" cy="306.86" r="0.7" fill="#e0804a"/><circle cx="366.61" cy="268.74" r="0.7" fill="#e0804a"/><circle cx="366.61" cy="278.27" r="0.7" fill="#e0804a"/><circle cx="366.61" cy="287.8" r="0.7" fill="#e0804a"/><circle cx="366.61" cy="297.33" r="0.7" fill="#e0804a"/><circle cx="366.61" cy="306.86" r="0.7" fill="#e0804a"/><circle cx="342.4" cy="278.3" r="1.15" fill="#fff"/><circle cx="342.4" cy="287.83" r="1.15" fill="#fff"/><circle cx="342.4" cy="297.36" r="1.15" fill="#fff"/><circle cx="352.07" cy="278.3" r="1.15" fill="#fff"/><circle cx="352.07" cy="287.83" r="1.15" fill="#fff"/><circle cx="352.07" cy="297.36" r="1.15" fill="#fff"/><circle cx="361.74" cy="278.3" r="1.15" fill="#fff"/><circle cx="361.74" cy="287.83" r="1.15" fill="#fff"/><circle cx="361.74" cy="297.36" r="1.15" fill="#fff"/>
<text x="225.5" y="266" font-size="17" fill="#111">d</text>
<text x="225.3" y="346.8" font-size="14.2" fill="#fff">[001]</text>
<text x="400.5" y="339.3" font-size="14.2" fill="#fff">1 nm</text>
<rect x="402.4" y="346.8" width="28" height="4.8" fill="#000" stroke="#fff" stroke-width="0.9"/>


<defs>
<clipPath id="ce"><rect x="217" y="362" width="226" height="113"/></clipPath><filter id="eb" x="-20%" y="-50%" width="140%" height="200%"><feGaussianBlur stdDeviation="3 0.8"/></filter>
<linearGradient id="egL" gradientUnits="userSpaceOnUse" x1="0" y1="362" x2="0" y2="475"><stop offset="0.0000" stop-color="#c7c7c7"/><stop offset="0.0044" stop-color="#bdbdbd"/><stop offset="0.0088" stop-color="#a6a6a6"/><stop offset="0.0133" stop-color="#828282"/><stop offset="0.0177" stop-color="#5c5c5c"/><stop offset="0.0221" stop-color="#4c4c4c"/><stop offset="0.0265" stop-color="#5c5c5c"/><stop offset="0.0310" stop-color="#828282"/><stop offset="0.0354" stop-color="#a6a6a6"/><stop offset="0.0398" stop-color="#bdbdbd"/><stop offset="0.0442" stop-color="#c7c7c7"/><stop offset="0.0487" stop-color="#cacaca"/><stop offset="0.0531" stop-color="#c9c9c9"/><stop offset="0.0575" stop-color="#c5c5c5"/><stop offset="0.0619" stop-color="#bbbbbb"/><stop offset="0.0664" stop-color="#aaaaaa"/><stop offset="0.0708" stop-color="#999999"/><stop offset="0.0752" stop-color="#929292"/><stop offset="0.0796" stop-color="#999999"/><stop offset="0.0841" stop-color="#aaaaaa"/><stop offset="0.0885" stop-color="#bbbbbb"/><stop offset="0.0929" stop-color="#c4c4c4"/><stop offset="0.0973" stop-color="#c6c6c6"/><stop offset="0.1018" stop-color="#bdbdbd"/><stop offset="0.1062" stop-color="#a6a6a6"/><stop offset="0.1106" stop-color="#828282"/><stop offset="0.1150" stop-color="#5c5c5c"/><stop offset="0.1195" stop-color="#4c4c4c"/><stop offset="0.1239" stop-color="#5c5c5c"/><stop offset="0.1283" stop-color="#828282"/><stop offset="0.1327" stop-color="#a6a6a6"/><stop offset="0.1372" stop-color="#bdbdbd"/><stop offset="0.1416" stop-color="#c4c4c4"/><stop offset="0.1460" stop-color="#c1c1c1"/><stop offset="0.1504" stop-color="#b6b6b6"/><stop offset="0.1549" stop-color="#a6a6a6"/><stop offset="0.1593" stop-color="#9b9b9b"/><stop offset="0.1637" stop-color="#a0a0a0"/><stop offset="0.1681" stop-color="#b4b4b4"/><stop offset="0.1726" stop-color="#cdcdcd"/><stop offset="0.1770" stop-color="#dedede"/><stop offset="0.1814" stop-color="#e3e3e3"/><stop offset="0.1858" stop-color="#dddddd"/><stop offset="0.1903" stop-color="#d1d1d1"/><stop offset="0.1947" stop-color="#bcbcbc"/><stop offset="0.1991" stop-color="#9c9c9c"/><stop offset="0.2035" stop-color="#737373"/><stop offset="0.2080" stop-color="#525252"/><stop offset="0.2124" stop-color="#4f4f4f"/><stop offset="0.2168" stop-color="#6a6a6a"/><stop offset="0.2212" stop-color="#929292"/><stop offset="0.2257" stop-color="#b1b1b1"/><stop offset="0.2301" stop-color="#c1c1c1"/><stop offset="0.2345" stop-color="#c3c3c3"/><stop offset="0.2389" stop-color="#bbbbbb"/><stop offset="0.2434" stop-color="#acacac"/><stop offset="0.2478" stop-color="#9d9d9d"/><stop offset="0.2522" stop-color="#989898"/><stop offset="0.2566" stop-color="#a4a4a4"/><stop offset="0.2611" stop-color="#b7b7b7"/><stop offset="0.2655" stop-color="#c5c5c5"/><stop offset="0.2699" stop-color="#c3c3c3"/><stop offset="0.2743" stop-color="#adadad"/><stop offset="0.2788" stop-color="#888888"/><stop offset="0.2832" stop-color="#666666"/><stop offset="0.2876" stop-color="#5b5b5b"/><stop offset="0.2920" stop-color="#6e6e6e"/><stop offset="0.2965" stop-color="#909090"/><stop offset="0.3009" stop-color="#adadad"/><stop offset="0.3053" stop-color="#b9b9b9"/><stop offset="0.3097" stop-color="#b5b5b5"/><stop offset="0.3142" stop-color="#a6a6a6"/><stop offset="0.3186" stop-color="#979797"/><stop offset="0.3230" stop-color="#929292"/><stop offset="0.3274" stop-color="#9c9c9c"/><stop offset="0.3319" stop-color="#acacac"/><stop offset="0.3363" stop-color="#b7b7b7"/><stop offset="0.3407" stop-color="#b3b3b3"/><stop offset="0.3451" stop-color="#9d9d9d"/><stop offset="0.3496" stop-color="#7a7a7a"/><stop offset="0.3540" stop-color="#5e5e5e"/><stop offset="0.3584" stop-color="#5b5b5b"/><stop offset="0.3628" stop-color="#747474"/><stop offset="0.3673" stop-color="#979797"/><stop offset="0.3717" stop-color="#b2b2b2"/><stop offset="0.3761" stop-color="#bcbcbc"/><stop offset="0.3805" stop-color="#b6b6b6"/><stop offset="0.3850" stop-color="#a6a6a6"/><stop offset="0.3894" stop-color="#979797"/><stop offset="0.3938" stop-color="#929292"/><stop offset="0.3982" stop-color="#9c9c9c"/><stop offset="0.4027" stop-color="#acacac"/><stop offset="0.4071" stop-color="#b5b5b5"/><stop offset="0.4115" stop-color="#afafaf"/><stop offset="0.4159" stop-color="#969696"/><stop offset="0.4204" stop-color="#747474"/><stop offset="0.4248" stop-color="#5b5b5b"/><stop offset="0.4292" stop-color="#5e5e5e"/><stop offset="0.4336" stop-color="#797979"/><stop offset="0.4381" stop-color="#999999"/><stop offset="0.4425" stop-color="#aaaaaa"/><stop offset="0.4469" stop-color="#a8a8a8"/><stop offset="0.4513" stop-color="#9b9b9b"/><stop offset="0.4558" stop-color="#929292"/><stop offset="0.4602" stop-color="#979797"/><stop offset="0.4646" stop-color="#a6a6a6"/><stop offset="0.4690" stop-color="#b5b5b5"/><stop offset="0.4735" stop-color="#b9b9b9"/><stop offset="0.4779" stop-color="#adadad"/><stop offset="0.4823" stop-color="#909090"/><stop offset="0.4867" stop-color="#6d6d6d"/><stop offset="0.4912" stop-color="#595959"/><stop offset="0.4956" stop-color="#626262"/><stop offset="0.5000" stop-color="#818181"/><stop offset="0.5044" stop-color="#a2a2a2"/><stop offset="0.5088" stop-color="#b6b6b6"/><stop offset="0.5133" stop-color="#b7b7b7"/><stop offset="0.5177" stop-color="#b0b0b0"/><stop offset="0.5221" stop-color="#a1a1a1"/><stop offset="0.5265" stop-color="#909090"/><stop offset="0.5310" stop-color="#828282"/><stop offset="0.5354" stop-color="#7c7c7c"/><stop offset="0.5398" stop-color="#818181"/><stop offset="0.5442" stop-color="#8d8d8d"/><stop offset="0.5487" stop-color="#9b9b9b"/><stop offset="0.5531" stop-color="#a4a4a4"/><stop offset="0.5575" stop-color="#a1a1a1"/><stop offset="0.5619" stop-color="#919191"/><stop offset="0.5664" stop-color="#767676"/><stop offset="0.5708" stop-color="#595959"/><stop offset="0.5752" stop-color="#434343"/><stop offset="0.5796" stop-color="#3e3e3e"/><stop offset="0.5841" stop-color="#4b4b4b"/><stop offset="0.5885" stop-color="#666666"/><stop offset="0.5929" stop-color="#858585"/><stop offset="0.5973" stop-color="#a2a2a2"/><stop offset="0.6018" stop-color="#b6b6b6"/><stop offset="0.6062" stop-color="#c2c2c2"/><stop offset="0.6106" stop-color="#c7c7c7"/><stop offset="0.6150" stop-color="#cacaca"/><stop offset="0.6195" stop-color="#cacaca"/><stop offset="0.6239" stop-color="#c8c8c8"/><stop offset="0.6283" stop-color="#c2c2c2"/><stop offset="0.6327" stop-color="#b7b7b7"/><stop offset="0.6372" stop-color="#a2a2a2"/><stop offset="0.6416" stop-color="#858585"/><stop offset="0.6460" stop-color="#616161"/><stop offset="0.6504" stop-color="#414141"/><stop offset="0.6549" stop-color="#2f2f2f"/><stop offset="0.6593" stop-color="#313131"/><stop offset="0.6637" stop-color="#474747"/><stop offset="0.6681" stop-color="#696969"/><stop offset="0.6726" stop-color="#8b8b8b"/><stop offset="0.6770" stop-color="#a8a8a8"/><stop offset="0.6814" stop-color="#bcbcbc"/><stop offset="0.6858" stop-color="#c8c8c8"/><stop offset="0.6903" stop-color="#d0d0d0"/><stop offset="0.6947" stop-color="#d4d4d4"/><stop offset="0.6991" stop-color="#d5d5d5"/><stop offset="0.7035" stop-color="#d5d5d5"/><stop offset="0.7080" stop-color="#d2d2d2"/><stop offset="0.7124" stop-color="#cecece"/><stop offset="0.7168" stop-color="#c9c9c9"/><stop offset="0.7212" stop-color="#c0c0c0"/><stop offset="0.7257" stop-color="#b0b0b0"/><stop offset="0.7301" stop-color="#969696"/><stop offset="0.7345" stop-color="#727272"/><stop offset="0.7389" stop-color="#494949"/><stop offset="0.7434" stop-color="#272727"/><stop offset="0.7478" stop-color="#161616"/><stop offset="0.7522" stop-color="#1e1e1e"/><stop offset="0.7566" stop-color="#3a3a3a"/><stop offset="0.7611" stop-color="#626262"/><stop offset="0.7655" stop-color="#898989"/><stop offset="0.7699" stop-color="#a7a7a7"/><stop offset="0.7743" stop-color="#bababa"/><stop offset="0.7788" stop-color="#c4c4c4"/><stop offset="0.7832" stop-color="#c9c9c9"/><stop offset="0.7876" stop-color="#cbcbcb"/><stop offset="0.7920" stop-color="#cbcbcb"/><stop offset="0.7965" stop-color="#cbcbcb"/><stop offset="0.8009" stop-color="#cbcbcb"/><stop offset="0.8053" stop-color="#cacaca"/><stop offset="0.8097" stop-color="#c6c6c6"/><stop offset="0.8142" stop-color="#bebebe"/><stop offset="0.8186" stop-color="#b0b0b0"/><stop offset="0.8230" stop-color="#979797"/><stop offset="0.8274" stop-color="#777777"/><stop offset="0.8319" stop-color="#545454"/><stop offset="0.8363" stop-color="#383838"/><stop offset="0.8407" stop-color="#2d2d2d"/><stop offset="0.8451" stop-color="#383838"/><stop offset="0.8496" stop-color="#545454"/><stop offset="0.8540" stop-color="#777777"/><stop offset="0.8584" stop-color="#979797"/><stop offset="0.8628" stop-color="#b0b0b0"/><stop offset="0.8673" stop-color="#bebebe"/><stop offset="0.8717" stop-color="#c6c6c6"/><stop offset="0.8761" stop-color="#cacaca"/><stop offset="0.8805" stop-color="#cbcbcb"/><stop offset="0.8850" stop-color="#cbcbcb"/><stop offset="0.8894" stop-color="#c9c9c9"/><stop offset="0.8938" stop-color="#c5c5c5"/><stop offset="0.8982" stop-color="#bcbcbc"/><stop offset="0.9027" stop-color="#ababab"/><stop offset="0.9071" stop-color="#919191"/><stop offset="0.9115" stop-color="#707070"/><stop offset="0.9159" stop-color="#4d4d4d"/><stop offset="0.9204" stop-color="#343434"/><stop offset="0.9248" stop-color="#2e2e2e"/><stop offset="0.9292" stop-color="#3c3c3c"/><stop offset="0.9336" stop-color="#5a5a5a"/><stop offset="0.9381" stop-color="#7e7e7e"/><stop offset="0.9425" stop-color="#9d9d9d"/><stop offset="0.9469" stop-color="#b3b3b3"/><stop offset="0.9513" stop-color="#c0c0c0"/><stop offset="0.9558" stop-color="#c7c7c7"/><stop offset="0.9602" stop-color="#cacaca"/><stop offset="0.9646" stop-color="#cbcbcb"/><stop offset="0.9690" stop-color="#cacaca"/><stop offset="0.9735" stop-color="#c7c7c7"/><stop offset="0.9779" stop-color="#c0c0c0"/><stop offset="0.9823" stop-color="#b2b2b2"/><stop offset="0.9867" stop-color="#9d9d9d"/><stop offset="0.9912" stop-color="#7f7f7f"/><stop offset="0.9956" stop-color="#606060"/><stop offset="1.0000" stop-color="#474747"/></linearGradient><linearGradient id="egR" gradientUnits="userSpaceOnUse" x1="0" y1="362" x2="0" y2="475"><stop offset="0.0000" stop-color="#a0a0a0"/><stop offset="0.0044" stop-color="#9a9a9a"/><stop offset="0.0088" stop-color="#8c8c8c"/><stop offset="0.0133" stop-color="#777777"/><stop offset="0.0177" stop-color="#606060"/><stop offset="0.0221" stop-color="#565656"/><stop offset="0.0265" stop-color="#606060"/><stop offset="0.0310" stop-color="#777777"/><stop offset="0.0354" stop-color="#8c8c8c"/><stop offset="0.0398" stop-color="#9a9a9a"/><stop offset="0.0442" stop-color="#a0a0a0"/><stop offset="0.0487" stop-color="#a2a2a2"/><stop offset="0.0531" stop-color="#a1a1a1"/><stop offset="0.0575" stop-color="#9f9f9f"/><stop offset="0.0619" stop-color="#999999"/><stop offset="0.0664" stop-color="#8f8f8f"/><stop offset="0.0708" stop-color="#858585"/><stop offset="0.0752" stop-color="#808080"/><stop offset="0.0796" stop-color="#858585"/><stop offset="0.0841" stop-color="#8f8f8f"/><stop offset="0.0885" stop-color="#999999"/><stop offset="0.0929" stop-color="#9e9e9e"/><stop offset="0.0973" stop-color="#9f9f9f"/><stop offset="0.1018" stop-color="#9a9a9a"/><stop offset="0.1062" stop-color="#8c8c8c"/><stop offset="0.1106" stop-color="#777777"/><stop offset="0.1150" stop-color="#606060"/><stop offset="0.1195" stop-color="#565656"/><stop offset="0.1239" stop-color="#606060"/><stop offset="0.1283" stop-color="#767676"/><stop offset="0.1327" stop-color="#8c8c8c"/><stop offset="0.1372" stop-color="#9a9a9a"/><stop offset="0.1416" stop-color="#9f9f9f"/><stop offset="0.1460" stop-color="#9d9d9d"/><stop offset="0.1504" stop-color="#989898"/><stop offset="0.1549" stop-color="#929292"/><stop offset="0.1593" stop-color="#929292"/><stop offset="0.1637" stop-color="#9b9b9b"/><stop offset="0.1681" stop-color="#ababab"/><stop offset="0.1726" stop-color="#b9b9b9"/><stop offset="0.1770" stop-color="#bebebe"/><stop offset="0.1814" stop-color="#bababa"/><stop offset="0.1858" stop-color="#b1b1b1"/><stop offset="0.1903" stop-color="#a6a6a6"/><stop offset="0.1947" stop-color="#999999"/><stop offset="0.1991" stop-color="#868686"/><stop offset="0.2035" stop-color="#6d6d6d"/><stop offset="0.2080" stop-color="#5a5a5a"/><stop offset="0.2124" stop-color="#585858"/><stop offset="0.2168" stop-color="#686868"/><stop offset="0.2212" stop-color="#808080"/><stop offset="0.2257" stop-color="#939393"/><stop offset="0.2301" stop-color="#9c9c9c"/><stop offset="0.2345" stop-color="#9e9e9e"/><stop offset="0.2389" stop-color="#9a9a9a"/><stop offset="0.2434" stop-color="#929292"/><stop offset="0.2478" stop-color="#8b8b8b"/><stop offset="0.2522" stop-color="#8a8a8a"/><stop offset="0.2566" stop-color="#919191"/><stop offset="0.2611" stop-color="#9b9b9b"/><stop offset="0.2655" stop-color="#a0a0a0"/><stop offset="0.2699" stop-color="#9d9d9d"/><stop offset="0.2743" stop-color="#8e8e8e"/><stop offset="0.2788" stop-color="#787878"/><stop offset="0.2832" stop-color="#646464"/><stop offset="0.2876" stop-color="#5e5e5e"/><stop offset="0.2920" stop-color="#6a6a6a"/><stop offset="0.2965" stop-color="#7f7f7f"/><stop offset="0.3009" stop-color="#909090"/><stop offset="0.3053" stop-color="#989898"/><stop offset="0.3097" stop-color="#959595"/><stop offset="0.3142" stop-color="#8c8c8c"/><stop offset="0.3186" stop-color="#838383"/><stop offset="0.3230" stop-color="#808080"/><stop offset="0.3274" stop-color="#868686"/><stop offset="0.3319" stop-color="#909090"/><stop offset="0.3363" stop-color="#969696"/><stop offset="0.3407" stop-color="#949494"/><stop offset="0.3451" stop-color="#878787"/><stop offset="0.3496" stop-color="#727272"/><stop offset="0.3540" stop-color="#616161"/><stop offset="0.3584" stop-color="#5f5f5f"/><stop offset="0.3628" stop-color="#6e6e6e"/><stop offset="0.3673" stop-color="#838383"/><stop offset="0.3717" stop-color="#939393"/><stop offset="0.3761" stop-color="#999999"/><stop offset="0.3805" stop-color="#969696"/><stop offset="0.3850" stop-color="#8c8c8c"/><stop offset="0.3894" stop-color="#838383"/><stop offset="0.3938" stop-color="#808080"/><stop offset="0.3982" stop-color="#868686"/><stop offset="0.4027" stop-color="#909090"/><stop offset="0.4071" stop-color="#959595"/><stop offset="0.4115" stop-color="#929292"/><stop offset="0.4159" stop-color="#838383"/><stop offset="0.4204" stop-color="#6e6e6e"/><stop offset="0.4248" stop-color="#5f5f5f"/><stop offset="0.4292" stop-color="#616161"/><stop offset="0.4336" stop-color="#717171"/><stop offset="0.4381" stop-color="#848484"/><stop offset="0.4425" stop-color="#8f8f8f"/><stop offset="0.4469" stop-color="#8d8d8d"/><stop offset="0.4513" stop-color="#868686"/><stop offset="0.4558" stop-color="#808080"/><stop offset="0.4602" stop-color="#838383"/><stop offset="0.4646" stop-color="#8c8c8c"/><stop offset="0.4690" stop-color="#959595"/><stop offset="0.4735" stop-color="#989898"/><stop offset="0.4779" stop-color="#909090"/><stop offset="0.4823" stop-color="#7f7f7f"/><stop offset="0.4867" stop-color="#6a6a6a"/><stop offset="0.4912" stop-color="#5e5e5e"/><stop offset="0.4956" stop-color="#636363"/><stop offset="0.5000" stop-color="#767676"/><stop offset="0.5044" stop-color="#8a8a8a"/><stop offset="0.5088" stop-color="#969696"/><stop offset="0.5133" stop-color="#919191"/><stop offset="0.5177" stop-color="#8a8a8a"/><stop offset="0.5221" stop-color="#7c7c7c"/><stop offset="0.5265" stop-color="#6d6d6d"/><stop offset="0.5310" stop-color="#606060"/><stop offset="0.5354" stop-color="#5b5b5b"/><stop offset="0.5398" stop-color="#5f5f5f"/><stop offset="0.5442" stop-color="#6a6a6a"/><stop offset="0.5487" stop-color="#767676"/><stop offset="0.5531" stop-color="#7d7d7d"/><stop offset="0.5575" stop-color="#7a7a7a"/><stop offset="0.5619" stop-color="#6c6c6c"/><stop offset="0.5664" stop-color="#545454"/><stop offset="0.5708" stop-color="#3a3a3a"/><stop offset="0.5752" stop-color="#262626"/><stop offset="0.5796" stop-color="#212121"/><stop offset="0.5841" stop-color="#2d2d2d"/><stop offset="0.5885" stop-color="#444444"/><stop offset="0.5929" stop-color="#606060"/><stop offset="0.5973" stop-color="#797979"/><stop offset="0.6018" stop-color="#8b8b8b"/><stop offset="0.6062" stop-color="#959595"/><stop offset="0.6106" stop-color="#9a9a9a"/><stop offset="0.6150" stop-color="#9c9c9c"/><stop offset="0.6195" stop-color="#9c9c9c"/><stop offset="0.6239" stop-color="#9a9a9a"/><stop offset="0.6283" stop-color="#949494"/><stop offset="0.6327" stop-color="#8a8a8a"/><stop offset="0.6372" stop-color="#787878"/><stop offset="0.6416" stop-color="#5d5d5d"/><stop offset="0.6460" stop-color="#3e3e3e"/><stop offset="0.6504" stop-color="#212121"/><stop offset="0.6549" stop-color="#111111"/><stop offset="0.6593" stop-color="#121212"/><stop offset="0.6637" stop-color="#252525"/><stop offset="0.6681" stop-color="#434343"/><stop offset="0.6726" stop-color="#616161"/><stop offset="0.6770" stop-color="#7a7a7a"/><stop offset="0.6814" stop-color="#8a8a8a"/><stop offset="0.6858" stop-color="#939393"/><stop offset="0.6903" stop-color="#979797"/><stop offset="0.6947" stop-color="#989898"/><stop offset="0.6991" stop-color="#999999"/><stop offset="0.7035" stop-color="#999999"/><stop offset="0.7080" stop-color="#989898"/><stop offset="0.7124" stop-color="#979797"/><stop offset="0.7168" stop-color="#949494"/><stop offset="0.7212" stop-color="#8d8d8d"/><stop offset="0.7257" stop-color="#7f7f7f"/><stop offset="0.7301" stop-color="#686868"/><stop offset="0.7345" stop-color="#484848"/><stop offset="0.7389" stop-color="#242424"/><stop offset="0.7434" stop-color="#050505"/><stop offset="0.7478" stop-color="#000000"/><stop offset="0.7522" stop-color="#000000"/><stop offset="0.7566" stop-color="#151515"/><stop offset="0.7611" stop-color="#383838"/><stop offset="0.7655" stop-color="#5a5a5a"/><stop offset="0.7699" stop-color="#757575"/><stop offset="0.7743" stop-color="#858585"/><stop offset="0.7788" stop-color="#8e8e8e"/><stop offset="0.7832" stop-color="#929292"/><stop offset="0.7876" stop-color="#949494"/><stop offset="0.7920" stop-color="#949494"/><stop offset="0.7965" stop-color="#949494"/><stop offset="0.8009" stop-color="#939393"/><stop offset="0.8053" stop-color="#929292"/><stop offset="0.8097" stop-color="#8e8e8e"/><stop offset="0.8142" stop-color="#878787"/><stop offset="0.8186" stop-color="#7a7a7a"/><stop offset="0.8230" stop-color="#646464"/><stop offset="0.8274" stop-color="#474747"/><stop offset="0.8319" stop-color="#282828"/><stop offset="0.8363" stop-color="#0f0f0f"/><stop offset="0.8407" stop-color="#050505"/><stop offset="0.8451" stop-color="#0e0e0e"/><stop offset="0.8496" stop-color="#272727"/><stop offset="0.8540" stop-color="#464646"/><stop offset="0.8584" stop-color="#626262"/><stop offset="0.8628" stop-color="#787878"/><stop offset="0.8673" stop-color="#858585"/><stop offset="0.8717" stop-color="#8b8b8b"/><stop offset="0.8761" stop-color="#8e8e8e"/><stop offset="0.8805" stop-color="#8f8f8f"/><stop offset="0.8850" stop-color="#8e8e8e"/><stop offset="0.8894" stop-color="#8d8d8d"/><stop offset="0.8938" stop-color="#898989"/><stop offset="0.8982" stop-color="#818181"/><stop offset="0.9027" stop-color="#727272"/><stop offset="0.9071" stop-color="#5a5a5a"/><stop offset="0.9115" stop-color="#3c3c3c"/><stop offset="0.9159" stop-color="#1e1e1e"/><stop offset="0.9204" stop-color="#070707"/><stop offset="0.9248" stop-color="#010101"/><stop offset="0.9292" stop-color="#0e0e0e"/><stop offset="0.9336" stop-color="#282828"/><stop offset="0.9381" stop-color="#474747"/><stop offset="0.9425" stop-color="#636363"/><stop offset="0.9469" stop-color="#767676"/><stop offset="0.9513" stop-color="#828282"/><stop offset="0.9558" stop-color="#888888"/><stop offset="0.9602" stop-color="#8a8a8a"/><stop offset="0.9646" stop-color="#8a8a8a"/><stop offset="0.9690" stop-color="#898989"/><stop offset="0.9735" stop-color="#868686"/><stop offset="0.9779" stop-color="#808080"/><stop offset="0.9823" stop-color="#747474"/><stop offset="0.9867" stop-color="#606060"/><stop offset="0.9912" stop-color="#464646"/><stop offset="0.9956" stop-color="#2a2a2a"/><stop offset="1.0000" stop-color="#131313"/></linearGradient>
<linearGradient id="emk" x1="0" y1="0" x2="1" y2="0"><stop offset="0.35" stop-color="#000"/><stop offset="0.6" stop-color="#fff"/></linearGradient>
<mask id="em"><rect x="217" y="362" width="226" height="113" fill="url(#emk)"/></mask>
<filter id="et" x="0" y="0" width="100%" height="100%"><feTurbulence type="fractalNoise" baseFrequency="0.03 0.3" numOctaves="2" seed="2"/><feColorMatrix type="matrix" values="0 0 0 0 0  0 0 0 0 0  0 0 0 0 0  1.2 0 0 0 -0.5"/></filter>
<filter id="etw" x="0" y="0" width="100%" height="100%"><feTurbulence type="fractalNoise" baseFrequency="0.03 0.3" numOctaves="2" seed="6"/><feColorMatrix type="matrix" values="0 0 0 0 1  0 0 0 0 1  0 0 0 0 1  1.2 0 0 0 -0.55"/></filter>
<radialGradient id="edk" cx="0.9" cy="0.95" r="0.4"><stop offset="0" stop-color="#000" stop-opacity="0.4"/><stop offset="1" stop-color="#000" stop-opacity="0"/></radialGradient>
</defs>
<g clip-path="url(#ce)">
<rect x="217" y="362" width="226" height="113" fill="url(#egL)"/>
<rect x="217" y="362" width="226" height="113" fill="url(#egR)" mask="url(#em)"/>
<rect x="217" y="362" width="226" height="113" filter="url(#et)" opacity="0.35"/>
<rect x="217" y="362" width="226" height="113" filter="url(#etw)" opacity="0.3"/>
<rect x="217" y="362" width="226" height="113" fill="url(#edk)"/>
<g filter="url(#eb)">
<ellipse cx="262" cy="382" rx="48" ry="1.6" fill="#fff" opacity="0.35"/>
<ellipse cx="250" cy="413" rx="35" ry="1.5" fill="#fff" opacity="0.25"/>
<ellipse cx="418" cy="398" rx="30" ry="2.2" fill="#000" opacity="0.3"/>
<ellipse cx="400" cy="375" rx="45" ry="1.8" fill="#000" opacity="0.25"/>
<ellipse cx="260" cy="446.6" rx="45" ry="2" fill="#000" opacity="0.3"/>
<ellipse cx="425" cy="457" rx="30" ry="2.4" fill="#000" opacity="0.35"/>
<ellipse cx="420" cy="467" rx="35" ry="2.6" fill="#000" opacity="0.35"/>
</g>
</g>
<text x="225" y="380.2" font-size="17" fill="#111">e</text>
<text x="224.8" y="464.3" font-size="14.2" fill="#fff">[010]</text>
<text x="398.5" y="454.7" font-size="14.2" fill="#fff">1 nm</text>
<rect x="407.6" y="461.5" width="18.8" height="4.5" fill="#000" stroke="#fff" stroke-width="0.9"/>
<circle cx="256.5" cy="400" r="1.2" fill="#5a9a90"/><circle cx="253.2" cy="400" r="0.7" fill="#e0804a"/><circle cx="253.2" cy="396.4" r="0.9" fill="#fff"/><circle cx="253.2" cy="403.6" r="0.9" fill="#fff"/><circle cx="256.5" cy="396.4" r="0.7" fill="#e0804a"/><circle cx="256.5" cy="403.6" r="0.7" fill="#e0804a"/><circle cx="256.5" cy="412.2" r="1.2" fill="#5a9a90"/><circle cx="253.2" cy="412.2" r="0.7" fill="#e0804a"/><circle cx="253.2" cy="408.6" r="0.9" fill="#fff"/><circle cx="253.2" cy="415.8" r="0.9" fill="#fff"/><circle cx="256.5" cy="408.6" r="0.7" fill="#e0804a"/><circle cx="256.5" cy="415.8" r="0.7" fill="#e0804a"/><circle cx="256.5" cy="424.4" r="1.2" fill="#5a9a90"/><circle cx="253.2" cy="424.4" r="0.7" fill="#e0804a"/><circle cx="253.2" cy="420.8" r="0.9" fill="#fff"/><circle cx="253.2" cy="428" r="0.9" fill="#fff"/><circle cx="256.5" cy="420.8" r="0.7" fill="#e0804a"/><circle cx="256.5" cy="428" r="0.7" fill="#e0804a"/><circle cx="263.1" cy="400" r="1.2" fill="#5a9a90"/><circle cx="259.8" cy="400" r="0.7" fill="#e0804a"/><circle cx="259.8" cy="396.4" r="0.9" fill="#fff"/><circle cx="259.8" cy="403.6" r="0.9" fill="#fff"/><circle cx="263.1" cy="396.4" r="0.7" fill="#e0804a"/><circle cx="263.1" cy="403.6" r="0.7" fill="#e0804a"/><circle cx="263.1" cy="412.2" r="1.2" fill="#5a9a90"/><circle cx="259.8" cy="412.2" r="0.7" fill="#e0804a"/><circle cx="259.8" cy="408.6" r="0.9" fill="#fff"/><circle cx="259.8" cy="415.8" r="0.9" fill="#fff"/><circle cx="263.1" cy="408.6" r="0.7" fill="#e0804a"/><circle cx="263.1" cy="415.8" r="0.7" fill="#e0804a"/><circle cx="263.1" cy="424.4" r="1.2" fill="#5a9a90"/><circle cx="259.8" cy="424.4" r="0.7" fill="#e0804a"/><circle cx="259.8" cy="420.8" r="0.9" fill="#fff"/><circle cx="259.8" cy="428" r="0.9" fill="#fff"/><circle cx="263.1" cy="420.8" r="0.7" fill="#e0804a"/><circle cx="263.1" cy="428" r="0.7" fill="#e0804a"/><circle cx="269.7" cy="400" r="1.2" fill="#5a9a90"/><circle cx="266.4" cy="400" r="0.7" fill="#e0804a"/><circle cx="266.4" cy="396.4" r="0.9" fill="#fff"/><circle cx="266.4" cy="403.6" r="0.9" fill="#fff"/><circle cx="269.7" cy="396.4" r="0.7" fill="#e0804a"/><circle cx="269.7" cy="403.6" r="0.7" fill="#e0804a"/><circle cx="269.7" cy="412.2" r="1.2" fill="#5a9a90"/><circle cx="266.4" cy="412.2" r="0.7" fill="#e0804a"/><circle cx="266.4" cy="408.6" r="0.9" fill="#fff"/><circle cx="266.4" cy="415.8" r="0.9" fill="#fff"/><circle cx="269.7" cy="408.6" r="0.7" fill="#e0804a"/><circle cx="269.7" cy="415.8" r="0.7" fill="#e0804a"/><circle cx="269.7" cy="424.4" r="1.2" fill="#5a9a90"/><circle cx="266.4" cy="424.4" r="0.7" fill="#e0804a"/><circle cx="266.4" cy="420.8" r="0.9" fill="#fff"/><circle cx="266.4" cy="428" r="0.9" fill="#fff"/><circle cx="269.7" cy="420.8" r="0.7" fill="#e0804a"/><circle cx="269.7" cy="428" r="0.7" fill="#e0804a"/><circle cx="276.3" cy="400" r="1.2" fill="#5a9a90"/><circle cx="273" cy="400" r="0.7" fill="#e0804a"/><circle cx="273" cy="396.4" r="0.9" fill="#fff"/><circle cx="273" cy="403.6" r="0.9" fill="#fff"/><circle cx="276.3" cy="396.4" r="0.7" fill="#e0804a"/><circle cx="276.3" cy="403.6" r="0.7" fill="#e0804a"/><circle cx="276.3" cy="412.2" r="1.2" fill="#5a9a90"/><circle cx="273" cy="412.2" r="0.7" fill="#e0804a"/><circle cx="273" cy="408.6" r="0.9" fill="#fff"/><circle cx="273" cy="415.8" r="0.9" fill="#fff"/><circle cx="276.3" cy="408.6" r="0.7" fill="#e0804a"/><circle cx="276.3" cy="415.8" r="0.7" fill="#e0804a"/><circle cx="276.3" cy="424.4" r="1.2" fill="#5a9a90"/><circle cx="273" cy="424.4" r="0.7" fill="#e0804a"/><circle cx="273" cy="420.8" r="0.9" fill="#fff"/><circle cx="273" cy="428" r="0.9" fill="#fff"/><circle cx="276.3" cy="420.8" r="0.7" fill="#e0804a"/><circle cx="276.3" cy="428" r="0.7" fill="#e0804a"/>

<defs>
<clipPath id="cf"><rect x="447" y="245.5" width="236" height="228.5"/></clipPath>
<filter id="speck" x="0" y="0" width="100%" height="100%"><feTurbulence type="fractalNoise" baseFrequency="1.1" numOctaves="1" seed="7"/><feColorMatrix type="matrix" values="0 0 0 0 0  0 0 0 0 0  0 0 0 0 0  -2.6 0 0 0 1.55"/></filter>
<filter id="fb"><feGaussianBlur stdDeviation="0.75"/></filter><filter id="fe" x="-10%" y="-10%" width="120%" height="120%"><feGaussianBlur stdDeviation="1.6"/></filter><filter id="fb0"><feGaussianBlur stdDeviation="0.55"/></filter>
</defs>
<g clip-path="url(#cf)">
<rect x="447" y="245" width="236" height="230" fill="#000"/>
<path d="M452,330 Q470,262 545,247" fill="none" stroke="#1c1c1c" stroke-width="1.2"/>
<g transform="translate(0,0)" fill="#ffffff" filter="url(#fb0)"><polygon points="469.7,256.1 478.8,257.6 484.8,261.4 493.9,272.7 503,283.3 507.6,290.2 506.8,298.5 500,306.1 490.9,316.7 486.4,318.9 480.3,316.7 471.2,306.1 462.1,293.9 454.5,282.6 456.1,275.8 460.6,266.7 465.2,259.1"/><polygon points="527.6,251.6 533.9,251.6 540.8,257.1 549.2,265.4 556.1,272.4 558.9,277.9 558.2,283.5 550.6,291.8 540.8,301.6 533.9,307.1 526.9,307.8 520,301.6 511.7,291.8 501.9,280.7 498.5,272.4 503.3,268.2 513.1,261.3 521.4,254.3"/></g>
<g transform="translate(113.7,0)" fill="#1ac8d4" filter="url(#fb)"><polygon points="469.7,256.1 478.8,257.6 484.8,261.4 493.9,272.7 503,283.3 507.6,290.2 506.8,298.5 500,306.1 490.9,316.7 486.4,318.9 480.3,316.7 471.2,306.1 462.1,293.9 454.5,282.6 456.1,275.8 460.6,266.7 465.2,259.1"/><polygon points="527.6,251.6 533.9,251.6 540.8,257.1 549.2,265.4 556.1,272.4 558.9,277.9 558.2,283.5 550.6,291.8 540.8,301.6 533.9,307.1 526.9,307.8 520,301.6 511.7,291.8 501.9,280.7 498.5,272.4 503.3,268.2 513.1,261.3 521.4,254.3"/></g>
<g transform="translate(113.7,0)" fill="none" stroke="#000" stroke-width="3.5" opacity="0.35" filter="url(#fe)"><polygon points="469.7,256.1 478.8,257.6 484.8,261.4 493.9,272.7 503,283.3 507.6,290.2 506.8,298.5 500,306.1 490.9,316.7 486.4,318.9 480.3,316.7 471.2,306.1 462.1,293.9 454.5,282.6 456.1,275.8 460.6,266.7 465.2,259.1"/><polygon points="527.6,251.6 533.9,251.6 540.8,257.1 549.2,265.4 556.1,272.4 558.9,277.9 558.2,283.5 550.6,291.8 540.8,301.6 533.9,307.1 526.9,307.8 520,301.6 511.7,291.8 501.9,280.7 498.5,272.4 503.3,268.2 513.1,261.3 521.4,254.3"/></g>
<rect x="562.7" y="245" width="116" height="74" filter="url(#speck)" opacity="0.45"/>
<g transform="translate(0,75.2)" fill="#d8d81c" filter="url(#fb)"><polygon points="469.7,256.1 478.8,257.6 484.8,261.4 493.9,272.7 503,283.3 507.6,290.2 506.8,298.5 500,306.1 490.9,316.7 486.4,318.9 480.3,316.7 471.2,306.1 462.1,293.9 454.5,282.6 456.1,275.8 460.6,266.7 465.2,259.1"/><polygon points="527.6,251.6 533.9,251.6 540.8,257.1 549.2,265.4 556.1,272.4 558.9,277.9 558.2,283.5 550.6,291.8 540.8,301.6 533.9,307.1 526.9,307.8 520,301.6 511.7,291.8 501.9,280.7 498.5,272.4 503.3,268.2 513.1,261.3 521.4,254.3"/></g>
<g transform="translate(0,75.2)" fill="none" stroke="#000" stroke-width="3.5" opacity="0.35" filter="url(#fe)"><polygon points="469.7,256.1 478.8,257.6 484.8,261.4 493.9,272.7 503,283.3 507.6,290.2 506.8,298.5 500,306.1 490.9,316.7 486.4,318.9 480.3,316.7 471.2,306.1 462.1,293.9 454.5,282.6 456.1,275.8 460.6,266.7 465.2,259.1"/><polygon points="527.6,251.6 533.9,251.6 540.8,257.1 549.2,265.4 556.1,272.4 558.9,277.9 558.2,283.5 550.6,291.8 540.8,301.6 533.9,307.1 526.9,307.8 520,301.6 511.7,291.8 501.9,280.7 498.5,272.4 503.3,268.2 513.1,261.3 521.4,254.3"/></g>
<rect x="447" y="321.2" width="116" height="74" filter="url(#speck)" opacity="0.35"/>
<g transform="translate(113.7,75.6)" fill="#e01276" filter="url(#fb)"><polygon points="469.7,256.1 478.8,257.6 484.8,261.4 493.9,272.7 503,283.3 507.6,290.2 506.8,298.5 500,306.1 490.9,316.7 486.4,318.9 480.3,316.7 471.2,306.1 462.1,293.9 454.5,282.6 456.1,275.8 460.6,266.7 465.2,259.1"/><polygon points="527.6,251.6 533.9,251.6 540.8,257.1 549.2,265.4 556.1,272.4 558.9,277.9 558.2,283.5 550.6,291.8 540.8,301.6 533.9,307.1 526.9,307.8 520,301.6 511.7,291.8 501.9,280.7 498.5,272.4 503.3,268.2 513.1,261.3 521.4,254.3"/></g>
<g transform="translate(113.7,75.6)" fill="none" stroke="#000" stroke-width="3.5" opacity="0.35" filter="url(#fe)"><polygon points="469.7,256.1 478.8,257.6 484.8,261.4 493.9,272.7 503,283.3 507.6,290.2 506.8,298.5 500,306.1 490.9,316.7 486.4,318.9 480.3,316.7 471.2,306.1 462.1,293.9 454.5,282.6 456.1,275.8 460.6,266.7 465.2,259.1"/><polygon points="527.6,251.6 533.9,251.6 540.8,257.1 549.2,265.4 556.1,272.4 558.9,277.9 558.2,283.5 550.6,291.8 540.8,301.6 533.9,307.1 526.9,307.8 520,301.6 511.7,291.8 501.9,280.7 498.5,272.4 503.3,268.2 513.1,261.3 521.4,254.3"/></g>
<rect x="562.7" y="321.6" width="116" height="74" filter="url(#speck)" opacity="0.4"/>
<g transform="translate(0,150.2)" fill="#5a5acd" filter="url(#fb)"><polygon points="469.7,256.1 478.8,257.6 484.8,261.4 493.9,272.7 503,283.3 507.6,290.2 506.8,298.5 500,306.1 490.9,316.7 486.4,318.9 480.3,316.7 471.2,306.1 462.1,293.9 454.5,282.6 456.1,275.8 460.6,266.7 465.2,259.1"/><polygon points="527.6,251.6 533.9,251.6 540.8,257.1 549.2,265.4 556.1,272.4 558.9,277.9 558.2,283.5 550.6,291.8 540.8,301.6 533.9,307.1 526.9,307.8 520,301.6 511.7,291.8 501.9,280.7 498.5,272.4 503.3,268.2 513.1,261.3 521.4,254.3"/></g>
<g transform="translate(0,150.2)" fill="none" stroke="#000" stroke-width="3.5" opacity="0.35" filter="url(#fe)"><polygon points="469.7,256.1 478.8,257.6 484.8,261.4 493.9,272.7 503,283.3 507.6,290.2 506.8,298.5 500,306.1 490.9,316.7 486.4,318.9 480.3,316.7 471.2,306.1 462.1,293.9 454.5,282.6 456.1,275.8 460.6,266.7 465.2,259.1"/><polygon points="527.6,251.6 533.9,251.6 540.8,257.1 549.2,265.4 556.1,272.4 558.9,277.9 558.2,283.5 550.6,291.8 540.8,301.6 533.9,307.1 526.9,307.8 520,301.6 511.7,291.8 501.9,280.7 498.5,272.4 503.3,268.2 513.1,261.3 521.4,254.3"/></g>
<rect x="447" y="396.2" width="116" height="74" filter="url(#speck)" opacity="0.6"/>
<g transform="translate(113.7,150.2)" fill="#ba3813" filter="url(#fb)"><polygon points="469.7,256.1 478.8,257.6 484.8,261.4 493.9,272.7 503,283.3 507.6,290.2 506.8,298.5 500,306.1 490.9,316.7 486.4,318.9 480.3,316.7 471.2,306.1 462.1,293.9 454.5,282.6 456.1,275.8 460.6,266.7 465.2,259.1"/><polygon points="527.6,251.6 533.9,251.6 540.8,257.1 549.2,265.4 556.1,272.4 558.9,277.9 558.2,283.5 550.6,291.8 540.8,301.6 533.9,307.1 526.9,307.8 520,301.6 511.7,291.8 501.9,280.7 498.5,272.4 503.3,268.2 513.1,261.3 521.4,254.3"/></g>
<g transform="translate(113.7,150.2)" fill="none" stroke="#000" stroke-width="3.5" opacity="0.35" filter="url(#fe)"><polygon points="469.7,256.1 478.8,257.6 484.8,261.4 493.9,272.7 503,283.3 507.6,290.2 506.8,298.5 500,306.1 490.9,316.7 486.4,318.9 480.3,316.7 471.2,306.1 462.1,293.9 454.5,282.6 456.1,275.8 460.6,266.7 465.2,259.1"/><polygon points="527.6,251.6 533.9,251.6 540.8,257.1 549.2,265.4 556.1,272.4 558.9,277.9 558.2,283.5 550.6,291.8 540.8,301.6 533.9,307.1 526.9,307.8 520,301.6 511.7,291.8 501.9,280.7 498.5,272.4 503.3,268.2 513.1,261.3 521.4,254.3"/></g>
<rect x="562.7" y="396.2" width="116" height="74" filter="url(#speck)" opacity="0.75"/>
</g>
<rect x="447" y="474" width="236" height="1" fill="#9a9a9a"/>
<text x="453.5" y="264.5" font-size="14" fill="#fff">f</text>
<text x="660.3" y="262.8" font-size="14.2" fill="#fff">Sr</text>
<text x="547.6" y="335.6" font-size="14.2" fill="#fff">Ti</text>
<text x="660.3" y="336" font-size="14.2" fill="#fff">O</text>
<text x="547.5" y="410.4" font-size="14.2" fill="#fff">N</text>
<text x="662" y="410.4" font-size="14.2" fill="#fff">F</text>
<text x="539" y="458.6" font-size="13.4" fill="#fff">0.5 μm</text>
<rect x="540.6" y="464.1" width="36.6" height="3.8" fill="#000" stroke="#fff" stroke-width="1.2"/>

</svg></body></html>
